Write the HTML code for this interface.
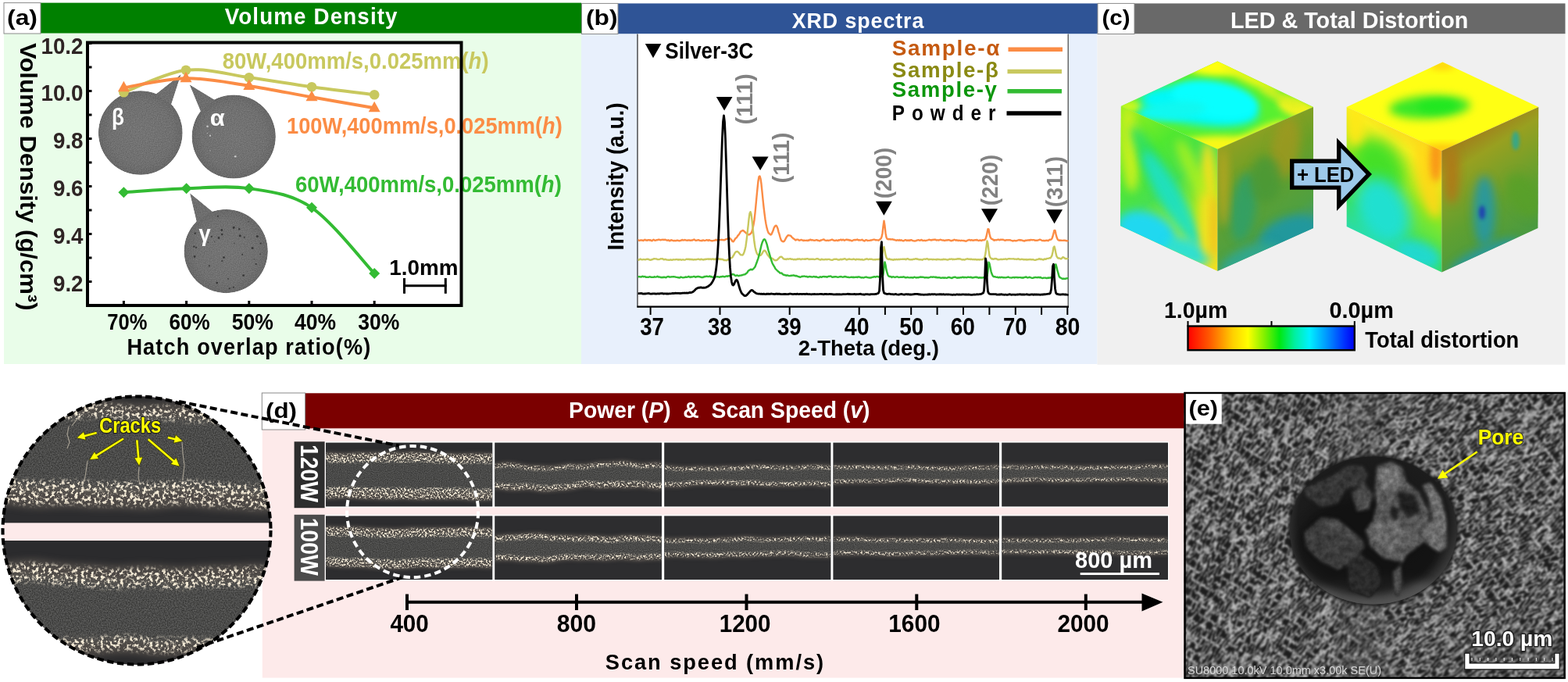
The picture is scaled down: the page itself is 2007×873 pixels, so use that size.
<!DOCTYPE html>
<html lang="en"><head><meta charset="utf-8"><title>Figure</title>
<style>
html,body{margin:0;padding:0;background:#fff;}
body{width:2007px;height:873px;overflow:hidden;}
svg{display:block;font-family:"Liberation Sans",sans-serif;}
</style></head><body>
<svg width="2007" height="873" viewBox="0 0 2007 873">
<defs>
<clipPath id="clipB"><rect x="816.6" y="44" width="750" height="348"/></clipPath>
<radialGradient id="sampG" cx="0.5" cy="0.5" r="0.5">
<stop offset="0" stop-color="#747474"/><stop offset="0.75" stop-color="#707070"/><stop offset="1" stop-color="#686868"/></radialGradient>
<filter id="grain" x="0" y="0" width="100%" height="100%" color-interpolation-filters="sRGB">
<feTurbulence type="fractalNoise" baseFrequency="0.8" numOctaves="1" seed="2" result="n"/>
<feColorMatrix in="n" type="matrix" values="1 0 0 0 0  1 0 0 0 0  1 0 0 0 0  0 0 0 0 1" result="m"/>
<feComposite in="SourceGraphic" in2="m" operator="arithmetic" k1="0" k2="1" k3="0.2" k4="-0.1" result="c"/>
<feComposite in="c" in2="SourceGraphic" operator="in"/>
</filter>

<linearGradient id="cbar" x1="0" x2="1" y1="0" y2="0">
<stop offset="0" stop-color="#ff0000"/><stop offset="0.13" stop-color="#ff5a00"/><stop offset="0.27" stop-color="#ffd000"/>
<stop offset="0.36" stop-color="#ffff00"/><stop offset="0.46" stop-color="#80f000"/><stop offset="0.55" stop-color="#00e810"/>
<stop offset="0.64" stop-color="#00f0a0"/><stop offset="0.73" stop-color="#00f0ff"/><stop offset="0.84" stop-color="#0090ff"/>
<stop offset="0.94" stop-color="#0030ff"/><stop offset="1" stop-color="#0000f0"/></linearGradient>
<linearGradient id="c1left" gradientUnits="userSpaceOnUse" x1="1434" y1="150" x2="1558" y2="300">
<stop offset="0" stop-color="#90f020"/><stop offset="0.3" stop-color="#50e830"/><stop offset="0.55" stop-color="#48e050"/>
<stop offset="0.8" stop-color="#a8ec20"/><stop offset="1" stop-color="#f0e020"/></linearGradient>
<linearGradient id="c1right" gradientUnits="userSpaceOnUse" x1="1560" y1="180" x2="1660" y2="330">
<stop offset="0" stop-color="#98a020"/><stop offset="0.35" stop-color="#68a028"/><stop offset="0.7" stop-color="#50a040"/>
<stop offset="1" stop-color="#3098a0"/></linearGradient>
<linearGradient id="c2left" gradientUnits="userSpaceOnUse" x1="1840" y1="160" x2="1730" y2="320">
<stop offset="0" stop-color="#ffb818"/><stop offset="0.25" stop-color="#f8f020"/><stop offset="0.5" stop-color="#90e820"/>
<stop offset="0.75" stop-color="#38e060"/><stop offset="1" stop-color="#20d8e0"/></linearGradient>
<linearGradient id="c2right" gradientUnits="userSpaceOnUse" x1="1850" y1="170" x2="1950" y2="330">
<stop offset="0" stop-color="#a86818"/><stop offset="0.25" stop-color="#98a020"/><stop offset="0.6" stop-color="#60a030"/>
<stop offset="1" stop-color="#409848"/></linearGradient>
<filter color-interpolation-filters="sRGB" id="bl2" x="-50%" y="-50%" width="200%" height="200%"><feGaussianBlur stdDeviation="2"/></filter>
<filter color-interpolation-filters="sRGB" id="bl4" x="-50%" y="-50%" width="200%" height="200%"><feGaussianBlur stdDeviation="4"/></filter>
<filter color-interpolation-filters="sRGB" id="bl6" x="-50%" y="-50%" width="200%" height="200%"><feGaussianBlur stdDeviation="6"/></filter>
<filter color-interpolation-filters="sRGB" id="bl8" x="-50%" y="-50%" width="200%" height="200%"><feGaussianBlur stdDeviation="9"/></filter>

<filter id="speck" x="-2%" y="-10%" width="104%" height="120%" color-interpolation-filters="sRGB">
<feTurbulence type="fractalNoise" baseFrequency="0.45 0.45" numOctaves="2" seed="7" result="n"/>
<feColorMatrix in="n" type="matrix" values="0 0 0 0 0.96  0 0 0 0 0.92  0 0 0 0 0.84  6 0 0 0 -2.85" result="m"/>
<feGaussianBlur in="SourceGraphic" stdDeviation="0.8" result="s"/>
<feComposite in="m" in2="s" operator="in"/>
</filter>
<filter id="speckZ" x="-2%" y="-10%" width="104%" height="120%" color-interpolation-filters="sRGB">
<feTurbulence type="fractalNoise" baseFrequency="0.24 0.24" numOctaves="3" seed="17" result="n"/>
<feColorMatrix in="n" type="matrix" values="0 0 0 0 0.96  0 0 0 0 0.92  0 0 0 0 0.84  6 0 0 0 -2.95" result="m"/>
<feGaussianBlur in="SourceGraphic" stdDeviation="2.5" result="s"/>
<feComposite in="m" in2="s" operator="in"/>
</filter>
<filter id="grainD" x="0" y="0" width="100%" height="100%" color-interpolation-filters="sRGB">
<feTurbulence type="fractalNoise" baseFrequency="0.9" numOctaves="1" seed="11" result="n"/>
<feColorMatrix in="n" type="matrix" values="0.3 0 0 0 0.14  0.3 0 0 0 0.14  0.3 0 0 0 0.135  0 0 0 0 1" result="m"/>
<feGaussianBlur in="SourceGraphic" stdDeviation="1.2" result="s"/>
<feComposite in="m" in2="s" operator="in"/>
</filter>
<filter id="grainZ" x="0" y="0" width="100%" height="100%" color-interpolation-filters="sRGB">
<feTurbulence type="fractalNoise" baseFrequency="0.7" numOctaves="1" seed="12" result="n"/>
<feColorMatrix in="n" type="matrix" values="0.36 0 0 0 0.115  0.36 0 0 0 0.115  0.36 0 0 0 0.11  0 0 0 0 1" result="m"/>
<feGaussianBlur in="SourceGraphic" stdDeviation="2.5" result="s"/>
<feComposite in="m" in2="s" operator="in"/>
</filter>

<filter id="sem" x="0" y="0" width="100%" height="100%" color-interpolation-filters="sRGB">
<feTurbulence type="turbulence" baseFrequency="0.09 0.25" numOctaves="2" seed="3"/>
<feColorMatrix type="matrix" values="-4 0 0 0 1.25  -4 0 0 0 1.25  -4 0 0 0 1.25  0 0 0 0 1"/>
<feGaussianBlur stdDeviation="0.8"/>
<feColorMatrix type="matrix" values="0.66 0 0 0 0.115  0 0.66 0 0 0.115  0 0 0.66 0 0.115  0 0 0 0 1"/>
</filter>
<filter id="sem2" x="0" y="0" width="100%" height="100%" color-interpolation-filters="sRGB">
<feTurbulence type="turbulence" baseFrequency="0.085 0.25" numOctaves="2" seed="8"/>
<feColorMatrix type="matrix" values="-4 0 0 0 1.25  -4 0 0 0 1.25  -4 0 0 0 1.25  0 0 0 0 1"/>
<feGaussianBlur stdDeviation="0.8"/>
<feColorMatrix type="matrix" values="0.66 0 0 0 0.115  0 0.66 0 0 0.115  0 0 0.66 0 0.115  0 0 0 0 1"/>
</filter>
<filter id="semP" x="-5%" y="-5%" width="110%" height="110%" color-interpolation-filters="sRGB">
<feTurbulence type="fractalNoise" baseFrequency="0.13" numOctaves="3" seed="9" result="n"/>
<feColorMatrix in="n" type="matrix" values="1 0 0 0 0  1 0 0 0 0  1 0 0 0 0  0 0 0 0 1" result="m"/>
<feGaussianBlur in="SourceGraphic" stdDeviation="2" result="s"/>
<feComposite in="s" in2="m" operator="arithmetic" k1="0.7" k2="0.65" k3="0" k4="0" result="c"/>
<feComposite in="c" in2="s" operator="in"/>
</filter>
<radialGradient id="poreG" cx="0.5" cy="0.42" r="0.62">
<stop offset="0" stop-color="#141414"/><stop offset="0.72" stop-color="#1c1c1c"/><stop offset="0.88" stop-color="#3c3c3c"/><stop offset="1" stop-color="#5a5a5a"/></radialGradient>
</defs>
<rect x="5.0" y="42.0" width="739.0" height="424.0" fill="#e9fde9"/>
<rect x="52.0" y="3.6" width="692.0" height="38.9" fill="#008000"/>
<rect x="5.0" y="3.6" width="47.0" height="39.4" fill="#fff" stroke="#8a8a8a" stroke-width="1"/>
<text x="9.0" y="32.0" font-size="28.34" font-weight="bold" fill="#000" textLength="39.0" lengthAdjust="spacingAndGlyphs">(a)</text>
<text x="287.7" y="31.0" font-size="29.07" font-weight="bold" fill="#fff" textLength="222.0" lengthAdjust="spacingAndGlyphs" letter-spacing="1.2">Volume Density</text>
<rect x="112.0" y="54.5" width="478.5" height="336.5" fill="#fff"/>
<line x1="112.0" y1="55.5" x2="117.5" y2="55.5" stroke="#000" stroke-width="3"/>
<line x1="112.0" y1="86.0" x2="117.5" y2="86.0" stroke="#000" stroke-width="3"/>
<line x1="112.0" y1="116.5" x2="117.5" y2="116.5" stroke="#000" stroke-width="3"/>
<line x1="112.0" y1="147.0" x2="117.5" y2="147.0" stroke="#000" stroke-width="3"/>
<line x1="112.0" y1="177.5" x2="117.5" y2="177.5" stroke="#000" stroke-width="3"/>
<line x1="112.0" y1="208.0" x2="117.5" y2="208.0" stroke="#000" stroke-width="3"/>
<line x1="112.0" y1="238.5" x2="117.5" y2="238.5" stroke="#000" stroke-width="3"/>
<line x1="112.0" y1="269.0" x2="117.5" y2="269.0" stroke="#000" stroke-width="3"/>
<line x1="112.0" y1="299.5" x2="117.5" y2="299.5" stroke="#000" stroke-width="3"/>
<line x1="112.0" y1="330.0" x2="117.5" y2="330.0" stroke="#000" stroke-width="3"/>
<line x1="112.0" y1="360.5" x2="117.5" y2="360.5" stroke="#000" stroke-width="3"/>
<text x="52.5" y="68.8" font-size="28.78" font-weight="bold" fill="#2e2424" textLength="54.0" lengthAdjust="spacingAndGlyphs">10.2</text>
<text x="52.5" y="129.1" font-size="28.78" font-weight="bold" fill="#2e2424" textLength="54.0" lengthAdjust="spacingAndGlyphs">10.0</text>
<text x="68.0" y="189.8" font-size="28.78" font-weight="bold" fill="#2e2424" textLength="38.5" lengthAdjust="spacingAndGlyphs">9.8</text>
<text x="68.0" y="250.8" font-size="28.78" font-weight="bold" fill="#2e2424" textLength="38.5" lengthAdjust="spacingAndGlyphs">9.6</text>
<text x="68.0" y="311.8" font-size="28.78" font-weight="bold" fill="#2e2424" textLength="38.5" lengthAdjust="spacingAndGlyphs">9.4</text>
<text x="68.0" y="372.8" font-size="28.78" font-weight="bold" fill="#2e2424" textLength="38.5" lengthAdjust="spacingAndGlyphs">9.2</text>
<line x1="158.4" y1="385.0" x2="158.4" y2="391.0" stroke="#000" stroke-width="3"/>
<line x1="238.6" y1="385.0" x2="238.6" y2="391.0" stroke="#000" stroke-width="3"/>
<line x1="318.8" y1="385.0" x2="318.8" y2="391.0" stroke="#000" stroke-width="3"/>
<line x1="399.0" y1="385.0" x2="399.0" y2="391.0" stroke="#000" stroke-width="3"/>
<line x1="479.2" y1="385.0" x2="479.2" y2="391.0" stroke="#000" stroke-width="3"/>
<text x="137.3" y="421.6" font-size="29.94" font-weight="bold" fill="#000" textLength="51.2" lengthAdjust="spacingAndGlyphs">70%</text>
<text x="216.5" y="421.6" font-size="29.94" font-weight="bold" fill="#000" textLength="52.2" lengthAdjust="spacingAndGlyphs">60%</text>
<text x="296.7" y="421.6" font-size="29.94" font-weight="bold" fill="#000" textLength="53.2" lengthAdjust="spacingAndGlyphs">50%</text>
<text x="377.0" y="421.6" font-size="29.94" font-weight="bold" fill="#000" textLength="53.0" lengthAdjust="spacingAndGlyphs">40%</text>
<text x="458.2" y="421.6" font-size="29.94" font-weight="bold" fill="#000" textLength="53.1" lengthAdjust="spacingAndGlyphs">30%</text>
<text x="162.4" y="454.4" font-size="28.63" font-weight="bold" fill="#000" textLength="313.0" lengthAdjust="spacingAndGlyphs" letter-spacing="1.2">Hatch overlap ratio(%)</text>
<text x="0" y="0" font-size="29.51" font-weight="bold" fill="#000" textLength="342.5" lengthAdjust="spacingAndGlyphs" transform="translate(26.0 55.0) rotate(90)">Volume Density  (g/cm³)</text>
<g filter="url(#grain)"><circle cx="179.8" cy="170" r="53.8" fill="url(#sampG)"/><polygon points="231.6,95.2 199.0,121.0 219.0,134.0" fill="#6e6e6e"/>
<circle cx="299.2" cy="175" r="53.6" fill="url(#sampG)"/><polygon points="242.6,108.3 257.0,143.0 275.0,128.0" fill="#6e6e6e"/>
<circle cx="289.2" cy="321.6" r="53.6" fill="url(#sampG)"/><polygon points="243.0,247.2 252.0,285.0 272.0,271.0" fill="#6e6e6e"/>
</g>
<circle cx="291.9" cy="356.9" r="0.9" fill="#2a2a2a" opacity="0.8"/><circle cx="259.0" cy="298.5" r="0.7" fill="#2a2a2a" opacity="0.8"/><circle cx="333.0" cy="325.2" r="0.8" fill="#2a2a2a" opacity="0.8"/><circle cx="293.9" cy="369.3" r="1.0" fill="#2a2a2a" opacity="0.8"/><circle cx="306.3" cy="293.2" r="1.2" fill="#2a2a2a" opacity="0.8"/><circle cx="311.6" cy="352.6" r="1.4" fill="#2a2a2a" opacity="0.8"/><circle cx="248.3" cy="315.6" r="1.2" fill="#2a2a2a" opacity="0.8"/><circle cx="327.7" cy="338.0" r="1.1" fill="#2a2a2a" opacity="0.8"/><circle cx="286.5" cy="329.6" r="1.4" fill="#2a2a2a" opacity="0.8"/><circle cx="249.1" cy="328.5" r="1.4" fill="#2a2a2a" opacity="0.8"/><circle cx="278.9" cy="276.7" r="1.0" fill="#2a2a2a" opacity="0.8"/><circle cx="299.3" cy="291.2" r="1.4" fill="#2a2a2a" opacity="0.8"/><circle cx="300.0" cy="311.3" r="0.7" fill="#2a2a2a" opacity="0.8"/><circle cx="298.9" cy="367.8" r="1.0" fill="#2a2a2a" opacity="0.8"/><circle cx="270.8" cy="302.8" r="1.1" fill="#2a2a2a" opacity="0.8"/><circle cx="267.8" cy="340.3" r="1.1" fill="#2a2a2a" opacity="0.8"/><circle cx="249.8" cy="298.6" r="1.2" fill="#2a2a2a" opacity="0.8"/><circle cx="329.3" cy="302.4" r="1.5" fill="#2a2a2a" opacity="0.8"/><circle cx="280.0" cy="304.5" r="1.4" fill="#2a2a2a" opacity="0.8"/><circle cx="333.7" cy="311.5" r="1.1" fill="#2a2a2a" opacity="0.8"/><circle cx="284.2" cy="300.1" r="1.3" fill="#2a2a2a" opacity="0.8"/><circle cx="266.3" cy="310.2" r="0.7" fill="#2a2a2a" opacity="0.8"/><circle cx="318.2" cy="283.7" r="0.7" fill="#2a2a2a" opacity="0.8"/><circle cx="298.8" cy="292.4" r="0.7" fill="#2a2a2a" opacity="0.8"/><circle cx="277.7" cy="362.1" r="1.4" fill="#2a2a2a" opacity="0.8"/><circle cx="325.4" cy="331.9" r="0.6" fill="#2a2a2a" opacity="0.8"/><circle cx="283.8" cy="294.5" r="1.4" fill="#2a2a2a" opacity="0.8"/><circle cx="323.1" cy="317.5" r="1.5" fill="#2a2a2a" opacity="0.8"/><circle cx="284.3" cy="334.0" r="1.1" fill="#2a2a2a" opacity="0.8"/><circle cx="310.1" cy="325.8" r="1.0" fill="#2a2a2a" opacity="0.8"/><circle cx="274.6" cy="309.5" r="0.6" fill="#2a2a2a" opacity="0.8"/><circle cx="307.3" cy="301.7" r="1.5" fill="#2a2a2a" opacity="0.8"/><circle cx="312.7" cy="303.8" r="1.0" fill="#2a2a2a" opacity="0.8"/><circle cx="251.0" cy="316.8" r="1.1" fill="#2a2a2a" opacity="0.8"/><circle cx="265.5" cy="161.8" r="1.3" fill="#ddd" opacity="0.8"/><circle cx="269.0" cy="173.7" r="1.1" fill="#ddd" opacity="0.8"/><circle cx="301.2" cy="200.2" r="1.3" fill="#ddd" opacity="0.8"/><circle cx="265.4" cy="170.5" r="0.6" fill="#ddd" opacity="0.8"/><circle cx="269.0" cy="192.8" r="0.6" fill="#ddd" opacity="0.8"/><circle cx="271.9" cy="150.7" r="0.6" fill="#ddd" opacity="0.8"/><circle cx="277.3" cy="152.5" r="1.1" fill="#ddd" opacity="0.8"/>
<text x="143.0" y="160.0" font-size="29.07" font-weight="bold" fill="#fff" textLength="16.0" lengthAdjust="spacingAndGlyphs">β</text>
<text x="268.7" y="161.4" font-size="29.07" font-weight="bold" fill="#fff" textLength="19.0" lengthAdjust="spacingAndGlyphs">α</text>
<text x="254.6" y="309.2" font-size="29.94" font-weight="bold" fill="#fff" textLength="15.1" lengthAdjust="spacingAndGlyphs">γ</text>
<path d="M158.4 118.3 C171.7 113.5 211.3 93.0 238.0 89.8 C264.7 86.6 292.0 95.6 318.8 99.2 C345.6 102.8 372.3 107.6 399.0 111.3 C425.7 115.0 465.8 119.6 479.2 121.3" fill="none" stroke="#c8c85e" stroke-width="4" stroke-linecap="round"/>
<circle cx="158.4" cy="118.3" r="6.3" fill="#c8c85e"/><circle cx="238" cy="89.8" r="6.3" fill="#c8c85e"/><circle cx="318.8" cy="99.2" r="6.3" fill="#c8c85e"/><circle cx="399" cy="111.3" r="6.3" fill="#c8c85e"/><circle cx="479.2" cy="121.3" r="6.3" fill="#c8c85e"/><path d="M158.4 112.3 C171.7 110.3 211.3 100.6 238.0 100.2 C264.7 99.8 292.0 105.9 318.8 109.9 C345.6 113.9 372.3 119.6 399.0 124.3 C425.7 129.0 465.8 136.0 479.2 138.3" fill="none" stroke="#fb8c45" stroke-width="4" stroke-linecap="round"/>
<polygon points="158.4,103.8 150.9,117.3 165.9,117.3" fill="#fb8c45"/>
<polygon points="238.0,91.7 230.5,105.2 245.5,105.2" fill="#fb8c45"/>
<polygon points="318.8,101.4 311.3,114.9 326.3,114.9" fill="#fb8c45"/>
<polygon points="399.0,115.8 391.5,129.3 406.5,129.3" fill="#fb8c45"/>
<polygon points="479.2,129.8 471.7,143.3 486.7,143.3" fill="#fb8c45"/>
<path d="M158.4 246.2 C171.8 245.4 211.9 242.0 238.6 241.2 C265.3 240.4 292.1 237.1 318.8 241.2 C345.5 245.3 372.3 247.7 399.0 265.8 C425.7 284.0 465.8 336.1 479.2 350.1" fill="none" stroke="#33bb33" stroke-width="4" stroke-linecap="round"/>
<polygon points="158.4,239.2 151.4,246.2 158.4,253.2 165.4,246.2" fill="#33bb33"/>
<polygon points="238.6,234.2 231.6,241.2 238.6,248.2 245.6,241.2" fill="#33bb33"/>
<polygon points="318.8,234.2 311.8,241.2 318.8,248.2 325.8,241.2" fill="#33bb33"/>
<polygon points="399.0,258.8 392.0,265.8 399.0,272.8 406.0,265.8" fill="#33bb33"/>
<polygon points="479.2,343.1 472.2,350.1 479.2,357.1 486.2,350.1" fill="#33bb33"/>

<text x="284.7" y="88.4" font-size="30.23" font-weight="bold" fill="#c8c85e" textLength="340.9" lengthAdjust="spacingAndGlyphs">80W,400mm/s,0.025mm(<tspan font-style="italic">h</tspan>)</text>
<text x="367.0" y="170.5" font-size="30.23" font-weight="bold" fill="#fb8c45" textLength="352.8" lengthAdjust="spacingAndGlyphs">100W,400mm/s,0.025mm(<tspan font-style="italic">h</tspan>)</text>
<text x="378.0" y="246.0" font-size="30.23" font-weight="bold" fill="#33bb33" textLength="340.8" lengthAdjust="spacingAndGlyphs">60W,400mm/s,0.025mm(<tspan font-style="italic">h</tspan>)</text>
<rect x="112.0" y="54.5" width="478.5" height="336.5" fill="none" stroke="#000" stroke-width="4"/>
<text x="498.3" y="351.7" font-size="27.18" font-weight="bold" fill="#000" textLength="88.2" lengthAdjust="spacingAndGlyphs">1.0mm</text>
<line x1="516.3" y1="365.8" x2="571.5" y2="365.8" stroke="#000" stroke-width="3"/>
<line x1="517.5" y1="356.0" x2="517.5" y2="375.8" stroke="#000" stroke-width="3"/>
<line x1="570.3" y1="356.0" x2="570.3" y2="375.8" stroke="#000" stroke-width="3"/>
<rect x="744.0" y="42.0" width="660.5" height="424.0" fill="#e8f0fc"/>
<rect x="791.0" y="4.4" width="614.0" height="38.8" fill="#2f5496"/>
<rect x="744.5" y="4.4" width="46.5" height="39.1" fill="#fff" stroke="#8a8a8a" stroke-width="1"/>
<text x="750.0" y="32.2" font-size="28.34" font-weight="bold" fill="#000" textLength="40.5" lengthAdjust="spacingAndGlyphs">(b)</text>
<text x="1013.7" y="36.3" font-size="28.49" font-weight="bold" fill="#fff" textLength="169.6" lengthAdjust="spacingAndGlyphs" letter-spacing="1">XRD spectra</text>
<rect x="816.0" y="43.5" width="551.5" height="349.0" fill="#fff"/>
<line x1="816.0" y1="43.5" x2="816.0" y2="393.5" stroke="#222" stroke-width="1.2"/>
<line x1="1367.2" y1="43.5" x2="1367.2" y2="393.5" stroke="#444" stroke-width="1.2"/>
<line x1="815.5" y1="392.7" x2="1368.0" y2="392.7" stroke="#000" stroke-width="2.2"/>
<line x1="832.6" y1="392.0" x2="832.6" y2="403.0" stroke="#000" stroke-width="2"/>
<line x1="921.5" y1="392.0" x2="921.5" y2="403.0" stroke="#000" stroke-width="2"/>
<line x1="1010.7" y1="392.0" x2="1010.7" y2="403.0" stroke="#000" stroke-width="2"/>
<line x1="1099.7" y1="392.0" x2="1099.7" y2="403.0" stroke="#000" stroke-width="2"/>
<line x1="1132.9" y1="392.0" x2="1132.9" y2="403.0" stroke="#000" stroke-width="2"/>
<line x1="1166.2" y1="392.0" x2="1166.2" y2="403.0" stroke="#000" stroke-width="2"/>
<line x1="1199.6" y1="392.0" x2="1199.6" y2="403.0" stroke="#000" stroke-width="2"/>
<line x1="1233.0" y1="392.0" x2="1233.0" y2="403.0" stroke="#000" stroke-width="2"/>
<line x1="1266.4" y1="392.0" x2="1266.4" y2="403.0" stroke="#000" stroke-width="2"/>
<line x1="1299.8" y1="392.0" x2="1299.8" y2="403.0" stroke="#000" stroke-width="2"/>
<line x1="1333.1" y1="392.0" x2="1333.1" y2="403.0" stroke="#000" stroke-width="2"/>
<line x1="1366.3" y1="392.0" x2="1366.3" y2="403.0" stroke="#000" stroke-width="2"/>
<g clip-path="url(#clipB)">
<path d="M816.5 307.1 L817.5 307.7 L818.5 308.0 L819.5 307.5 L820.5 307.5 L821.5 307.5 L822.5 307.7 L823.5 308.0 L824.5 307.3 L825.5 306.8 L826.5 307.5 L827.5 307.5 L828.5 307.8 L829.5 307.1 L830.5 307.2 L831.5 307.6 L832.5 307.2 L833.5 307.9 L834.5 308.3 L835.5 307.4 L836.5 306.8 L837.5 307.2 L838.5 307.9 L839.5 307.6 L840.5 307.2 L841.5 307.2 L842.5 306.8 L843.5 306.7 L844.5 307.0 L845.5 307.2 L846.5 307.0 L847.5 306.9 L848.5 306.8 L849.5 307.0 L850.5 307.0 L851.5 306.6 L852.5 307.4 L853.5 307.5 L854.5 307.7 L855.5 307.2 L856.5 308.0 L857.5 308.3 L858.5 307.5 L859.5 307.3 L860.5 307.7 L861.5 307.9 L862.5 308.3 L863.5 307.9 L864.5 308.2 L865.5 308.1 L866.5 307.6 L867.5 307.7 L868.5 308.1 L869.5 308.3 L870.5 308.0 L871.5 307.9 L872.5 307.2 L873.5 307.0 L874.5 307.6 L875.5 307.4 L876.5 307.0 L877.5 307.3 L878.5 307.6 L879.5 307.8 L880.5 307.5 L881.5 307.4 L882.5 307.5 L883.5 307.8 L884.5 307.7 L885.5 307.5 L886.5 307.5 L887.5 306.9 L888.5 306.5 L889.5 307.2 L890.5 307.9 L891.5 307.8 L892.5 307.5 L893.5 307.1 L894.5 307.2 L895.5 307.9 L896.5 308.1 L897.5 307.9 L898.5 308.2 L899.5 307.5 L900.5 307.5 L901.5 308.0 L902.5 307.9 L903.5 307.6 L904.5 307.2 L905.5 307.4 L906.5 308.0 L907.5 307.1 L908.5 307.6 L909.5 307.9 L910.5 308.2 L911.5 308.1 L912.5 308.2 L913.5 307.9 L914.5 307.7 L915.5 307.5 L916.5 306.8 L917.5 307.5 L918.5 307.5 L919.5 307.0 L920.5 307.1 L921.5 307.1 L922.5 307.0 L923.5 306.9 L924.5 307.0 L925.5 307.2 L926.5 307.3 L927.5 307.2 L928.5 306.5 L929.5 306.3 L930.5 305.8 L931.5 305.5 L932.5 305.2 L933.5 304.7 L934.5 305.1 L935.5 306.4 L936.5 307.4 L937.5 309.0 L938.5 309.4 L939.5 308.2 L940.5 306.6 L941.5 305.0 L942.5 304.5 L943.5 303.1 L944.5 301.5 L945.5 300.6 L946.5 299.1 L947.5 297.3 L948.5 296.0 L949.5 295.6 L950.5 295.0 L951.5 295.1 L952.5 296.1 L953.5 297.0 L954.5 297.8 L955.5 298.9 L956.5 299.3 L957.5 300.1 L958.5 300.5 L959.5 300.1 L960.5 299.1 L961.5 298.5 L962.5 296.2 L963.5 292.3 L964.5 287.6 L965.5 281.5 L966.5 272.6 L967.5 262.4 L968.5 251.5 L969.5 241.4 L970.5 231.7 L971.5 226.2 L972.5 225.4 L973.5 228.8 L974.5 235.5 L975.5 245.3 L976.5 255.4 L977.5 264.9 L978.5 273.1 L979.5 280.9 L980.5 286.8 L981.5 291.7 L982.5 295.1 L983.5 297.9 L984.5 299.0 L985.5 299.7 L986.5 300.5 L987.5 299.9 L988.5 297.5 L989.5 295.3 L990.5 292.0 L991.5 290.2 L992.5 288.9 L993.5 288.8 L994.5 290.1 L995.5 292.5 L996.5 296.8 L997.5 299.7 L998.5 303.5 L999.5 306.7 L1000.5 308.4 L1001.5 308.8 L1002.5 309.4 L1003.5 309.0 L1004.5 307.6 L1005.5 305.7 L1006.5 303.9 L1007.5 302.4 L1008.5 301.2 L1009.5 301.3 L1010.5 301.4 L1011.5 301.6 L1012.5 302.1 L1013.5 303.6 L1014.5 304.4 L1015.5 305.4 L1016.5 305.8 L1017.5 306.8 L1018.5 307.5 L1019.5 306.8 L1020.5 306.6 L1021.5 306.6 L1022.5 307.5 L1023.5 307.7 L1024.5 307.3 L1025.5 306.9 L1026.5 307.3 L1027.5 307.7 L1028.5 308.1 L1029.5 307.6 L1030.5 307.9 L1031.5 307.9 L1032.5 307.7 L1033.5 308.1 L1034.5 307.5 L1035.5 307.7 L1036.5 307.0 L1037.5 306.7 L1038.5 307.5 L1039.5 307.1 L1040.5 307.5 L1041.5 307.6 L1042.5 307.9 L1043.5 307.6 L1044.5 307.3 L1045.5 307.1 L1046.5 307.7 L1047.5 307.7 L1048.5 308.2 L1049.5 308.4 L1050.5 307.5 L1051.5 307.5 L1052.5 307.0 L1053.5 306.6 L1054.5 306.4 L1055.5 307.3 L1056.5 307.7 L1057.5 308.0 L1058.5 307.6 L1059.5 307.7 L1060.5 308.0 L1061.5 307.6 L1062.5 307.6 L1063.5 307.2 L1064.5 306.8 L1065.5 306.8 L1066.5 307.5 L1067.5 307.6 L1068.5 308.1 L1069.5 307.8 L1070.5 307.4 L1071.5 307.8 L1072.5 308.1 L1073.5 307.2 L1074.5 307.5 L1075.5 307.0 L1076.5 306.7 L1077.5 307.5 L1078.5 306.9 L1079.5 306.8 L1080.5 307.7 L1081.5 307.5 L1082.5 307.0 L1083.5 306.8 L1084.5 306.7 L1085.5 307.4 L1086.5 306.9 L1087.5 307.7 L1088.5 307.4 L1089.5 308.1 L1090.5 308.4 L1091.5 307.8 L1092.5 307.3 L1093.5 307.4 L1094.5 306.9 L1095.5 307.3 L1096.5 306.8 L1097.5 306.5 L1098.5 307.5 L1099.5 307.2 L1100.5 307.5 L1101.5 307.4 L1102.5 307.2 L1103.5 306.8 L1104.5 307.6 L1105.5 308.1 L1106.5 308.5 L1107.5 307.6 L1108.5 307.2 L1109.5 307.4 L1110.5 308.1 L1111.5 307.9 L1112.5 307.9 L1113.5 307.9 L1114.5 307.4 L1115.5 307.5 L1116.5 307.2 L1117.5 306.9 L1118.5 306.6 L1119.5 306.6 L1120.5 307.4 L1121.5 307.3 L1122.5 307.4 L1123.5 307.4 L1124.5 307.7 L1125.5 307.0 L1126.5 306.3 L1127.5 305.4 L1128.5 303.3 L1129.5 298.7 L1130.5 289.7 L1131.5 282.7 L1132.5 288.9 L1133.5 298.4 L1134.5 303.8 L1135.5 305.8 L1136.5 306.2 L1137.5 306.0 L1138.5 306.2 L1139.5 306.1 L1140.5 306.6 L1141.5 306.4 L1142.5 306.2 L1143.5 306.9 L1144.5 306.8 L1145.5 307.4 L1146.5 307.4 L1147.5 307.9 L1148.5 307.3 L1149.5 307.4 L1150.5 307.8 L1151.5 307.1 L1152.5 307.9 L1153.5 307.3 L1154.5 307.7 L1155.5 308.3 L1156.5 308.4 L1157.5 307.8 L1158.5 307.2 L1159.5 307.3 L1160.5 308.0 L1161.5 307.5 L1162.5 308.0 L1163.5 307.4 L1164.5 308.0 L1165.5 307.2 L1166.5 307.1 L1167.5 307.8 L1168.5 308.1 L1169.5 308.4 L1170.5 308.5 L1171.5 308.4 L1172.5 308.3 L1173.5 307.6 L1174.5 307.5 L1175.5 307.1 L1176.5 307.5 L1177.5 307.8 L1178.5 307.4 L1179.5 306.9 L1180.5 307.7 L1181.5 308.1 L1182.5 307.9 L1183.5 307.8 L1184.5 308.2 L1185.5 307.9 L1186.5 307.6 L1187.5 307.4 L1188.5 307.1 L1189.5 306.7 L1190.5 307.2 L1191.5 307.3 L1192.5 307.5 L1193.5 306.9 L1194.5 307.0 L1195.5 306.8 L1196.5 306.6 L1197.5 306.7 L1198.5 307.5 L1199.5 307.4 L1200.5 307.3 L1201.5 307.6 L1202.5 307.2 L1203.5 306.7 L1204.5 307.1 L1205.5 307.3 L1206.5 307.6 L1207.5 307.5 L1208.5 307.8 L1209.5 308.0 L1210.5 307.5 L1211.5 307.5 L1212.5 307.5 L1213.5 307.2 L1214.5 307.2 L1215.5 307.4 L1216.5 308.0 L1217.5 308.4 L1218.5 307.8 L1219.5 307.9 L1220.5 307.2 L1221.5 306.8 L1222.5 307.1 L1223.5 307.8 L1224.5 307.3 L1225.5 307.7 L1226.5 308.1 L1227.5 307.7 L1228.5 307.9 L1229.5 308.2 L1230.5 307.8 L1231.5 307.9 L1232.5 308.1 L1233.5 308.0 L1234.5 308.3 L1235.5 308.5 L1236.5 308.7 L1237.5 308.3 L1238.5 307.6 L1239.5 307.3 L1240.5 307.0 L1241.5 307.3 L1242.5 307.7 L1243.5 307.1 L1244.5 307.5 L1245.5 307.8 L1246.5 307.5 L1247.5 307.5 L1248.5 307.1 L1249.5 307.5 L1250.5 306.9 L1251.5 307.7 L1252.5 308.0 L1253.5 307.9 L1254.5 307.4 L1255.5 307.8 L1256.5 308.1 L1257.5 307.2 L1258.5 307.4 L1259.5 307.4 L1260.5 306.9 L1261.5 305.8 L1262.5 302.7 L1263.5 298.1 L1264.5 293.3 L1265.5 293.4 L1266.5 299.2 L1267.5 303.4 L1268.5 305.2 L1269.5 306.1 L1270.5 306.1 L1271.5 307.1 L1272.5 307.8 L1273.5 307.1 L1274.5 307.4 L1275.5 307.3 L1276.5 306.9 L1277.5 306.8 L1278.5 306.8 L1279.5 307.4 L1280.5 306.8 L1281.5 306.7 L1282.5 306.9 L1283.5 306.6 L1284.5 307.1 L1285.5 307.4 L1286.5 307.9 L1287.5 307.4 L1288.5 307.2 L1289.5 307.4 L1290.5 307.2 L1291.5 307.4 L1292.5 307.2 L1293.5 307.5 L1294.5 307.9 L1295.5 308.2 L1296.5 308.5 L1297.5 308.2 L1298.5 307.9 L1299.5 308.2 L1300.5 308.3 L1301.5 308.1 L1302.5 307.7 L1303.5 307.4 L1304.5 307.0 L1305.5 307.6 L1306.5 307.1 L1307.5 307.6 L1308.5 307.6 L1309.5 308.2 L1310.5 308.3 L1311.5 308.6 L1312.5 307.7 L1313.5 307.7 L1314.5 307.7 L1315.5 307.4 L1316.5 307.5 L1317.5 307.3 L1318.5 307.5 L1319.5 306.9 L1320.5 307.1 L1321.5 307.2 L1322.5 307.1 L1323.5 307.1 L1324.5 307.7 L1325.5 307.8 L1326.5 307.7 L1327.5 307.8 L1328.5 307.6 L1329.5 307.2 L1330.5 306.7 L1331.5 306.7 L1332.5 307.2 L1333.5 307.8 L1334.5 308.1 L1335.5 307.8 L1336.5 308.3 L1337.5 307.9 L1338.5 308.1 L1339.5 307.7 L1340.5 307.8 L1341.5 308.2 L1342.5 307.5 L1343.5 306.8 L1344.5 306.9 L1345.5 306.5 L1346.5 305.3 L1347.5 302.5 L1348.5 298.8 L1349.5 294.9 L1350.5 294.9 L1351.5 299.6 L1352.5 303.5 L1353.5 305.9 L1354.5 307.2 L1355.5 307.7 L1356.5 307.5 L1357.5 307.8 L1358.5 307.8 L1359.5 307.9 L1360.5 307.9 L1361.5 307.6 L1362.5 307.7 L1363.5 307.8 L1364.5 308.2 L1365.5 308.3 L1366.5 308.4" fill="none" stroke="#fb8c45" stroke-width="2.4" stroke-linejoin="round" stroke-linecap="round"/>
<path d="M816.5 332.5 L817.5 332.8 L818.5 332.0 L819.5 331.5 L820.5 332.1 L821.5 332.3 L822.5 332.4 L823.5 332.0 L824.5 332.1 L825.5 332.2 L826.5 332.2 L827.5 331.7 L828.5 331.7 L829.5 331.7 L830.5 332.1 L831.5 332.6 L832.5 332.8 L833.5 332.5 L834.5 332.3 L835.5 331.9 L836.5 331.4 L837.5 331.1 L838.5 331.4 L839.5 331.4 L840.5 331.5 L841.5 332.1 L842.5 332.1 L843.5 332.1 L844.5 331.8 L845.5 331.3 L846.5 331.4 L847.5 331.2 L848.5 331.5 L849.5 332.3 L850.5 332.3 L851.5 331.8 L852.5 332.3 L853.5 332.5 L854.5 332.6 L855.5 332.8 L856.5 332.7 L857.5 332.8 L858.5 332.3 L859.5 332.7 L860.5 332.9 L861.5 332.1 L862.5 332.4 L863.5 332.4 L864.5 332.2 L865.5 332.1 L866.5 332.0 L867.5 332.5 L868.5 332.3 L869.5 332.5 L870.5 332.1 L871.5 332.5 L872.5 332.7 L873.5 332.4 L874.5 332.3 L875.5 332.6 L876.5 332.6 L877.5 332.3 L878.5 331.8 L879.5 331.7 L880.5 332.0 L881.5 331.6 L882.5 332.2 L883.5 331.8 L884.5 332.3 L885.5 331.9 L886.5 332.4 L887.5 332.5 L888.5 332.2 L889.5 332.1 L890.5 332.2 L891.5 332.2 L892.5 331.9 L893.5 331.6 L894.5 331.7 L895.5 332.3 L896.5 332.3 L897.5 331.6 L898.5 332.1 L899.5 332.3 L900.5 332.6 L901.5 331.9 L902.5 332.2 L903.5 331.6 L904.5 331.8 L905.5 331.6 L906.5 331.4 L907.5 332.0 L908.5 331.5 L909.5 331.6 L910.5 332.1 L911.5 331.7 L912.5 331.4 L913.5 332.0 L914.5 331.8 L915.5 332.0 L916.5 331.4 L917.5 331.4 L918.5 331.2 L919.5 331.6 L920.5 331.2 L921.5 332.0 L922.5 331.5 L923.5 332.1 L924.5 331.8 L925.5 332.1 L926.5 333.0 L927.5 333.0 L928.5 333.0 L929.5 333.4 L930.5 333.1 L931.5 332.2 L932.5 332.6 L933.5 331.6 L934.5 330.7 L935.5 330.3 L936.5 329.9 L937.5 329.3 L938.5 327.6 L939.5 326.0 L940.5 324.0 L941.5 322.7 L942.5 322.1 L943.5 321.9 L944.5 322.4 L945.5 323.2 L946.5 324.5 L947.5 325.7 L948.5 326.4 L949.5 326.4 L950.5 326.5 L951.5 325.3 L952.5 322.9 L953.5 319.7 L954.5 315.2 L955.5 307.9 L956.5 299.6 L957.5 290.0 L958.5 280.7 L959.5 273.3 L960.5 271.2 L961.5 273.9 L962.5 281.7 L963.5 291.5 L964.5 300.9 L965.5 309.8 L966.5 316.2 L967.5 320.7 L968.5 323.6 L969.5 325.5 L970.5 326.4 L971.5 327.2 L972.5 327.0 L973.5 326.8 L974.5 325.8 L975.5 324.6 L976.5 322.5 L977.5 321.3 L978.5 320.6 L979.5 321.3 L980.5 322.6 L981.5 324.5 L982.5 326.3 L983.5 327.5 L984.5 328.9 L985.5 330.0 L986.5 330.1 L987.5 330.4 L988.5 331.0 L989.5 331.4 L990.5 332.5 L991.5 333.0 L992.5 333.2 L993.5 333.2 L994.5 332.8 L995.5 331.9 L996.5 331.0 L997.5 329.9 L998.5 328.9 L999.5 328.8 L1000.5 328.7 L1001.5 329.8 L1002.5 331.0 L1003.5 331.6 L1004.5 331.7 L1005.5 331.8 L1006.5 332.0 L1007.5 331.4 L1008.5 331.5 L1009.5 331.7 L1010.5 331.4 L1011.5 331.1 L1012.5 331.8 L1013.5 331.7 L1014.5 331.8 L1015.5 332.3 L1016.5 332.2 L1017.5 331.9 L1018.5 332.4 L1019.5 332.1 L1020.5 331.5 L1021.5 331.8 L1022.5 331.4 L1023.5 331.4 L1024.5 332.0 L1025.5 332.1 L1026.5 331.5 L1027.5 331.6 L1028.5 331.6 L1029.5 331.7 L1030.5 331.5 L1031.5 331.8 L1032.5 331.3 L1033.5 331.3 L1034.5 331.4 L1035.5 332.1 L1036.5 331.6 L1037.5 332.0 L1038.5 331.6 L1039.5 331.8 L1040.5 331.8 L1041.5 331.8 L1042.5 332.1 L1043.5 331.9 L1044.5 331.5 L1045.5 331.3 L1046.5 331.1 L1047.5 331.8 L1048.5 332.0 L1049.5 332.5 L1050.5 332.5 L1051.5 331.7 L1052.5 332.0 L1053.5 332.3 L1054.5 332.4 L1055.5 332.2 L1056.5 332.0 L1057.5 331.9 L1058.5 332.3 L1059.5 331.9 L1060.5 331.9 L1061.5 331.9 L1062.5 332.4 L1063.5 332.6 L1064.5 332.8 L1065.5 332.9 L1066.5 332.3 L1067.5 331.8 L1068.5 331.9 L1069.5 331.6 L1070.5 331.7 L1071.5 332.0 L1072.5 332.5 L1073.5 332.4 L1074.5 332.6 L1075.5 331.9 L1076.5 331.7 L1077.5 332.4 L1078.5 331.8 L1079.5 331.8 L1080.5 331.4 L1081.5 331.1 L1082.5 331.9 L1083.5 332.5 L1084.5 332.4 L1085.5 331.8 L1086.5 331.7 L1087.5 331.5 L1088.5 331.9 L1089.5 332.1 L1090.5 332.0 L1091.5 332.0 L1092.5 331.5 L1093.5 331.8 L1094.5 332.3 L1095.5 332.5 L1096.5 331.8 L1097.5 331.9 L1098.5 332.2 L1099.5 331.8 L1100.5 332.3 L1101.5 332.1 L1102.5 332.3 L1103.5 332.0 L1104.5 332.6 L1105.5 332.6 L1106.5 332.4 L1107.5 331.8 L1108.5 331.8 L1109.5 331.3 L1110.5 331.7 L1111.5 332.2 L1112.5 331.7 L1113.5 331.8 L1114.5 331.8 L1115.5 331.7 L1116.5 332.0 L1117.5 332.4 L1118.5 332.4 L1119.5 332.1 L1120.5 332.5 L1121.5 332.0 L1122.5 332.1 L1123.5 332.0 L1124.5 332.0 L1125.5 332.0 L1126.5 331.1 L1127.5 330.4 L1128.5 328.1 L1129.5 323.7 L1130.5 317.8 L1131.5 316.0 L1132.5 320.7 L1133.5 326.4 L1134.5 329.7 L1135.5 331.2 L1136.5 331.7 L1137.5 332.0 L1138.5 331.4 L1139.5 332.0 L1140.5 332.2 L1141.5 332.2 L1142.5 332.5 L1143.5 332.7 L1144.5 331.9 L1145.5 332.3 L1146.5 332.4 L1147.5 331.9 L1148.5 332.2 L1149.5 332.2 L1150.5 331.7 L1151.5 332.2 L1152.5 331.7 L1153.5 331.9 L1154.5 331.8 L1155.5 331.6 L1156.5 331.8 L1157.5 331.8 L1158.5 331.6 L1159.5 332.2 L1160.5 331.6 L1161.5 331.2 L1162.5 331.5 L1163.5 332.1 L1164.5 332.2 L1165.5 332.4 L1166.5 332.2 L1167.5 332.3 L1168.5 332.0 L1169.5 331.7 L1170.5 331.8 L1171.5 331.4 L1172.5 331.1 L1173.5 331.8 L1174.5 331.5 L1175.5 332.0 L1176.5 332.3 L1177.5 332.1 L1178.5 332.2 L1179.5 332.4 L1180.5 332.7 L1181.5 332.0 L1182.5 331.6 L1183.5 331.6 L1184.5 331.7 L1185.5 331.6 L1186.5 331.2 L1187.5 331.6 L1188.5 332.3 L1189.5 332.0 L1190.5 332.0 L1191.5 331.9 L1192.5 331.9 L1193.5 332.3 L1194.5 332.0 L1195.5 332.1 L1196.5 332.1 L1197.5 332.1 L1198.5 332.5 L1199.5 331.8 L1200.5 332.2 L1201.5 331.9 L1202.5 332.1 L1203.5 332.4 L1204.5 332.4 L1205.5 332.1 L1206.5 332.4 L1207.5 331.8 L1208.5 332.0 L1209.5 331.9 L1210.5 332.0 L1211.5 332.4 L1212.5 332.5 L1213.5 332.5 L1214.5 332.0 L1215.5 331.7 L1216.5 331.8 L1217.5 331.6 L1218.5 331.5 L1219.5 332.2 L1220.5 331.7 L1221.5 332.1 L1222.5 331.9 L1223.5 331.8 L1224.5 331.7 L1225.5 331.3 L1226.5 331.5 L1227.5 331.3 L1228.5 331.5 L1229.5 331.5 L1230.5 332.1 L1231.5 332.5 L1232.5 332.2 L1233.5 332.3 L1234.5 332.6 L1235.5 332.2 L1236.5 331.6 L1237.5 331.5 L1238.5 331.3 L1239.5 331.7 L1240.5 331.7 L1241.5 331.6 L1242.5 332.1 L1243.5 331.7 L1244.5 332.1 L1245.5 332.2 L1246.5 331.9 L1247.5 332.3 L1248.5 331.9 L1249.5 332.3 L1250.5 332.5 L1251.5 332.2 L1252.5 332.2 L1253.5 332.5 L1254.5 332.3 L1255.5 332.2 L1256.5 332.2 L1257.5 332.1 L1258.5 331.7 L1259.5 331.2 L1260.5 328.7 L1261.5 324.1 L1262.5 315.9 L1263.5 308.4 L1264.5 311.8 L1265.5 320.4 L1266.5 327.2 L1267.5 329.6 L1268.5 330.6 L1269.5 331.5 L1270.5 331.2 L1271.5 331.9 L1272.5 331.4 L1273.5 331.0 L1274.5 331.2 L1275.5 331.3 L1276.5 332.0 L1277.5 332.3 L1278.5 332.4 L1279.5 332.1 L1280.5 332.1 L1281.5 331.7 L1282.5 332.2 L1283.5 331.9 L1284.5 331.7 L1285.5 331.9 L1286.5 331.5 L1287.5 331.5 L1288.5 332.1 L1289.5 331.6 L1290.5 331.3 L1291.5 331.3 L1292.5 331.3 L1293.5 331.4 L1294.5 331.4 L1295.5 331.4 L1296.5 331.4 L1297.5 331.3 L1298.5 331.7 L1299.5 331.6 L1300.5 331.6 L1301.5 332.0 L1302.5 331.5 L1303.5 331.3 L1304.5 332.0 L1305.5 331.9 L1306.5 332.2 L1307.5 331.7 L1308.5 331.8 L1309.5 332.3 L1310.5 332.0 L1311.5 332.3 L1312.5 332.3 L1313.5 332.0 L1314.5 332.6 L1315.5 332.2 L1316.5 332.1 L1317.5 332.2 L1318.5 331.9 L1319.5 332.3 L1320.5 332.3 L1321.5 332.2 L1322.5 332.2 L1323.5 332.6 L1324.5 332.9 L1325.5 332.9 L1326.5 332.4 L1327.5 332.1 L1328.5 332.1 L1329.5 331.5 L1330.5 331.2 L1331.5 332.0 L1332.5 331.5 L1333.5 332.1 L1334.5 332.2 L1335.5 332.5 L1336.5 331.7 L1337.5 331.5 L1338.5 331.9 L1339.5 331.2 L1340.5 330.9 L1341.5 330.9 L1342.5 330.6 L1343.5 330.2 L1344.5 330.3 L1345.5 328.8 L1346.5 327.1 L1347.5 322.7 L1348.5 316.7 L1349.5 315.4 L1350.5 319.0 L1351.5 324.4 L1352.5 328.2 L1353.5 329.6 L1354.5 330.6 L1355.5 330.5 L1356.5 330.6 L1357.5 331.4 L1358.5 331.2 L1359.5 330.1 L1360.5 329.2 L1361.5 329.6 L1362.5 330.0 L1363.5 331.1 L1364.5 331.2 L1365.5 331.1 L1366.5 331.0" fill="none" stroke="#c8c85e" stroke-width="2.4" stroke-linejoin="round" stroke-linecap="round"/>
<path d="M816.5 354.1 L817.5 354.3 L818.5 354.2 L819.5 354.4 L820.5 354.6 L821.5 354.0 L822.5 353.6 L823.5 354.3 L824.5 354.1 L825.5 353.9 L826.5 354.7 L827.5 354.6 L828.5 354.9 L829.5 354.7 L830.5 354.7 L831.5 354.2 L832.5 354.5 L833.5 354.9 L834.5 354.7 L835.5 354.9 L836.5 354.9 L837.5 354.2 L838.5 354.6 L839.5 354.6 L840.5 354.3 L841.5 353.8 L842.5 354.5 L843.5 354.4 L844.5 354.7 L845.5 355.0 L846.5 355.0 L847.5 355.3 L848.5 354.8 L849.5 355.0 L850.5 354.7 L851.5 355.1 L852.5 355.3 L853.5 354.5 L854.5 354.1 L855.5 353.9 L856.5 354.6 L857.5 354.5 L858.5 354.6 L859.5 354.3 L860.5 354.4 L861.5 354.3 L862.5 354.2 L863.5 354.4 L864.5 354.5 L865.5 354.9 L866.5 354.9 L867.5 355.2 L868.5 355.3 L869.5 355.5 L870.5 355.3 L871.5 354.5 L872.5 354.9 L873.5 355.2 L874.5 355.4 L875.5 355.1 L876.5 355.0 L877.5 354.5 L878.5 354.8 L879.5 354.7 L880.5 354.4 L881.5 353.9 L882.5 354.5 L883.5 355.0 L884.5 354.3 L885.5 354.7 L886.5 354.4 L887.5 354.0 L888.5 353.9 L889.5 354.4 L890.5 354.8 L891.5 354.1 L892.5 354.3 L893.5 353.8 L894.5 354.3 L895.5 354.1 L896.5 354.6 L897.5 355.0 L898.5 354.8 L899.5 355.1 L900.5 354.6 L901.5 354.0 L902.5 354.2 L903.5 353.7 L904.5 353.6 L905.5 353.8 L906.5 354.1 L907.5 353.8 L908.5 353.4 L909.5 354.2 L910.5 354.0 L911.5 354.6 L912.5 354.9 L913.5 354.5 L914.5 354.3 L915.5 354.3 L916.5 354.4 L917.5 354.4 L918.5 354.3 L919.5 354.4 L920.5 354.7 L921.5 354.5 L922.5 354.2 L923.5 354.4 L924.5 353.9 L925.5 353.7 L926.5 354.3 L927.5 354.2 L928.5 354.1 L929.5 353.4 L930.5 353.5 L931.5 353.7 L932.5 353.1 L933.5 353.3 L934.5 353.1 L935.5 352.0 L936.5 351.5 L937.5 351.0 L938.5 351.2 L939.5 351.4 L940.5 352.4 L941.5 353.1 L942.5 352.7 L943.5 352.4 L944.5 352.8 L945.5 353.3 L946.5 352.7 L947.5 352.6 L948.5 352.6 L949.5 352.2 L950.5 352.0 L951.5 351.7 L952.5 351.4 L953.5 351.3 L954.5 350.5 L955.5 349.7 L956.5 348.9 L957.5 347.0 L958.5 346.1 L959.5 345.6 L960.5 345.0 L961.5 344.8 L962.5 345.4 L963.5 344.8 L964.5 343.9 L965.5 342.8 L966.5 341.5 L967.5 338.9 L968.5 336.3 L969.5 333.4 L970.5 330.6 L971.5 326.8 L972.5 323.2 L973.5 318.5 L974.5 314.2 L975.5 310.8 L976.5 308.5 L977.5 306.7 L978.5 306.3 L979.5 307.1 L980.5 309.6 L981.5 312.4 L982.5 316.4 L983.5 320.5 L984.5 323.7 L985.5 327.0 L986.5 330.7 L987.5 333.8 L988.5 336.7 L989.5 338.7 L990.5 340.3 L991.5 341.9 L992.5 344.0 L993.5 345.0 L994.5 346.0 L995.5 347.0 L996.5 347.8 L997.5 348.5 L998.5 349.6 L999.5 349.6 L1000.5 349.5 L1001.5 350.7 L1002.5 351.4 L1003.5 352.0 L1004.5 351.9 L1005.5 352.4 L1006.5 352.8 L1007.5 352.3 L1008.5 352.6 L1009.5 353.0 L1010.5 353.1 L1011.5 353.0 L1012.5 352.8 L1013.5 352.7 L1014.5 352.6 L1015.5 352.3 L1016.5 352.8 L1017.5 352.8 L1018.5 353.4 L1019.5 352.9 L1020.5 353.6 L1021.5 353.9 L1022.5 354.3 L1023.5 354.5 L1024.5 354.7 L1025.5 354.4 L1026.5 353.6 L1027.5 354.0 L1028.5 353.6 L1029.5 353.5 L1030.5 353.9 L1031.5 354.0 L1032.5 353.9 L1033.5 354.5 L1034.5 354.5 L1035.5 354.2 L1036.5 353.9 L1037.5 354.4 L1038.5 354.3 L1039.5 354.6 L1040.5 354.3 L1041.5 354.0 L1042.5 354.1 L1043.5 354.6 L1044.5 354.1 L1045.5 354.6 L1046.5 355.0 L1047.5 355.1 L1048.5 355.2 L1049.5 354.3 L1050.5 354.5 L1051.5 354.9 L1052.5 354.2 L1053.5 354.1 L1054.5 354.0 L1055.5 354.2 L1056.5 354.3 L1057.5 354.3 L1058.5 354.7 L1059.5 354.1 L1060.5 353.8 L1061.5 353.7 L1062.5 353.6 L1063.5 353.5 L1064.5 354.5 L1065.5 354.9 L1066.5 354.4 L1067.5 354.5 L1068.5 354.3 L1069.5 354.3 L1070.5 354.3 L1071.5 354.6 L1072.5 354.7 L1073.5 354.6 L1074.5 354.3 L1075.5 354.2 L1076.5 354.0 L1077.5 354.4 L1078.5 354.7 L1079.5 354.6 L1080.5 354.2 L1081.5 354.0 L1082.5 354.2 L1083.5 354.5 L1084.5 354.9 L1085.5 354.7 L1086.5 355.1 L1087.5 355.1 L1088.5 354.9 L1089.5 354.7 L1090.5 354.7 L1091.5 355.0 L1092.5 354.8 L1093.5 355.0 L1094.5 354.9 L1095.5 354.6 L1096.5 354.7 L1097.5 355.0 L1098.5 354.4 L1099.5 354.5 L1100.5 354.6 L1101.5 355.1 L1102.5 355.5 L1103.5 355.1 L1104.5 355.4 L1105.5 355.5 L1106.5 355.0 L1107.5 354.9 L1108.5 354.5 L1109.5 355.0 L1110.5 355.1 L1111.5 355.4 L1112.5 355.5 L1113.5 355.5 L1114.5 355.5 L1115.5 355.3 L1116.5 354.7 L1117.5 354.9 L1118.5 354.3 L1119.5 354.1 L1120.5 354.7 L1121.5 354.2 L1122.5 354.0 L1123.5 353.9 L1124.5 354.6 L1125.5 354.3 L1126.5 353.9 L1127.5 354.4 L1128.5 353.8 L1129.5 353.8 L1130.5 351.7 L1131.5 342.7 L1132.5 335.4 L1133.5 339.3 L1134.5 345.4 L1135.5 349.2 L1136.5 352.2 L1137.5 353.4 L1138.5 354.1 L1139.5 353.9 L1140.5 354.4 L1141.5 355.0 L1142.5 354.4 L1143.5 354.3 L1144.5 354.6 L1145.5 355.0 L1146.5 354.7 L1147.5 354.4 L1148.5 354.3 L1149.5 354.7 L1150.5 355.0 L1151.5 354.9 L1152.5 354.7 L1153.5 354.7 L1154.5 354.6 L1155.5 354.7 L1156.5 354.3 L1157.5 354.6 L1158.5 355.3 L1159.5 355.1 L1160.5 355.3 L1161.5 354.8 L1162.5 355.1 L1163.5 355.4 L1164.5 355.4 L1165.5 355.3 L1166.5 355.2 L1167.5 355.3 L1168.5 355.6 L1169.5 355.0 L1170.5 354.6 L1171.5 355.0 L1172.5 355.5 L1173.5 355.3 L1174.5 355.2 L1175.5 355.4 L1176.5 354.9 L1177.5 354.7 L1178.5 354.5 L1179.5 354.8 L1180.5 354.7 L1181.5 354.6 L1182.5 355.0 L1183.5 355.5 L1184.5 355.1 L1185.5 355.3 L1186.5 355.1 L1187.5 355.5 L1188.5 355.5 L1189.5 355.1 L1190.5 354.8 L1191.5 354.4 L1192.5 354.6 L1193.5 354.7 L1194.5 354.5 L1195.5 354.6 L1196.5 354.6 L1197.5 355.1 L1198.5 354.7 L1199.5 355.4 L1200.5 355.3 L1201.5 355.3 L1202.5 355.2 L1203.5 355.6 L1204.5 355.8 L1205.5 355.6 L1206.5 355.4 L1207.5 355.5 L1208.5 355.8 L1209.5 355.4 L1210.5 355.6 L1211.5 355.9 L1212.5 355.6 L1213.5 355.1 L1214.5 354.8 L1215.5 355.2 L1216.5 355.4 L1217.5 355.8 L1218.5 356.0 L1219.5 355.4 L1220.5 354.9 L1221.5 354.8 L1222.5 354.6 L1223.5 355.1 L1224.5 355.5 L1225.5 355.8 L1226.5 355.3 L1227.5 355.7 L1228.5 355.3 L1229.5 355.2 L1230.5 355.4 L1231.5 354.9 L1232.5 354.6 L1233.5 355.2 L1234.5 355.0 L1235.5 354.9 L1236.5 355.1 L1237.5 355.3 L1238.5 354.7 L1239.5 354.7 L1240.5 354.9 L1241.5 355.0 L1242.5 354.8 L1243.5 355.0 L1244.5 355.6 L1245.5 355.3 L1246.5 355.3 L1247.5 354.9 L1248.5 354.7 L1249.5 355.1 L1250.5 354.7 L1251.5 355.3 L1252.5 355.7 L1253.5 355.1 L1254.5 355.6 L1255.5 355.3 L1256.5 355.5 L1257.5 355.6 L1258.5 355.1 L1259.5 355.2 L1260.5 355.2 L1261.5 355.2 L1262.5 354.4 L1263.5 353.2 L1264.5 346.9 L1265.5 335.6 L1266.5 337.4 L1267.5 342.2 L1268.5 347.3 L1269.5 350.6 L1270.5 352.8 L1271.5 353.9 L1272.5 354.4 L1273.5 354.2 L1274.5 354.6 L1275.5 354.9 L1276.5 354.6 L1277.5 355.2 L1278.5 355.3 L1279.5 354.8 L1280.5 355.4 L1281.5 354.9 L1282.5 354.8 L1283.5 355.2 L1284.5 355.3 L1285.5 355.3 L1286.5 355.4 L1287.5 355.3 L1288.5 355.1 L1289.5 354.8 L1290.5 354.5 L1291.5 355.0 L1292.5 355.4 L1293.5 355.4 L1294.5 355.6 L1295.5 355.3 L1296.5 355.1 L1297.5 355.0 L1298.5 355.5 L1299.5 354.9 L1300.5 355.1 L1301.5 354.9 L1302.5 355.4 L1303.5 355.2 L1304.5 355.1 L1305.5 355.1 L1306.5 355.2 L1307.5 355.6 L1308.5 355.3 L1309.5 355.7 L1310.5 355.1 L1311.5 355.0 L1312.5 354.7 L1313.5 354.5 L1314.5 355.2 L1315.5 355.5 L1316.5 355.1 L1317.5 354.8 L1318.5 355.0 L1319.5 355.4 L1320.5 355.7 L1321.5 355.9 L1322.5 355.8 L1323.5 355.2 L1324.5 355.2 L1325.5 354.9 L1326.5 355.1 L1327.5 355.3 L1328.5 355.0 L1329.5 354.9 L1330.5 355.4 L1331.5 354.9 L1332.5 355.4 L1333.5 355.8 L1334.5 356.1 L1335.5 355.7 L1336.5 355.6 L1337.5 355.6 L1338.5 355.7 L1339.5 356.1 L1340.5 356.0 L1341.5 355.5 L1342.5 355.8 L1343.5 355.5 L1344.5 355.5 L1345.5 355.5 L1346.5 354.7 L1347.5 354.8 L1348.5 354.0 L1349.5 349.4 L1350.5 338.8 L1351.5 338.5 L1352.5 342.1 L1353.5 346.7 L1354.5 349.6 L1355.5 353.5 L1356.5 355.0 L1357.5 355.6 L1358.5 356.0 L1359.5 356.7 L1360.5 357.1 L1361.5 356.5 L1362.5 356.9 L1363.5 357.0 L1364.5 356.4 L1365.5 356.4 L1366.5 356.2" fill="none" stroke="#33bb33" stroke-width="2.4" stroke-linejoin="round" stroke-linecap="round"/>
<path d="M816.5 375.8 L817.5 375.7 L818.5 375.7 L819.5 375.6 L820.5 375.5 L821.5 375.6 L822.5 376.0 L823.5 376.1 L824.5 376.2 L825.5 375.9 L826.5 376.0 L827.5 375.8 L828.5 375.7 L829.5 375.6 L830.5 375.5 L831.5 375.9 L832.5 376.1 L833.5 376.2 L834.5 376.2 L835.5 375.9 L836.5 375.8 L837.5 375.9 L838.5 376.0 L839.5 376.1 L840.5 376.2 L841.5 375.9 L842.5 375.9 L843.5 376.0 L844.5 375.9 L845.5 375.7 L846.5 375.7 L847.5 375.5 L848.5 375.9 L849.5 376.0 L850.5 375.9 L851.5 375.8 L852.5 376.0 L853.5 375.9 L854.5 376.0 L855.5 376.1 L856.5 375.9 L857.5 375.8 L858.5 375.8 L859.5 375.7 L860.5 375.5 L861.5 375.4 L862.5 375.6 L863.5 375.3 L864.5 375.2 L865.5 375.4 L866.5 375.3 L867.5 375.4 L868.5 375.4 L869.5 375.3 L870.5 375.6 L871.5 375.3 L872.5 375.3 L873.5 375.1 L874.5 375.2 L875.5 375.1 L876.5 375.0 L877.5 375.2 L878.5 375.0 L879.5 375.0 L880.5 375.2 L881.5 374.8 L882.5 374.5 L883.5 374.4 L884.5 374.5 L885.5 374.3 L886.5 373.8 L887.5 373.2 L888.5 372.3 L889.5 371.4 L890.5 370.2 L891.5 369.5 L892.5 368.9 L893.5 368.5 L894.5 368.2 L895.5 368.3 L896.5 367.9 L897.5 367.9 L898.5 368.3 L899.5 368.4 L900.5 368.2 L901.5 368.3 L902.5 368.1 L903.5 368.1 L904.5 367.6 L905.5 367.1 L906.5 366.6 L907.5 365.7 L908.5 364.9 L909.5 364.2 L910.5 362.9 L911.5 361.4 L912.5 359.7 L913.5 357.7 L914.5 355.2 L915.5 351.1 L916.5 345.1 L917.5 336.3 L918.5 324.6 L919.5 308.3 L920.5 287.3 L921.5 261.9 L922.5 233.2 L923.5 203.3 L924.5 175.9 L925.5 155.6 L926.5 148.0 L927.5 156.1 L928.5 177.8 L929.5 208.7 L930.5 242.3 L931.5 275.0 L932.5 303.5 L933.5 326.0 L934.5 342.9 L935.5 354.0 L936.5 360.8 L937.5 364.4 L938.5 365.1 L939.5 364.0 L940.5 361.6 L941.5 359.5 L942.5 358.3 L943.5 358.8 L944.5 361.1 L945.5 364.7 L946.5 368.3 L947.5 371.3 L948.5 373.6 L949.5 375.5 L950.5 376.5 L951.5 377.3 L952.5 378.3 L953.5 378.6 L954.5 378.7 L955.5 377.9 L956.5 377.1 L957.5 375.9 L958.5 374.8 L959.5 373.6 L960.5 372.5 L961.5 371.6 L962.5 371.4 L963.5 372.0 L964.5 373.0 L965.5 373.9 L966.5 374.5 L967.5 375.2 L968.5 375.7 L969.5 376.0 L970.5 376.2 L971.5 376.2 L972.5 376.2 L973.5 376.3 L974.5 376.1 L975.5 376.3 L976.5 376.5 L977.5 376.1 L978.5 376.4 L979.5 376.6 L980.5 376.5 L981.5 376.1 L982.5 376.4 L983.5 376.1 L984.5 376.4 L985.5 376.4 L986.5 376.1 L987.5 376.0 L988.5 376.2 L989.5 376.3 L990.5 376.4 L991.5 376.6 L992.5 376.3 L993.5 376.0 L994.5 376.4 L995.5 376.1 L996.5 376.4 L997.5 376.2 L998.5 376.4 L999.5 376.6 L1000.5 376.7 L1001.5 376.6 L1002.5 376.7 L1003.5 376.4 L1004.5 376.5 L1005.5 376.4 L1006.5 376.6 L1007.5 376.7 L1008.5 376.6 L1009.5 376.5 L1010.5 376.2 L1011.5 376.0 L1012.5 376.2 L1013.5 376.3 L1014.5 376.6 L1015.5 376.6 L1016.5 376.3 L1017.5 376.3 L1018.5 376.5 L1019.5 376.5 L1020.5 376.2 L1021.5 376.5 L1022.5 376.7 L1023.5 376.4 L1024.5 376.4 L1025.5 376.4 L1026.5 376.6 L1027.5 376.4 L1028.5 376.3 L1029.5 376.4 L1030.5 376.7 L1031.5 376.4 L1032.5 376.2 L1033.5 376.4 L1034.5 376.7 L1035.5 376.6 L1036.5 376.5 L1037.5 376.7 L1038.5 376.8 L1039.5 376.5 L1040.5 376.7 L1041.5 376.5 L1042.5 376.4 L1043.5 376.6 L1044.5 376.6 L1045.5 376.7 L1046.5 376.5 L1047.5 376.7 L1048.5 376.5 L1049.5 376.3 L1050.5 376.4 L1051.5 376.4 L1052.5 376.5 L1053.5 376.7 L1054.5 376.8 L1055.5 376.4 L1056.5 376.4 L1057.5 376.5 L1058.5 376.5 L1059.5 376.7 L1060.5 376.6 L1061.5 376.4 L1062.5 376.3 L1063.5 376.6 L1064.5 376.5 L1065.5 376.7 L1066.5 376.9 L1067.5 376.9 L1068.5 376.9 L1069.5 376.8 L1070.5 376.6 L1071.5 376.9 L1072.5 376.7 L1073.5 376.9 L1074.5 376.7 L1075.5 376.9 L1076.5 376.9 L1077.5 376.9 L1078.5 376.7 L1079.5 376.5 L1080.5 376.7 L1081.5 376.6 L1082.5 376.7 L1083.5 376.5 L1084.5 376.3 L1085.5 376.2 L1086.5 376.6 L1087.5 376.4 L1088.5 376.7 L1089.5 376.6 L1090.5 376.7 L1091.5 376.6 L1092.5 376.7 L1093.5 376.4 L1094.5 376.5 L1095.5 376.8 L1096.5 376.5 L1097.5 376.7 L1098.5 376.6 L1099.5 376.5 L1100.5 376.3 L1101.5 376.2 L1102.5 376.6 L1103.5 376.8 L1104.5 376.9 L1105.5 377.0 L1106.5 377.1 L1107.5 376.7 L1108.5 376.7 L1109.5 376.7 L1110.5 376.7 L1111.5 376.9 L1112.5 376.9 L1113.5 377.0 L1114.5 376.6 L1115.5 376.7 L1116.5 376.7 L1117.5 376.7 L1118.5 376.6 L1119.5 376.7 L1120.5 376.3 L1121.5 376.4 L1122.5 376.0 L1123.5 375.7 L1124.5 375.1 L1125.5 372.6 L1126.5 357.7 L1127.5 317.4 L1128.5 309.7 L1129.5 351.4 L1130.5 371.2 L1131.5 375.0 L1132.5 375.6 L1133.5 375.9 L1134.5 376.3 L1135.5 376.3 L1136.5 376.3 L1137.5 376.2 L1138.5 376.2 L1139.5 376.4 L1140.5 376.6 L1141.5 376.7 L1142.5 376.6 L1143.5 376.9 L1144.5 376.9 L1145.5 376.6 L1146.5 376.4 L1147.5 376.8 L1148.5 377.0 L1149.5 377.2 L1150.5 377.1 L1151.5 376.8 L1152.5 376.6 L1153.5 376.5 L1154.5 376.5 L1155.5 376.8 L1156.5 377.0 L1157.5 377.1 L1158.5 376.8 L1159.5 376.6 L1160.5 376.6 L1161.5 376.9 L1162.5 376.7 L1163.5 376.9 L1164.5 377.0 L1165.5 376.9 L1166.5 377.1 L1167.5 376.9 L1168.5 376.9 L1169.5 376.6 L1170.5 376.5 L1171.5 376.4 L1172.5 376.4 L1173.5 376.4 L1174.5 376.3 L1175.5 376.8 L1176.5 376.7 L1177.5 377.0 L1178.5 377.0 L1179.5 377.1 L1180.5 377.1 L1181.5 377.2 L1182.5 377.3 L1183.5 377.2 L1184.5 377.1 L1185.5 377.1 L1186.5 377.1 L1187.5 377.0 L1188.5 377.0 L1189.5 376.7 L1190.5 377.0 L1191.5 376.9 L1192.5 376.7 L1193.5 376.6 L1194.5 376.9 L1195.5 376.7 L1196.5 376.7 L1197.5 376.9 L1198.5 377.1 L1199.5 376.9 L1200.5 376.8 L1201.5 376.8 L1202.5 376.6 L1203.5 376.9 L1204.5 376.6 L1205.5 377.0 L1206.5 376.8 L1207.5 376.6 L1208.5 376.9 L1209.5 377.1 L1210.5 376.9 L1211.5 376.9 L1212.5 376.9 L1213.5 377.0 L1214.5 376.8 L1215.5 377.0 L1216.5 377.2 L1217.5 377.2 L1218.5 377.3 L1219.5 377.4 L1220.5 377.1 L1221.5 377.2 L1222.5 377.3 L1223.5 377.2 L1224.5 376.9 L1225.5 376.9 L1226.5 377.2 L1227.5 377.0 L1228.5 377.0 L1229.5 377.2 L1230.5 377.1 L1231.5 376.8 L1232.5 376.9 L1233.5 376.8 L1234.5 377.0 L1235.5 377.1 L1236.5 376.9 L1237.5 377.1 L1238.5 377.1 L1239.5 376.9 L1240.5 377.1 L1241.5 377.2 L1242.5 377.3 L1243.5 377.4 L1244.5 377.3 L1245.5 377.2 L1246.5 377.1 L1247.5 377.0 L1248.5 377.2 L1249.5 377.0 L1250.5 376.7 L1251.5 376.8 L1252.5 376.8 L1253.5 376.7 L1254.5 376.7 L1255.5 376.4 L1256.5 376.1 L1257.5 375.6 L1258.5 375.1 L1259.5 372.0 L1260.5 357.2 L1261.5 331.0 L1262.5 335.8 L1263.5 361.7 L1264.5 373.2 L1265.5 375.3 L1266.5 376.1 L1267.5 376.5 L1268.5 376.7 L1269.5 376.5 L1270.5 376.7 L1271.5 376.5 L1272.5 376.7 L1273.5 376.6 L1274.5 376.6 L1275.5 377.0 L1276.5 377.1 L1277.5 377.2 L1278.5 377.0 L1279.5 376.9 L1280.5 377.0 L1281.5 376.7 L1282.5 376.8 L1283.5 377.1 L1284.5 377.2 L1285.5 377.3 L1286.5 377.1 L1287.5 377.2 L1288.5 377.3 L1289.5 377.3 L1290.5 377.1 L1291.5 376.9 L1292.5 376.7 L1293.5 377.0 L1294.5 377.3 L1295.5 377.1 L1296.5 377.2 L1297.5 377.1 L1298.5 377.1 L1299.5 377.3 L1300.5 377.1 L1301.5 377.1 L1302.5 377.0 L1303.5 377.0 L1304.5 376.8 L1305.5 376.7 L1306.5 376.8 L1307.5 377.1 L1308.5 376.9 L1309.5 377.1 L1310.5 376.9 L1311.5 377.2 L1312.5 377.0 L1313.5 376.8 L1314.5 376.7 L1315.5 377.1 L1316.5 377.2 L1317.5 377.4 L1318.5 377.2 L1319.5 377.0 L1320.5 376.9 L1321.5 376.9 L1322.5 377.3 L1323.5 377.0 L1324.5 376.9 L1325.5 377.1 L1326.5 376.9 L1327.5 377.2 L1328.5 377.0 L1329.5 377.1 L1330.5 377.1 L1331.5 377.3 L1332.5 377.0 L1333.5 377.2 L1334.5 376.9 L1335.5 377.0 L1336.5 376.7 L1337.5 376.9 L1338.5 376.7 L1339.5 376.5 L1340.5 376.3 L1341.5 376.2 L1342.5 376.0 L1343.5 376.0 L1344.5 374.9 L1345.5 370.5 L1346.5 358.6 L1347.5 340.8 L1348.5 338.2 L1349.5 355.0 L1350.5 369.2 L1351.5 374.7 L1352.5 376.3 L1353.5 376.3 L1354.5 376.8 L1355.5 376.9 L1356.5 377.0 L1357.5 377.2 L1358.5 376.9 L1359.5 376.8 L1360.5 376.7 L1361.5 376.8 L1362.5 377.0 L1363.5 377.0 L1364.5 377.0 L1365.5 377.2 L1366.5 377.3" fill="none" stroke="#000" stroke-width="2.8" stroke-linejoin="round" stroke-linecap="round"/>
</g>
<polygon points="825.8,56.0 846.3,56.0 836.0,74.2" fill="#000"/>
<text x="851.3" y="75.2" font-size="28.78" font-weight="bold" fill="#000" textLength="112.9" lengthAdjust="spacingAndGlyphs">Silver-3C</text>
<polygon points="916.8,124.0 937.5,124.0 927.1,141.4" fill="#000"/>
<polygon points="962.6,200.5 983.6,200.5 973.1,218.0" fill="#000"/>
<polygon points="1121.0,257.8 1141.8,257.8 1131.4,275.7" fill="#000"/>
<polygon points="1256.0,267.2 1277.0,267.2 1266.5,285.3" fill="#000"/>
<polygon points="1339.2,268.2 1360.0,268.2 1349.6,286.3" fill="#000"/>
<text x="0" y="0" font-size="29.07" font-weight="bold" fill="#828282" textLength="65.2" lengthAdjust="spacingAndGlyphs" transform="translate(963.0 159.4) rotate(-90)">(111)</text>
<text x="0" y="0" font-size="29.07" font-weight="bold" fill="#828282" textLength="64.8" lengthAdjust="spacingAndGlyphs" transform="translate(1009.7 234.4) rotate(-90)">(111)</text>
<text x="0" y="0" font-size="29.07" font-weight="bold" fill="#828282" textLength="65.2" lengthAdjust="spacingAndGlyphs" transform="translate(1140.7 254.2) rotate(-90)">(200)</text>
<text x="0" y="0" font-size="29.07" font-weight="bold" fill="#828282" textLength="65.2" lengthAdjust="spacingAndGlyphs" transform="translate(1277.0 263.2) rotate(-90)">(220)</text>
<text x="0" y="0" font-size="29.07" font-weight="bold" fill="#828282" textLength="65.2" lengthAdjust="spacingAndGlyphs" transform="translate(1359.7 265.2) rotate(-90)">(311)</text>
<text x="0" y="0" font-size="29.07" font-weight="bold" fill="#000" textLength="189.0" lengthAdjust="spacingAndGlyphs" transform="translate(797.8 320.5) rotate(-90)">Intensity (a.u.)</text>
<text x="1141.8" y="70.6" font-size="27.03" font-weight="bold" fill="#c55a11" textLength="139.2" lengthAdjust="spacingAndGlyphs" letter-spacing="1.6">Sample-α</text>
<text x="1141.8" y="98.6" font-size="27.03" font-weight="bold" fill="#8a8a14" textLength="137.7" lengthAdjust="spacingAndGlyphs" letter-spacing="1.6">Sample-β</text>
<text x="1141.8" y="123.7" font-size="27.03" font-weight="bold" fill="#0c960c" textLength="135.7" lengthAdjust="spacingAndGlyphs" letter-spacing="1.6">Sample-γ</text>
<text x="1141.8" y="154.4" font-size="27.03" font-weight="bold" fill="#000" textLength="141.7" lengthAdjust="spacingAndGlyphs" letter-spacing="10">Powder</text>
<line x1="1290.5" y1="63.2" x2="1360.0" y2="63.2" stroke="#fb8c45" stroke-width="5.5"/>
<line x1="1289.5" y1="91.6" x2="1359.0" y2="91.6" stroke="#c8c85e" stroke-width="5.5"/>
<line x1="1289.5" y1="116.7" x2="1359.0" y2="116.7" stroke="#33bb33" stroke-width="5.5"/>
<line x1="1288.5" y1="145.0" x2="1358.5" y2="145.0" stroke="#000" stroke-width="5.5"/>
<text x="819.2" y="429.0" font-size="30.81" font-weight="bold" fill="#000" textLength="30.7" lengthAdjust="spacingAndGlyphs">37</text>
<text x="906.0" y="429.0" font-size="30.81" font-weight="bold" fill="#000" textLength="30.5" lengthAdjust="spacingAndGlyphs">38</text>
<text x="995.0" y="429.0" font-size="30.81" font-weight="bold" fill="#000" textLength="30.7" lengthAdjust="spacingAndGlyphs">39</text>
<text x="1080.8" y="429.0" font-size="30.81" font-weight="bold" fill="#000" textLength="31.7" lengthAdjust="spacingAndGlyphs">40</text>
<text x="1151.2" y="429.0" font-size="30.81" font-weight="bold" fill="#000" textLength="31.1" lengthAdjust="spacingAndGlyphs">50</text>
<text x="1216.7" y="429.0" font-size="30.81" font-weight="bold" fill="#000" textLength="31.3" lengthAdjust="spacingAndGlyphs">60</text>
<text x="1284.1" y="429.0" font-size="30.81" font-weight="bold" fill="#000" textLength="30.5" lengthAdjust="spacingAndGlyphs">70</text>
<text x="1350.7" y="429.0" font-size="30.81" font-weight="bold" fill="#000" textLength="31.7" lengthAdjust="spacingAndGlyphs">80</text>
<text x="1021.7" y="455.4" font-size="28.34" font-weight="bold" fill="#000" textLength="180.2" lengthAdjust="spacingAndGlyphs">2-Theta (deg.)</text>
<rect x="1404.5" y="42.0" width="599.0" height="424.8" fill="#f0f0f0"/>
<rect x="1452.0" y="4.4" width="551.5" height="38.8" fill="#696969"/>
<rect x="1405.0" y="4.4" width="47.0" height="39.1" fill="#fff" stroke="#8a8a8a" stroke-width="1"/>
<text x="1410.5" y="32.2" font-size="28.34" font-weight="bold" fill="#000" textLength="36.0" lengthAdjust="spacingAndGlyphs">(c)</text>
<text x="1575.0" y="36.0" font-size="29.80" font-weight="bold" fill="#fff" textLength="304.3" lengthAdjust="spacingAndGlyphs">LED &amp; Total Distortion</text>
<defs><clipPath id="c1t"><polygon points="1558.4,78.5 1681.0,137.0 1558.4,191.0 1434.8,136.0"/></clipPath>
<clipPath id="c1l"><polygon points="1434.8,136.0 1558.4,191.0 1558.4,347.0 1434.0,289.0"/></clipPath>
<clipPath id="c1r"><polygon points="1558.4,191.0 1681.0,137.0 1681.0,292.0 1558.4,347.0"/></clipPath>
</defs>
<g clip-path="url(#c1t)"><rect x="1430.0" y="70.0" width="260.0" height="130.0" fill="#58f030"/>
<ellipse cx="1558" cy="84" rx="40" ry="13" fill="#ffff10" opacity="1" filter="url(#bl4)"/>
<ellipse cx="1600" cy="100" rx="40" ry="7" fill="#e8f818" opacity="1" filter="url(#bl4)" transform="rotate(25 1600 100)"/>
<ellipse cx="1562" cy="186" rx="56" ry="12" fill="#f8f818" opacity="1" filter="url(#bl4)"/>
<ellipse cx="1610" cy="172" rx="40" ry="7" fill="#f0f820" opacity="1" filter="url(#bl4)" transform="rotate(-25 1610 172)"/>
<ellipse cx="1664" cy="140" rx="30" ry="12" fill="#f4f420" opacity="1" filter="url(#bl4)" transform="rotate(20 1664 140)"/>
<ellipse cx="1640" cy="125" rx="30" ry="6" fill="#d8f020" opacity="0.9" filter="url(#bl4)" transform="rotate(25 1640 125)"/>
<ellipse cx="1446" cy="136" rx="16" ry="8" fill="#d0f820" opacity="0.95" filter="url(#bl4)"/>
<ellipse cx="1535" cy="136" rx="76" ry="24" fill="#00f8f8" opacity="1" filter="url(#bl6)" transform="rotate(8 1535 136)"/>
<ellipse cx="1555" cy="128" rx="56" ry="24" fill="#08ffff" opacity="1" filter="url(#bl4)" transform="rotate(10 1555 128)"/>
<ellipse cx="1500" cy="142" rx="44" ry="12" fill="#10f8f0" opacity="1" filter="url(#bl4)" transform="rotate(-5 1500 142)"/>
</g>
<g clip-path="url(#c1l)"><rect x="1430.0" y="130.0" width="130.0" height="220.0" fill="url(#c1left)"/>
<ellipse cx="1446" cy="190" rx="12" ry="56" fill="#c8f020" opacity="0.95" filter="url(#bl6)" transform="rotate(-3 1446 190)"/>
<ellipse cx="1478" cy="215" rx="12" ry="60" fill="#30e060" opacity="0.95" filter="url(#bl6)" transform="rotate(-28 1478 215)"/>
<ellipse cx="1500" cy="255" rx="14" ry="70" fill="#20e0c0" opacity="0.95" filter="url(#bl6)" transform="rotate(-30 1500 255)"/>
<ellipse cx="1468" cy="298" rx="40" ry="26" fill="#20d8f0" opacity="1" filter="url(#bl6)" transform="rotate(22 1468 298)"/>
<ellipse cx="1520" cy="322" rx="30" ry="16" fill="#28e0d8" opacity="0.95" filter="url(#bl6)" transform="rotate(22 1520 322)"/>
<ellipse cx="1546" cy="255" rx="11" ry="75" fill="#f0e020" opacity="1" filter="url(#bl6)"/>
<ellipse cx="1554" cy="290" rx="5" ry="40" fill="#f0c020" opacity="0.9" filter="url(#bl4)"/>
<ellipse cx="1525" cy="215" rx="10" ry="40" fill="#a8f020" opacity="0.85" filter="url(#bl6)" transform="rotate(-25 1525 215)"/>
</g>
<g clip-path="url(#c1r)"><rect x="1556.0" y="130.0" width="134.0" height="220.0" fill="url(#c1right)"/>
<ellipse cx="1592" cy="265" rx="16" ry="45" fill="#30a068" opacity="0.9" filter="url(#bl6)" transform="rotate(8 1592 265)"/>
<ellipse cx="1650" cy="300" rx="40" ry="22" fill="#2098a0" opacity="0.95" filter="url(#bl6)" transform="rotate(-20 1650 300)"/>
<ellipse cx="1600" cy="332" rx="40" ry="16" fill="#30a890" opacity="0.9" filter="url(#bl6)" transform="rotate(-22 1600 332)"/>
<ellipse cx="1645" cy="190" rx="18" ry="40" fill="#a09820" opacity="0.8" filter="url(#bl6)" transform="rotate(10 1645 190)"/>
<ellipse cx="1566" cy="240" rx="7" ry="50" fill="#c0a820" opacity="0.8" filter="url(#bl6)"/>
<ellipse cx="1620" cy="230" rx="20" ry="30" fill="#489838" opacity="0.8" filter="url(#bl6)"/>
</g>
<defs><clipPath id="c2t"><polygon points="1846.5,79.6 1969.3,137.0 1845.4,193.0 1723.7,137.0"/></clipPath>
<clipPath id="c2l"><polygon points="1723.7,137.0 1845.4,193.0 1845.4,348.6 1723.7,290.0"/></clipPath>
<clipPath id="c2r"><polygon points="1845.4,193.0 1969.3,137.0 1968.5,292.0 1845.4,348.6"/></clipPath>
</defs>
<g clip-path="url(#c2t)"><rect x="1720.0" y="70.0" width="255.0" height="130.0" fill="#ffff14"/>
<ellipse cx="1830" cy="137" rx="52" ry="15" fill="#38e828" opacity="1" filter="url(#bl6)" transform="rotate(-3 1830 137)"/>
<ellipse cx="1840" cy="136" rx="26" ry="8" fill="#20e820" opacity="1" filter="url(#bl4)" transform="rotate(-3 1840 136)"/>
<ellipse cx="1846" cy="84" rx="16" ry="6" fill="#ffd010" opacity="0.9" filter="url(#bl4)"/>
<ellipse cx="1846" cy="190" rx="30" ry="6" fill="#ffc010" opacity="0.9" filter="url(#bl4)"/>
</g>
<g clip-path="url(#c2l)"><rect x="1720.0" y="130.0" width="130.0" height="222.0" fill="url(#c2left)"/>
<ellipse cx="1765" cy="215" rx="30" ry="40" fill="#40e028" opacity="0.95" filter="url(#bl8)" transform="rotate(-30 1765 215)"/>
<ellipse cx="1770" cy="270" rx="32" ry="45" fill="#20e0d0" opacity="1" filter="url(#bl8)" transform="rotate(-25 1770 270)"/>
<ellipse cx="1815" cy="325" rx="30" ry="16" fill="#20d8d8" opacity="0.9" filter="url(#bl6)" transform="rotate(20 1815 325)"/>
<ellipse cx="1735" cy="160" rx="12" ry="26" fill="#ffe818" opacity="0.9" filter="url(#bl6)"/>
<ellipse cx="1828" cy="230" rx="14" ry="50" fill="#ffd818" opacity="0.9" filter="url(#bl6)" transform="rotate(-12 1828 230)"/>
<ellipse cx="1838" cy="205" rx="8" ry="28" fill="#f89018" opacity="0.9" filter="url(#bl4)"/>
</g>
<g clip-path="url(#c2r)"><rect x="1843.0" y="130.0" width="132.0" height="222.0" fill="url(#c2right)"/>
<ellipse cx="1900" cy="270" rx="14" ry="45" fill="#2898a0" opacity="0.95" filter="url(#bl6)"/>
<ellipse cx="1897" cy="272" rx="4" ry="9" fill="#2040b0" opacity="0.95" filter="url(#bl2)"/>
<ellipse cx="1940" cy="180" rx="5" ry="12" fill="#30a890" opacity="0.9" filter="url(#bl2)"/>
<ellipse cx="1950" cy="250" rx="18" ry="30" fill="#58a028" opacity="0.8" filter="url(#bl6)" transform="rotate(-30 1950 250)"/>
<ellipse cx="1900" cy="330" rx="50" ry="14" fill="#2898a0" opacity="0.9" filter="url(#bl6)" transform="rotate(-25 1900 330)"/>
<ellipse cx="1858" cy="225" rx="10" ry="36" fill="#b07818" opacity="0.9" filter="url(#bl6)"/>
</g>
<polygon points="1651.0,203.6 1711.0,203.6 1711.0,176.6 1756.0,223.0 1711.0,270.0 1711.0,242.8 1651.0,242.8" fill="#000"/>
<polygon points="1656.4,208.9 1716.4,208.9 1716.4,189.6 1748.6,223.0 1716.4,256.6 1716.4,237.6 1656.4,237.6" fill="#9dc9ea"/>
<text x="1659.9" y="232.8" font-size="27.33" font-weight="bold" fill="#000" textLength="73.5" lengthAdjust="spacingAndGlyphs">+ LED</text>
<rect x="1520.5" y="417.5" width="213.3" height="30.7" fill="url(#cbar)" stroke="#000" stroke-width="2.4"/>
<line x1="1520.5" y1="411.0" x2="1520.5" y2="418.0" stroke="#000" stroke-width="2"/>
<line x1="1627.5" y1="411.0" x2="1627.5" y2="418.0" stroke="#000" stroke-width="2"/>
<line x1="1733.8" y1="411.0" x2="1733.8" y2="418.0" stroke="#000" stroke-width="2"/>
<text x="1490.0" y="407.0" font-size="29.07" font-weight="bold" fill="#000" textLength="81.4" lengthAdjust="spacingAndGlyphs">1.0µm</text>
<text x="1701.4" y="407.0" font-size="29.07" font-weight="bold" fill="#000" textLength="82.6" lengthAdjust="spacingAndGlyphs">0.0µm</text>
<text x="1747.3" y="444.5" font-size="29.36" font-weight="bold" fill="#000" textLength="197.0" lengthAdjust="spacingAndGlyphs">Total distortion</text>
<rect x="335.8" y="548.0" width="1180.7" height="319.6" fill="#fdeaea"/>
<rect x="390.5" y="503.3" width="1126.0" height="45.0" fill="#7b0000"/>
<circle cx="175" cy="679" r="172" fill="#fdeaea"/>
<rect x="415.8" y="565.3" width="1080.5" height="84.4" fill="#fff"/>
<rect x="415.8" y="659.1" width="1080.5" height="84.2" fill="#fff"/>
<rect x="376.6" y="565.3" width="39.0" height="84.9" fill="#2d2d2d"/>
<rect x="376.6" y="658.8" width="39.0" height="84.8" fill="#4b4b4b"/>
<defs><clipPath id="clipMic"><rect x="417" y="566.6" width="213.3" height="81.8"/><rect x="633.2" y="566.6" width="213.8" height="81.8"/><rect x="850.2" y="566.6" width="213.2" height="81.8"/><rect x="1066.4" y="566.6" width="212.6" height="81.8"/><rect x="1282.2" y="566.6" width="212.8" height="81.8"/><rect x="417" y="660.4" width="213.3" height="81.6"/><rect x="633.2" y="660.4" width="213.8" height="81.6"/><rect x="850.2" y="660.4" width="213.2" height="81.6"/><rect x="1066.4" y="660.4" width="212.6" height="81.6"/><rect x="1282.2" y="660.4" width="212.8" height="81.6"/></clipPath><clipPath id="clipBig"><circle cx="175" cy="679" r="172"/></clipPath><clipPath id="clipZ"><rect x="0" y="500" width="350" height="169.3"/><rect x="0" y="692" width="350" height="170"/></clipPath></defs>
<rect x="417.0" y="566.6" width="213.3" height="81.8" fill="#2d2d2f"/>
<rect x="633.2" y="566.6" width="213.8" height="81.8" fill="#2d2d2f"/>
<rect x="850.2" y="566.6" width="213.2" height="81.8" fill="#2d2d2f"/>
<rect x="1066.4" y="566.6" width="212.6" height="81.8" fill="#2d2d2f"/>
<rect x="1282.2" y="566.6" width="212.8" height="81.8" fill="#2d2d2f"/>
<rect x="417.0" y="660.4" width="213.3" height="81.6" fill="#2d2d2f"/>
<rect x="633.2" y="660.4" width="213.8" height="81.6" fill="#2d2d2f"/>
<rect x="850.2" y="660.4" width="213.2" height="81.6" fill="#2d2d2f"/>
<rect x="1066.4" y="660.4" width="212.6" height="81.6" fill="#2d2d2f"/>
<rect x="1282.2" y="660.4" width="212.8" height="81.6" fill="#2d2d2f"/>
<g clip-path="url(#clipMic)"><g filter="url(#grainD)"><path d="M417.0 586.2 L423.0 586.3 L429.0 586.5 L435.0 586.9 L441.0 587.1 L447.0 587.0 L453.0 586.6 L459.0 586.1 L465.0 585.9 L471.0 585.9 L477.0 586.0 L483.0 586.0 L489.0 585.9 L495.0 585.7 L501.0 585.7 L507.0 585.8 L513.0 585.9 L519.0 585.9 L525.0 585.6 L531.0 585.3 L537.0 585.3 L543.0 585.7 L549.0 586.2 L555.0 586.7 L561.0 587.0 L567.0 587.2 L573.0 587.3 L579.0 587.6 L585.0 587.8 L591.0 587.8 L597.0 587.6 L603.0 587.2 L609.0 587.0 L615.0 587.1 L621.0 587.3 L627.0 587.5 L630.3 586.6 L630.3 631.3 L627.0 632.3 L621.0 632.5 L615.0 632.7 L609.0 632.7 L603.0 632.4 L597.0 631.9 L591.0 631.4 L585.0 631.2 L579.0 631.2 L573.0 631.4 L567.0 631.4 L561.0 631.4 L555.0 631.3 L549.0 631.5 L543.0 631.7 L537.0 631.8 L531.0 631.7 L525.0 631.4 L519.0 631.1 L513.0 631.0 L507.0 631.2 L501.0 631.5 L495.0 631.6 L489.0 631.5 L483.0 631.2 L477.0 631.0 L471.0 630.9 L465.0 630.7 L459.0 630.5 L453.0 630.1 L447.0 629.7 L441.0 629.5 L435.0 629.7 L429.0 630.2 L423.0 630.6 L417.0 630.8 Z" fill="#424242"/><path d="M633.2 597.0 L639.2 596.5 L645.2 595.7 L651.2 595.4 L657.2 595.8 L663.2 596.9 L669.2 598.2 L675.2 599.0 L681.2 599.3 L687.2 599.4 L693.2 599.6 L699.2 600.0 L705.2 600.0 L711.2 599.5 L717.2 598.5 L723.2 597.6 L729.2 597.2 L735.2 597.5 L741.2 597.9 L747.2 597.8 L753.2 597.1 L759.2 596.1 L765.2 595.2 L771.2 594.8 L777.2 594.6 L783.2 594.3 L789.2 593.8 L795.2 593.4 L801.2 593.6 L807.2 594.6 L813.2 595.8 L819.2 596.7 L825.2 596.7 L831.2 596.2 L837.2 595.6 L843.2 595.4 L847.0 596.5 L847.0 621.2 L843.2 621.8 L837.2 621.5 L831.2 620.7 L825.2 619.8 L819.2 619.4 L813.2 619.6 L807.2 620.0 L801.2 620.1 L795.2 619.8 L789.2 619.6 L783.2 619.7 L777.2 620.2 L771.2 620.5 L765.2 620.3 L759.2 619.6 L753.2 619.0 L747.2 619.1 L741.2 620.0 L735.2 621.4 L729.2 622.5 L723.2 623.2 L717.2 623.5 L711.2 623.9 L705.2 624.5 L699.2 624.9 L693.2 624.8 L687.2 624.0 L681.2 623.1 L675.2 622.5 L669.2 622.6 L663.2 623.1 L657.2 623.4 L651.2 623.1 L645.2 622.3 L639.2 621.5 L633.2 621.1 Z" fill="#424242"/><path d="M850.2 598.6 L856.2 599.0 L862.2 599.7 L868.2 600.3 L874.2 600.7 L880.2 600.6 L886.2 600.3 L892.2 600.0 L898.2 599.9 L904.2 600.1 L910.2 600.3 L916.2 600.2 L922.2 599.9 L928.2 599.7 L934.2 599.6 L940.2 599.7 L946.2 599.5 L952.2 599.0 L958.2 598.3 L964.2 597.7 L970.2 597.6 L976.2 597.8 L982.2 598.3 L988.2 598.5 L994.2 598.6 L1000.2 598.6 L1006.2 598.7 L1012.2 598.9 L1018.2 599.0 L1024.2 598.8 L1030.2 598.3 L1036.2 597.9 L1042.2 597.7 L1048.2 597.9 L1054.2 598.2 L1060.2 598.4 L1063.4 598.8 L1063.4 619.0 L1060.2 619.8 L1054.2 619.5 L1048.2 619.0 L1042.2 618.5 L1036.2 618.2 L1030.2 618.4 L1024.2 618.9 L1018.2 619.3 L1012.2 619.5 L1006.2 619.5 L1000.2 619.4 L994.2 619.5 L988.2 619.5 L982.2 619.4 L976.2 618.9 L970.2 618.3 L964.2 617.8 L958.2 617.8 L952.2 618.0 L946.2 618.3 L940.2 618.2 L934.2 617.9 L928.2 617.6 L922.2 617.4 L916.2 617.4 L910.2 617.6 L904.2 617.5 L898.2 617.5 L892.2 617.5 L886.2 618.0 L880.2 618.7 L874.2 619.6 L868.2 620.1 L862.2 620.1 L856.2 619.9 L850.2 619.8 Z" fill="#424242"/><path d="M1066.4 598.3 L1072.4 598.6 L1078.4 598.7 L1084.4 598.5 L1090.4 598.1 L1096.4 598.0 L1102.4 598.1 L1108.4 598.3 L1114.4 598.4 L1120.4 598.4 L1126.4 598.3 L1132.4 598.3 L1138.4 598.5 L1144.4 598.7 L1150.4 598.6 L1156.4 598.4 L1162.4 598.1 L1168.4 598.0 L1174.4 598.3 L1180.4 598.7 L1186.4 599.2 L1192.4 599.4 L1198.4 599.5 L1204.4 599.6 L1210.4 599.8 L1216.4 599.9 L1222.4 599.8 L1228.4 599.5 L1234.4 599.1 L1240.4 598.7 L1246.4 598.6 L1252.4 598.8 L1258.4 598.9 L1264.4 598.8 L1270.4 598.4 L1276.4 598.1 L1279.0 598.4 L1279.0 616.0 L1276.4 616.3 L1270.4 616.3 L1264.4 616.4 L1258.4 616.6 L1252.4 616.8 L1246.4 616.7 L1240.4 616.4 L1234.4 616.1 L1228.4 616.0 L1222.4 616.2 L1216.4 616.4 L1210.4 616.6 L1204.4 616.5 L1198.4 616.1 L1192.4 615.8 L1186.4 615.6 L1180.4 615.5 L1174.4 615.2 L1168.4 614.8 L1162.4 614.4 L1156.4 614.2 L1150.4 614.4 L1144.4 614.8 L1138.4 615.2 L1132.4 615.4 L1126.4 615.4 L1120.4 615.4 L1114.4 615.5 L1108.4 615.7 L1102.4 615.9 L1096.4 615.9 L1090.4 615.9 L1084.4 615.9 L1078.4 616.2 L1072.4 616.6 L1066.4 616.9 Z" fill="#424242"/><path d="M1282.2 597.6 L1288.2 597.6 L1294.2 597.9 L1300.2 598.2 L1306.2 598.3 L1312.2 598.2 L1318.2 598.0 L1324.2 597.8 L1330.2 597.8 L1336.2 597.9 L1342.2 597.9 L1348.2 597.9 L1354.2 597.9 L1360.2 598.0 L1366.2 598.4 L1372.2 598.9 L1378.2 599.2 L1384.2 599.3 L1390.2 599.1 L1396.2 598.9 L1402.2 598.8 L1408.2 598.8 L1414.2 598.8 L1420.2 598.7 L1426.2 598.4 L1432.2 598.3 L1438.2 598.3 L1444.2 598.3 L1450.2 598.3 L1456.2 598.1 L1462.2 597.7 L1468.2 597.2 L1474.2 597.0 L1480.2 597.1 L1486.2 597.2 L1492.2 597.3 L1495.0 598.0 L1495.0 614.5 L1492.2 615.5 L1486.2 615.1 L1480.2 614.6 L1474.2 614.3 L1468.2 614.2 L1462.2 614.0 L1456.2 613.8 L1450.2 613.6 L1444.2 613.5 L1438.2 613.7 L1432.2 613.9 L1426.2 614.2 L1420.2 614.2 L1414.2 614.0 L1408.2 613.8 L1402.2 613.7 L1396.2 613.9 L1390.2 614.1 L1384.2 614.3 L1378.2 614.3 L1372.2 614.3 L1366.2 614.4 L1360.2 614.6 L1354.2 614.7 L1348.2 614.6 L1342.2 614.3 L1336.2 613.9 L1330.2 613.7 L1324.2 613.7 L1318.2 614.0 L1312.2 614.2 L1306.2 614.4 L1300.2 614.4 L1294.2 614.6 L1288.2 614.8 L1282.2 615.1 Z" fill="#424242"/><path d="M417.0 680.0 L423.0 680.3 L429.0 680.7 L435.0 680.9 L441.0 680.8 L447.0 680.5 L453.0 680.4 L459.0 680.7 L465.0 681.3 L471.0 681.9 L477.0 682.3 L483.0 682.5 L489.0 682.6 L495.0 682.8 L501.0 683.1 L507.0 683.1 L513.0 682.8 L519.0 682.2 L525.0 681.7 L531.0 681.5 L537.0 681.7 L543.0 682.0 L549.0 682.1 L555.0 682.0 L561.0 681.8 L567.0 681.7 L573.0 681.7 L579.0 681.8 L585.0 681.7 L591.0 681.4 L597.0 681.2 L603.0 681.3 L609.0 681.6 L615.0 682.2 L621.0 682.4 L627.0 682.3 L630.3 681.4 L630.3 720.0 L627.0 720.7 L621.0 720.4 L615.0 720.0 L609.0 719.6 L603.0 719.6 L597.0 719.9 L591.0 720.2 L585.0 720.3 L579.0 720.2 L573.0 720.1 L567.0 720.1 L561.0 720.3 L555.0 720.4 L549.0 720.3 L543.0 720.1 L537.0 720.0 L531.0 720.2 L525.0 720.8 L519.0 721.4 L513.0 721.8 L507.0 721.9 L501.0 721.7 L495.0 721.5 L489.0 721.4 L483.0 721.2 L477.0 720.9 L471.0 720.4 L465.0 719.9 L459.0 719.6 L453.0 719.7 L447.0 719.9 L441.0 719.9 L435.0 719.7 L429.0 719.2 L423.0 718.7 L417.0 718.6 Z" fill="#424242"/><path d="M633.2 689.9 L639.2 689.6 L645.2 689.0 L651.2 688.4 L657.2 688.1 L663.2 687.8 L669.2 687.5 L675.2 686.9 L681.2 686.4 L687.2 686.3 L693.2 686.8 L699.2 687.8 L705.2 688.7 L711.2 689.1 L717.2 689.1 L723.2 689.1 L729.2 689.3 L735.2 689.6 L741.2 689.9 L747.2 689.9 L753.2 689.7 L759.2 689.7 L765.2 690.1 L771.2 690.7 L777.2 691.2 L783.2 691.1 L789.2 690.6 L795.2 689.8 L801.2 689.4 L807.2 689.4 L813.2 689.6 L819.2 689.7 L825.2 689.7 L831.2 689.8 L837.2 690.2 L843.2 691.0 L847.0 689.5 L847.0 713.0 L843.2 712.1 L837.2 712.2 L831.2 712.5 L825.2 712.9 L819.2 713.3 L813.2 713.3 L807.2 712.8 L801.2 712.2 L795.2 711.9 L789.2 712.2 L783.2 712.7 L777.2 713.2 L771.2 713.3 L765.2 713.0 L759.2 712.7 L753.2 712.7 L747.2 712.9 L741.2 713.0 L735.2 712.9 L729.2 712.6 L723.2 712.7 L717.2 713.4 L711.2 714.4 L705.2 715.4 L699.2 715.8 L693.2 715.7 L687.2 715.4 L681.2 715.1 L675.2 715.1 L669.2 715.0 L663.2 714.6 L657.2 713.9 L651.2 713.4 L645.2 713.2 L639.2 713.4 L633.2 713.7 Z" fill="#424242"/><path d="M850.2 691.7 L856.2 692.2 L862.2 692.4 L868.2 692.3 L874.2 692.0 L880.2 691.7 L886.2 691.7 L892.2 692.0 L898.2 692.3 L904.2 692.4 L910.2 692.1 L916.2 691.7 L922.2 691.4 L928.2 691.2 L934.2 691.0 L940.2 690.7 L946.2 690.3 L952.2 689.9 L958.2 689.9 L964.2 690.3 L970.2 690.8 L976.2 691.2 L982.2 691.2 L988.2 691.0 L994.2 690.8 L1000.2 690.7 L1006.2 690.7 L1012.2 690.6 L1018.2 690.4 L1024.2 690.0 L1030.2 689.9 L1036.2 690.0 L1042.2 690.3 L1048.2 690.4 L1054.2 690.2 L1060.2 689.7 L1063.4 690.8 L1063.4 709.8 L1060.2 710.4 L1054.2 710.2 L1048.2 710.0 L1042.2 709.8 L1036.2 709.9 L1030.2 709.8 L1024.2 709.4 L1018.2 708.7 L1012.2 708.0 L1006.2 707.7 L1000.2 707.8 L994.2 708.1 L988.2 708.4 L982.2 708.6 L976.2 708.7 L970.2 708.9 L964.2 709.2 L958.2 709.6 L952.2 709.7 L946.2 709.6 L940.2 709.4 L934.2 709.4 L928.2 709.7 L922.2 710.2 L916.2 710.6 L910.2 710.7 L904.2 710.5 L898.2 710.3 L892.2 710.2 L886.2 710.1 L880.2 710.1 L874.2 709.8 L868.2 709.5 L862.2 709.3 L856.2 709.6 L850.2 710.2 Z" fill="#424242"/><path d="M1066.4 690.4 L1072.4 690.3 L1078.4 690.3 L1084.4 690.3 L1090.4 690.2 L1096.4 690.2 L1102.4 690.4 L1108.4 690.9 L1114.4 691.5 L1120.4 691.8 L1126.4 691.9 L1132.4 691.7 L1138.4 691.5 L1144.4 691.5 L1150.4 691.7 L1156.4 691.8 L1162.4 691.8 L1168.4 691.7 L1174.4 691.6 L1180.4 691.8 L1186.4 692.1 L1192.4 692.2 L1198.4 692.0 L1204.4 691.7 L1210.4 691.3 L1216.4 691.3 L1222.4 691.6 L1228.4 691.9 L1234.4 692.2 L1240.4 692.3 L1246.4 692.4 L1252.4 692.7 L1258.4 693.0 L1264.4 693.1 L1270.4 693.0 L1276.4 692.6 L1279.0 691.6 L1279.0 707.6 L1276.4 707.7 L1270.4 707.8 L1264.4 707.6 L1258.4 707.1 L1252.4 706.6 L1246.4 706.4 L1240.4 706.5 L1234.4 706.7 L1228.4 706.8 L1222.4 706.8 L1216.4 706.9 L1210.4 707.1 L1204.4 707.5 L1198.4 707.8 L1192.4 707.9 L1186.4 707.8 L1180.4 707.7 L1174.4 707.8 L1168.4 708.1 L1162.4 708.6 L1156.4 708.9 L1150.4 709.0 L1144.4 708.9 L1138.4 708.9 L1132.4 708.9 L1126.4 708.8 L1120.4 708.6 L1114.4 708.1 L1108.4 707.6 L1102.4 707.3 L1096.4 707.4 L1090.4 707.6 L1084.4 707.8 L1078.4 707.8 L1072.4 707.7 L1066.4 707.5 Z" fill="#424242"/><path d="M1282.2 691.5 L1288.2 691.6 L1294.2 691.8 L1300.2 691.9 L1306.2 691.8 L1312.2 691.8 L1318.2 691.9 L1324.2 692.0 L1330.2 692.1 L1336.2 692.0 L1342.2 691.8 L1348.2 691.6 L1354.2 691.5 L1360.2 691.7 L1366.2 692.0 L1372.2 692.1 L1378.2 692.0 L1384.2 691.7 L1390.2 691.5 L1396.2 691.3 L1402.2 691.2 L1408.2 691.0 L1414.2 690.6 L1420.2 690.3 L1426.2 690.2 L1432.2 690.3 L1438.2 690.7 L1444.2 691.0 L1450.2 691.1 L1456.2 691.0 L1462.2 691.0 L1468.2 691.1 L1474.2 691.3 L1480.2 691.5 L1486.2 691.5 L1492.2 691.5 L1495.0 691.6 L1495.0 706.6 L1492.2 706.8 L1486.2 706.9 L1480.2 707.1 L1474.2 707.4 L1468.2 707.6 L1462.2 707.7 L1456.2 707.6 L1450.2 707.6 L1444.2 707.7 L1438.2 707.7 L1432.2 707.4 L1426.2 707.0 L1420.2 706.6 L1414.2 706.3 L1408.2 706.3 L1402.2 706.5 L1396.2 706.6 L1390.2 706.6 L1384.2 706.5 L1378.2 706.5 L1372.2 706.6 L1366.2 706.7 L1360.2 706.7 L1354.2 706.5 L1348.2 706.3 L1342.2 706.2 L1336.2 706.3 L1330.2 706.6 L1324.2 706.8 L1318.2 706.7 L1312.2 706.5 L1306.2 706.2 L1300.2 706.0 L1294.2 705.9 L1288.2 705.8 L1282.2 705.6 Z" fill="#424242"/></g>
<g filter="url(#bl2)" opacity="0.6"><path d="M417.0 578.2 L423.0 578.3 L429.0 578.5 L435.0 578.9 L441.0 579.1 L447.0 579.0 L453.0 578.6 L459.0 578.1 L465.0 577.9 L471.0 577.9 L477.0 578.0 L483.0 578.0 L489.0 577.9 L495.0 577.7 L501.0 577.7 L507.0 577.8 L513.0 577.9 L519.0 577.9 L525.0 577.6 L531.0 577.3 L537.0 577.3 L543.0 577.7 L549.0 578.2 L555.0 578.7 L561.0 579.0 L567.0 579.2 L573.0 579.3 L579.0 579.6 L585.0 579.8 L591.0 579.8 L597.0 579.6 L603.0 579.2 L609.0 579.0 L615.0 579.1 L621.0 579.3 L627.0 579.5 L630.3 578.6 L630.3 589.6 L627.0 590.5 L621.0 590.3 L615.0 590.1 L609.0 590.0 L603.0 590.2 L597.0 590.6 L591.0 590.8 L585.0 590.8 L579.0 590.6 L573.0 590.3 L567.0 590.2 L561.0 590.0 L555.0 589.7 L549.0 589.2 L543.0 588.7 L537.0 588.3 L531.0 588.3 L525.0 588.6 L519.0 588.9 L513.0 588.9 L507.0 588.8 L501.0 588.7 L495.0 588.7 L489.0 588.9 L483.0 589.0 L477.0 589.0 L471.0 588.9 L465.0 588.9 L459.0 589.1 L453.0 589.6 L447.0 590.0 L441.0 590.1 L435.0 589.9 L429.0 589.5 L423.0 589.3 L417.0 589.2 Z" fill="#6a625a"/><path d="M417.0 627.3 L423.0 627.1 L429.0 626.7 L435.0 626.2 L441.0 626.0 L447.0 626.2 L453.0 626.6 L459.0 627.0 L465.0 627.2 L471.0 627.4 L477.0 627.5 L483.0 627.7 L489.0 628.0 L495.0 628.1 L501.0 628.0 L507.0 627.7 L513.0 627.5 L519.0 627.6 L525.0 627.9 L531.0 628.2 L537.0 628.3 L543.0 628.2 L549.0 628.0 L555.0 627.8 L561.0 627.9 L567.0 627.9 L573.0 627.9 L579.0 627.7 L585.0 627.7 L591.0 627.9 L597.0 628.4 L603.0 628.9 L609.0 629.2 L615.0 629.2 L621.0 629.0 L627.0 628.8 L630.3 627.8 L630.3 640.3 L627.0 641.3 L621.0 641.5 L615.0 641.7 L609.0 641.7 L603.0 641.4 L597.0 640.9 L591.0 640.4 L585.0 640.2 L579.0 640.2 L573.0 640.4 L567.0 640.4 L561.0 640.4 L555.0 640.3 L549.0 640.5 L543.0 640.7 L537.0 640.8 L531.0 640.7 L525.0 640.4 L519.0 640.1 L513.0 640.0 L507.0 640.2 L501.0 640.5 L495.0 640.6 L489.0 640.5 L483.0 640.2 L477.0 640.0 L471.0 639.9 L465.0 639.7 L459.0 639.5 L453.0 639.1 L447.0 638.7 L441.0 638.5 L435.0 638.7 L429.0 639.2 L423.0 639.6 L417.0 639.8 Z" fill="#6a625a"/><path d="M633.2 592.4 L639.2 591.9 L645.2 591.1 L651.2 590.8 L657.2 591.2 L663.2 592.3 L669.2 593.6 L675.2 594.4 L681.2 594.7 L687.2 594.8 L693.2 595.0 L699.2 595.4 L705.2 595.4 L711.2 594.9 L717.2 593.9 L723.2 593.0 L729.2 592.6 L735.2 592.9 L741.2 593.3 L747.2 593.2 L753.2 592.5 L759.2 591.5 L765.2 590.6 L771.2 590.2 L777.2 590.0 L783.2 589.7 L789.2 589.2 L795.2 588.8 L801.2 589.0 L807.2 590.0 L813.2 591.2 L819.2 592.1 L825.2 592.1 L831.2 591.6 L837.2 591.0 L843.2 590.8 L847.0 591.9 L847.0 597.8 L843.2 596.7 L837.2 596.9 L831.2 597.5 L825.2 598.0 L819.2 598.0 L813.2 597.1 L807.2 595.9 L801.2 594.9 L795.2 594.7 L789.2 595.1 L783.2 595.6 L777.2 595.9 L771.2 596.1 L765.2 596.5 L759.2 597.4 L753.2 598.4 L747.2 599.1 L741.2 599.2 L735.2 598.8 L729.2 598.5 L723.2 598.9 L717.2 599.8 L711.2 600.8 L705.2 601.3 L699.2 601.3 L693.2 600.9 L687.2 600.7 L681.2 600.6 L675.2 600.3 L669.2 599.5 L663.2 598.2 L657.2 597.1 L651.2 596.7 L645.2 597.0 L639.2 597.8 L633.2 598.3 Z" fill="#6a625a"/><path d="M633.2 619.3 L639.2 619.7 L645.2 620.5 L651.2 621.3 L657.2 621.6 L663.2 621.3 L669.2 620.8 L675.2 620.7 L681.2 621.3 L687.2 622.2 L693.2 623.0 L699.2 623.1 L705.2 622.7 L711.2 622.1 L717.2 621.7 L723.2 621.4 L729.2 620.7 L735.2 619.6 L741.2 618.2 L747.2 617.3 L753.2 617.2 L759.2 617.8 L765.2 618.5 L771.2 618.7 L777.2 618.4 L783.2 617.9 L789.2 617.8 L795.2 618.0 L801.2 618.3 L807.2 618.2 L813.2 617.8 L819.2 617.6 L825.2 618.0 L831.2 618.9 L837.2 619.7 L843.2 620.0 L847.0 619.4 L847.0 626.8 L843.2 627.4 L837.2 627.1 L831.2 626.3 L825.2 625.4 L819.2 625.0 L813.2 625.2 L807.2 625.6 L801.2 625.7 L795.2 625.4 L789.2 625.2 L783.2 625.3 L777.2 625.8 L771.2 626.1 L765.2 625.9 L759.2 625.2 L753.2 624.6 L747.2 624.7 L741.2 625.6 L735.2 627.0 L729.2 628.1 L723.2 628.8 L717.2 629.1 L711.2 629.5 L705.2 630.1 L699.2 630.5 L693.2 630.4 L687.2 629.6 L681.2 628.7 L675.2 628.1 L669.2 628.2 L663.2 628.7 L657.2 629.0 L651.2 628.7 L645.2 627.9 L639.2 627.1 L633.2 626.7 Z" fill="#6a625a"/><path d="M850.2 594.4 L856.2 594.8 L862.2 595.5 L868.2 596.1 L874.2 596.5 L880.2 596.4 L886.2 596.1 L892.2 595.8 L898.2 595.7 L904.2 595.9 L910.2 596.1 L916.2 596.0 L922.2 595.7 L928.2 595.5 L934.2 595.4 L940.2 595.5 L946.2 595.3 L952.2 594.8 L958.2 594.1 L964.2 593.5 L970.2 593.4 L976.2 593.6 L982.2 594.1 L988.2 594.3 L994.2 594.4 L1000.2 594.4 L1006.2 594.5 L1012.2 594.7 L1018.2 594.8 L1024.2 594.6 L1030.2 594.1 L1036.2 593.7 L1042.2 593.5 L1048.2 593.7 L1054.2 594.0 L1060.2 594.2 L1063.4 594.6 L1063.4 599.9 L1060.2 599.5 L1054.2 599.3 L1048.2 599.0 L1042.2 598.8 L1036.2 599.0 L1030.2 599.4 L1024.2 599.9 L1018.2 600.1 L1012.2 600.0 L1006.2 599.8 L1000.2 599.7 L994.2 599.7 L988.2 599.6 L982.2 599.4 L976.2 598.9 L970.2 598.7 L964.2 598.8 L958.2 599.4 L952.2 600.1 L946.2 600.6 L940.2 600.8 L934.2 600.7 L928.2 600.8 L922.2 601.0 L916.2 601.3 L910.2 601.4 L904.2 601.2 L898.2 601.0 L892.2 601.1 L886.2 601.4 L880.2 601.7 L874.2 601.8 L868.2 601.4 L862.2 600.8 L856.2 600.1 L850.2 599.7 Z" fill="#6a625a"/><path d="M850.2 618.5 L856.2 618.6 L862.2 618.8 L868.2 618.8 L874.2 618.3 L880.2 617.4 L886.2 616.7 L892.2 616.2 L898.2 616.2 L904.2 616.2 L910.2 616.3 L916.2 616.1 L922.2 616.1 L928.2 616.3 L934.2 616.6 L940.2 616.9 L946.2 617.0 L952.2 616.7 L958.2 616.5 L964.2 616.5 L970.2 617.0 L976.2 617.6 L982.2 618.1 L988.2 618.2 L994.2 618.2 L1000.2 618.1 L1006.2 618.2 L1012.2 618.2 L1018.2 618.0 L1024.2 617.6 L1030.2 617.1 L1036.2 616.9 L1042.2 617.2 L1048.2 617.7 L1054.2 618.2 L1060.2 618.5 L1063.4 617.7 L1063.4 623.6 L1060.2 624.4 L1054.2 624.1 L1048.2 623.6 L1042.2 623.1 L1036.2 622.8 L1030.2 623.0 L1024.2 623.5 L1018.2 623.9 L1012.2 624.1 L1006.2 624.1 L1000.2 624.0 L994.2 624.1 L988.2 624.1 L982.2 624.0 L976.2 623.5 L970.2 622.9 L964.2 622.4 L958.2 622.4 L952.2 622.6 L946.2 622.9 L940.2 622.8 L934.2 622.5 L928.2 622.2 L922.2 622.0 L916.2 622.0 L910.2 622.2 L904.2 622.1 L898.2 622.1 L892.2 622.1 L886.2 622.6 L880.2 623.3 L874.2 624.2 L868.2 624.7 L862.2 624.7 L856.2 624.5 L850.2 624.4 Z" fill="#6a625a"/><path d="M1066.4 594.3 L1072.4 594.6 L1078.4 594.7 L1084.4 594.5 L1090.4 594.1 L1096.4 594.0 L1102.4 594.1 L1108.4 594.3 L1114.4 594.4 L1120.4 594.4 L1126.4 594.3 L1132.4 594.3 L1138.4 594.5 L1144.4 594.7 L1150.4 594.6 L1156.4 594.4 L1162.4 594.1 L1168.4 594.0 L1174.4 594.3 L1180.4 594.7 L1186.4 595.2 L1192.4 595.4 L1198.4 595.5 L1204.4 595.6 L1210.4 595.8 L1216.4 595.9 L1222.4 595.8 L1228.4 595.5 L1234.4 595.1 L1240.4 594.7 L1246.4 594.6 L1252.4 594.8 L1258.4 594.9 L1264.4 594.8 L1270.4 594.4 L1276.4 594.1 L1279.0 594.4 L1279.0 599.4 L1276.4 599.1 L1270.4 599.4 L1264.4 599.8 L1258.4 599.9 L1252.4 599.8 L1246.4 599.6 L1240.4 599.7 L1234.4 600.1 L1228.4 600.5 L1222.4 600.8 L1216.4 600.9 L1210.4 600.8 L1204.4 600.6 L1198.4 600.5 L1192.4 600.4 L1186.4 600.2 L1180.4 599.7 L1174.4 599.3 L1168.4 599.0 L1162.4 599.1 L1156.4 599.4 L1150.4 599.6 L1144.4 599.7 L1138.4 599.5 L1132.4 599.3 L1126.4 599.3 L1120.4 599.4 L1114.4 599.4 L1108.4 599.3 L1102.4 599.1 L1096.4 599.0 L1090.4 599.1 L1084.4 599.5 L1078.4 599.7 L1072.4 599.6 L1066.4 599.3 Z" fill="#6a625a"/><path d="M1066.4 615.9 L1072.4 615.6 L1078.4 615.2 L1084.4 614.9 L1090.4 614.9 L1096.4 614.9 L1102.4 614.9 L1108.4 614.7 L1114.4 614.5 L1120.4 614.4 L1126.4 614.4 L1132.4 614.4 L1138.4 614.2 L1144.4 613.8 L1150.4 613.4 L1156.4 613.2 L1162.4 613.4 L1168.4 613.8 L1174.4 614.2 L1180.4 614.5 L1186.4 614.6 L1192.4 614.8 L1198.4 615.1 L1204.4 615.5 L1210.4 615.6 L1216.4 615.4 L1222.4 615.2 L1228.4 615.0 L1234.4 615.1 L1240.4 615.4 L1246.4 615.7 L1252.4 615.8 L1258.4 615.6 L1264.4 615.4 L1270.4 615.3 L1276.4 615.3 L1279.0 615.0 L1279.0 620.0 L1276.4 620.3 L1270.4 620.3 L1264.4 620.4 L1258.4 620.6 L1252.4 620.8 L1246.4 620.7 L1240.4 620.4 L1234.4 620.1 L1228.4 620.0 L1222.4 620.2 L1216.4 620.4 L1210.4 620.6 L1204.4 620.5 L1198.4 620.1 L1192.4 619.8 L1186.4 619.6 L1180.4 619.5 L1174.4 619.2 L1168.4 618.8 L1162.4 618.4 L1156.4 618.2 L1150.4 618.4 L1144.4 618.8 L1138.4 619.2 L1132.4 619.4 L1126.4 619.4 L1120.4 619.4 L1114.4 619.5 L1108.4 619.7 L1102.4 619.9 L1096.4 619.9 L1090.4 619.9 L1084.4 619.9 L1078.4 620.2 L1072.4 620.6 L1066.4 620.9 Z" fill="#6a625a"/><path d="M1282.2 593.7 L1288.2 593.7 L1294.2 594.0 L1300.2 594.3 L1306.2 594.4 L1312.2 594.3 L1318.2 594.1 L1324.2 593.9 L1330.2 593.9 L1336.2 594.0 L1342.2 594.0 L1348.2 594.0 L1354.2 594.0 L1360.2 594.1 L1366.2 594.5 L1372.2 595.0 L1378.2 595.3 L1384.2 595.4 L1390.2 595.2 L1396.2 595.0 L1402.2 594.9 L1408.2 594.9 L1414.2 594.9 L1420.2 594.8 L1426.2 594.5 L1432.2 594.4 L1438.2 594.4 L1444.2 594.4 L1450.2 594.4 L1456.2 594.2 L1462.2 593.8 L1468.2 593.3 L1474.2 593.1 L1480.2 593.2 L1486.2 593.3 L1492.2 593.4 L1495.0 594.1 L1495.0 599.0 L1492.2 598.3 L1486.2 598.2 L1480.2 598.0 L1474.2 598.0 L1468.2 598.2 L1462.2 598.6 L1456.2 599.1 L1450.2 599.3 L1444.2 599.3 L1438.2 599.2 L1432.2 599.2 L1426.2 599.4 L1420.2 599.6 L1414.2 599.8 L1408.2 599.8 L1402.2 599.8 L1396.2 599.8 L1390.2 600.0 L1384.2 600.2 L1378.2 600.2 L1372.2 599.8 L1366.2 599.3 L1360.2 599.0 L1354.2 598.8 L1348.2 598.8 L1342.2 598.9 L1336.2 598.8 L1330.2 598.8 L1324.2 598.8 L1318.2 598.9 L1312.2 599.2 L1306.2 599.3 L1300.2 599.1 L1294.2 598.8 L1288.2 598.6 L1282.2 598.6 Z" fill="#6a625a"/><path d="M1282.2 614.2 L1288.2 613.9 L1294.2 613.6 L1300.2 613.5 L1306.2 613.4 L1312.2 613.3 L1318.2 613.0 L1324.2 612.8 L1330.2 612.7 L1336.2 612.9 L1342.2 613.3 L1348.2 613.6 L1354.2 613.7 L1360.2 613.6 L1366.2 613.4 L1372.2 613.3 L1378.2 613.3 L1384.2 613.3 L1390.2 613.2 L1396.2 612.9 L1402.2 612.8 L1408.2 612.8 L1414.2 613.0 L1420.2 613.2 L1426.2 613.2 L1432.2 613.0 L1438.2 612.7 L1444.2 612.6 L1450.2 612.7 L1456.2 612.9 L1462.2 613.1 L1468.2 613.2 L1474.2 613.4 L1480.2 613.7 L1486.2 614.1 L1492.2 614.5 L1495.0 613.5 L1495.0 618.4 L1492.2 619.4 L1486.2 619.0 L1480.2 618.5 L1474.2 618.2 L1468.2 618.1 L1462.2 617.9 L1456.2 617.7 L1450.2 617.5 L1444.2 617.4 L1438.2 617.6 L1432.2 617.8 L1426.2 618.1 L1420.2 618.1 L1414.2 617.9 L1408.2 617.7 L1402.2 617.6 L1396.2 617.8 L1390.2 618.0 L1384.2 618.2 L1378.2 618.2 L1372.2 618.2 L1366.2 618.3 L1360.2 618.5 L1354.2 618.6 L1348.2 618.5 L1342.2 618.2 L1336.2 617.8 L1330.2 617.6 L1324.2 617.6 L1318.2 617.9 L1312.2 618.1 L1306.2 618.3 L1300.2 618.3 L1294.2 618.5 L1288.2 618.7 L1282.2 619.0 Z" fill="#6a625a"/><path d="M417.0 672.5 L423.0 672.8 L429.0 673.2 L435.0 673.4 L441.0 673.3 L447.0 673.0 L453.0 672.9 L459.0 673.2 L465.0 673.8 L471.0 674.4 L477.0 674.8 L483.0 675.0 L489.0 675.1 L495.0 675.3 L501.0 675.6 L507.0 675.6 L513.0 675.3 L519.0 674.7 L525.0 674.2 L531.0 674.0 L537.0 674.2 L543.0 674.5 L549.0 674.6 L555.0 674.5 L561.0 674.3 L567.0 674.2 L573.0 674.2 L579.0 674.3 L585.0 674.2 L591.0 673.9 L597.0 673.7 L603.0 673.8 L609.0 674.1 L615.0 674.7 L621.0 674.9 L627.0 674.8 L630.3 673.9 L630.3 684.1 L627.0 685.1 L621.0 685.2 L615.0 684.9 L609.0 684.4 L603.0 684.0 L597.0 683.9 L591.0 684.2 L585.0 684.5 L579.0 684.6 L573.0 684.5 L567.0 684.4 L561.0 684.5 L555.0 684.7 L549.0 684.9 L543.0 684.8 L537.0 684.5 L531.0 684.3 L525.0 684.5 L519.0 685.0 L513.0 685.5 L507.0 685.9 L501.0 685.8 L495.0 685.6 L489.0 685.4 L483.0 685.2 L477.0 685.1 L471.0 684.6 L465.0 684.0 L459.0 683.4 L453.0 683.2 L447.0 683.3 L441.0 683.5 L435.0 683.6 L429.0 683.4 L423.0 683.0 L417.0 682.7 Z" fill="#6a625a"/><path d="M417.0 715.8 L423.0 716.0 L429.0 716.4 L435.0 716.9 L441.0 717.2 L447.0 717.1 L453.0 716.9 L459.0 716.8 L465.0 717.1 L471.0 717.7 L477.0 718.2 L483.0 718.5 L489.0 718.6 L495.0 718.7 L501.0 718.9 L507.0 719.1 L513.0 719.1 L519.0 718.7 L525.0 718.0 L531.0 717.4 L537.0 717.2 L543.0 717.4 L549.0 717.6 L555.0 717.7 L561.0 717.6 L567.0 717.4 L573.0 717.4 L579.0 717.5 L585.0 717.6 L591.0 717.4 L597.0 717.1 L603.0 716.8 L609.0 716.9 L615.0 717.2 L621.0 717.7 L627.0 717.9 L630.3 717.2 L630.3 727.5 L627.0 728.2 L621.0 727.9 L615.0 727.5 L609.0 727.1 L603.0 727.1 L597.0 727.4 L591.0 727.7 L585.0 727.8 L579.0 727.7 L573.0 727.6 L567.0 727.6 L561.0 727.8 L555.0 727.9 L549.0 727.8 L543.0 727.6 L537.0 727.5 L531.0 727.7 L525.0 728.3 L519.0 728.9 L513.0 729.3 L507.0 729.4 L501.0 729.2 L495.0 729.0 L489.0 728.9 L483.0 728.7 L477.0 728.4 L471.0 727.9 L465.0 727.4 L459.0 727.1 L453.0 727.2 L447.0 727.4 L441.0 727.4 L435.0 727.2 L429.0 726.7 L423.0 726.2 L417.0 726.1 Z" fill="#6a625a"/><path d="M633.2 684.5 L639.2 684.2 L645.2 683.6 L651.2 683.0 L657.2 682.7 L663.2 682.4 L669.2 682.1 L675.2 681.5 L681.2 681.0 L687.2 680.9 L693.2 681.4 L699.2 682.4 L705.2 683.3 L711.2 683.7 L717.2 683.7 L723.2 683.7 L729.2 683.9 L735.2 684.2 L741.2 684.5 L747.2 684.5 L753.2 684.3 L759.2 684.3 L765.2 684.7 L771.2 685.3 L777.2 685.8 L783.2 685.7 L789.2 685.2 L795.2 684.4 L801.2 684.0 L807.2 684.0 L813.2 684.2 L819.2 684.3 L825.2 684.3 L831.2 684.4 L837.2 684.8 L843.2 685.6 L847.0 684.1 L847.0 691.2 L843.2 692.7 L837.2 691.9 L831.2 691.5 L825.2 691.4 L819.2 691.4 L813.2 691.3 L807.2 691.1 L801.2 691.1 L795.2 691.5 L789.2 692.3 L783.2 692.8 L777.2 692.9 L771.2 692.4 L765.2 691.8 L759.2 691.4 L753.2 691.4 L747.2 691.6 L741.2 691.6 L735.2 691.3 L729.2 691.0 L723.2 690.8 L717.2 690.8 L711.2 690.8 L705.2 690.4 L699.2 689.5 L693.2 688.5 L687.2 688.0 L681.2 688.1 L675.2 688.6 L669.2 689.2 L663.2 689.5 L657.2 689.8 L651.2 690.1 L645.2 690.7 L639.2 691.3 L633.2 691.6 Z" fill="#6a625a"/><path d="M633.2 712.1 L639.2 711.8 L645.2 711.6 L651.2 711.8 L657.2 712.3 L663.2 713.0 L669.2 713.4 L675.2 713.5 L681.2 713.5 L687.2 713.8 L693.2 714.1 L699.2 714.2 L705.2 713.8 L711.2 712.8 L717.2 711.8 L723.2 711.1 L729.2 711.0 L735.2 711.3 L741.2 711.4 L747.2 711.3 L753.2 711.1 L759.2 711.1 L765.2 711.4 L771.2 711.7 L777.2 711.6 L783.2 711.1 L789.2 710.6 L795.2 710.3 L801.2 710.6 L807.2 711.2 L813.2 711.7 L819.2 711.7 L825.2 711.3 L831.2 710.9 L837.2 710.6 L843.2 710.5 L847.0 711.4 L847.0 718.2 L843.2 717.3 L837.2 717.4 L831.2 717.7 L825.2 718.1 L819.2 718.5 L813.2 718.5 L807.2 718.0 L801.2 717.4 L795.2 717.1 L789.2 717.4 L783.2 717.9 L777.2 718.4 L771.2 718.5 L765.2 718.2 L759.2 717.9 L753.2 717.9 L747.2 718.1 L741.2 718.2 L735.2 718.1 L729.2 717.8 L723.2 717.9 L717.2 718.6 L711.2 719.6 L705.2 720.6 L699.2 721.0 L693.2 720.9 L687.2 720.6 L681.2 720.3 L675.2 720.3 L669.2 720.2 L663.2 719.8 L657.2 719.1 L651.2 718.6 L645.2 718.4 L639.2 718.6 L633.2 718.9 Z" fill="#6a625a"/><path d="M850.2 687.4 L856.2 687.9 L862.2 688.1 L868.2 688.0 L874.2 687.7 L880.2 687.4 L886.2 687.4 L892.2 687.7 L898.2 688.0 L904.2 688.1 L910.2 687.8 L916.2 687.4 L922.2 687.1 L928.2 686.9 L934.2 686.7 L940.2 686.4 L946.2 686.0 L952.2 685.6 L958.2 685.6 L964.2 686.0 L970.2 686.5 L976.2 686.9 L982.2 686.9 L988.2 686.7 L994.2 686.5 L1000.2 686.4 L1006.2 686.4 L1012.2 686.3 L1018.2 686.1 L1024.2 685.7 L1030.2 685.6 L1036.2 685.7 L1042.2 686.0 L1048.2 686.1 L1054.2 685.9 L1060.2 685.4 L1063.4 686.5 L1063.4 691.9 L1060.2 690.9 L1054.2 691.4 L1048.2 691.6 L1042.2 691.4 L1036.2 691.2 L1030.2 691.0 L1024.2 691.2 L1018.2 691.5 L1012.2 691.8 L1006.2 691.9 L1000.2 691.8 L994.2 691.9 L988.2 692.1 L982.2 692.4 L976.2 692.4 L970.2 692.0 L964.2 691.4 L958.2 691.1 L952.2 691.1 L946.2 691.4 L940.2 691.9 L934.2 692.2 L928.2 692.3 L922.2 692.5 L916.2 692.8 L910.2 693.3 L904.2 693.5 L898.2 693.4 L892.2 693.1 L886.2 692.8 L880.2 692.8 L874.2 693.2 L868.2 693.5 L862.2 693.6 L856.2 693.3 L850.2 692.9 Z" fill="#6a625a"/><path d="M850.2 708.9 L856.2 708.3 L862.2 708.0 L868.2 708.2 L874.2 708.5 L880.2 708.8 L886.2 708.8 L892.2 708.9 L898.2 709.0 L904.2 709.2 L910.2 709.4 L916.2 709.3 L922.2 708.9 L928.2 708.4 L934.2 708.1 L940.2 708.1 L946.2 708.3 L952.2 708.4 L958.2 708.3 L964.2 707.9 L970.2 707.6 L976.2 707.4 L982.2 707.3 L988.2 707.1 L994.2 706.8 L1000.2 706.5 L1006.2 706.4 L1012.2 706.7 L1018.2 707.4 L1024.2 708.1 L1030.2 708.5 L1036.2 708.6 L1042.2 708.5 L1048.2 708.7 L1054.2 708.9 L1060.2 709.1 L1063.4 708.5 L1063.4 714.4 L1060.2 715.0 L1054.2 714.8 L1048.2 714.6 L1042.2 714.4 L1036.2 714.5 L1030.2 714.4 L1024.2 714.0 L1018.2 713.3 L1012.2 712.6 L1006.2 712.3 L1000.2 712.4 L994.2 712.7 L988.2 713.0 L982.2 713.2 L976.2 713.3 L970.2 713.5 L964.2 713.8 L958.2 714.2 L952.2 714.3 L946.2 714.2 L940.2 714.0 L934.2 714.0 L928.2 714.3 L922.2 714.8 L916.2 715.2 L910.2 715.3 L904.2 715.1 L898.2 714.9 L892.2 714.8 L886.2 714.7 L880.2 714.7 L874.2 714.4 L868.2 714.1 L862.2 713.9 L856.2 714.2 L850.2 714.8 Z" fill="#6a625a"/><path d="M1066.4 686.4 L1072.4 686.3 L1078.4 686.3 L1084.4 686.3 L1090.4 686.2 L1096.4 686.2 L1102.4 686.4 L1108.4 686.9 L1114.4 687.5 L1120.4 687.8 L1126.4 687.9 L1132.4 687.7 L1138.4 687.5 L1144.4 687.5 L1150.4 687.7 L1156.4 687.8 L1162.4 687.8 L1168.4 687.7 L1174.4 687.6 L1180.4 687.8 L1186.4 688.1 L1192.4 688.2 L1198.4 688.0 L1204.4 687.7 L1210.4 687.3 L1216.4 687.3 L1222.4 687.6 L1228.4 687.9 L1234.4 688.2 L1240.4 688.3 L1246.4 688.4 L1252.4 688.7 L1258.4 689.0 L1264.4 689.1 L1270.4 689.0 L1276.4 688.6 L1279.0 687.6 L1279.0 692.6 L1276.4 693.6 L1270.4 694.0 L1264.4 694.1 L1258.4 694.0 L1252.4 693.7 L1246.4 693.4 L1240.4 693.3 L1234.4 693.2 L1228.4 692.9 L1222.4 692.6 L1216.4 692.3 L1210.4 692.3 L1204.4 692.7 L1198.4 693.0 L1192.4 693.2 L1186.4 693.1 L1180.4 692.8 L1174.4 692.6 L1168.4 692.7 L1162.4 692.8 L1156.4 692.8 L1150.4 692.7 L1144.4 692.5 L1138.4 692.5 L1132.4 692.7 L1126.4 692.9 L1120.4 692.8 L1114.4 692.5 L1108.4 691.9 L1102.4 691.4 L1096.4 691.2 L1090.4 691.2 L1084.4 691.3 L1078.4 691.3 L1072.4 691.3 L1066.4 691.4 Z" fill="#6a625a"/><path d="M1066.4 706.5 L1072.4 706.7 L1078.4 706.8 L1084.4 706.8 L1090.4 706.6 L1096.4 706.4 L1102.4 706.3 L1108.4 706.6 L1114.4 707.1 L1120.4 707.6 L1126.4 707.8 L1132.4 707.9 L1138.4 707.9 L1144.4 707.9 L1150.4 708.0 L1156.4 707.9 L1162.4 707.6 L1168.4 707.1 L1174.4 706.8 L1180.4 706.7 L1186.4 706.8 L1192.4 706.9 L1198.4 706.8 L1204.4 706.5 L1210.4 706.1 L1216.4 705.9 L1222.4 705.8 L1228.4 705.8 L1234.4 705.7 L1240.4 705.5 L1246.4 705.4 L1252.4 705.6 L1258.4 706.1 L1264.4 706.6 L1270.4 706.8 L1276.4 706.7 L1279.0 706.6 L1279.0 711.6 L1276.4 711.7 L1270.4 711.8 L1264.4 711.6 L1258.4 711.1 L1252.4 710.6 L1246.4 710.4 L1240.4 710.5 L1234.4 710.7 L1228.4 710.8 L1222.4 710.8 L1216.4 710.9 L1210.4 711.1 L1204.4 711.5 L1198.4 711.8 L1192.4 711.9 L1186.4 711.8 L1180.4 711.7 L1174.4 711.8 L1168.4 712.1 L1162.4 712.6 L1156.4 712.9 L1150.4 713.0 L1144.4 712.9 L1138.4 712.9 L1132.4 712.9 L1126.4 712.8 L1120.4 712.6 L1114.4 712.1 L1108.4 711.6 L1102.4 711.3 L1096.4 711.4 L1090.4 711.6 L1084.4 711.8 L1078.4 711.8 L1072.4 711.7 L1066.4 711.5 Z" fill="#6a625a"/><path d="M1282.2 687.6 L1288.2 687.7 L1294.2 687.9 L1300.2 688.0 L1306.2 687.9 L1312.2 687.9 L1318.2 688.0 L1324.2 688.1 L1330.2 688.2 L1336.2 688.1 L1342.2 687.9 L1348.2 687.7 L1354.2 687.6 L1360.2 687.8 L1366.2 688.1 L1372.2 688.2 L1378.2 688.1 L1384.2 687.8 L1390.2 687.6 L1396.2 687.4 L1402.2 687.3 L1408.2 687.1 L1414.2 686.7 L1420.2 686.4 L1426.2 686.3 L1432.2 686.4 L1438.2 686.8 L1444.2 687.1 L1450.2 687.2 L1456.2 687.1 L1462.2 687.1 L1468.2 687.2 L1474.2 687.4 L1480.2 687.6 L1486.2 687.6 L1492.2 687.6 L1495.0 687.7 L1495.0 692.6 L1492.2 692.5 L1486.2 692.5 L1480.2 692.4 L1474.2 692.2 L1468.2 692.0 L1462.2 691.9 L1456.2 692.0 L1450.2 692.0 L1444.2 691.9 L1438.2 691.6 L1432.2 691.3 L1426.2 691.1 L1420.2 691.2 L1414.2 691.6 L1408.2 691.9 L1402.2 692.2 L1396.2 692.3 L1390.2 692.5 L1384.2 692.7 L1378.2 692.9 L1372.2 693.0 L1366.2 692.9 L1360.2 692.7 L1354.2 692.5 L1348.2 692.5 L1342.2 692.7 L1336.2 693.0 L1330.2 693.1 L1324.2 693.0 L1318.2 692.8 L1312.2 692.7 L1306.2 692.8 L1300.2 692.8 L1294.2 692.7 L1288.2 692.6 L1282.2 692.5 Z" fill="#6a625a"/><path d="M1282.2 704.6 L1288.2 704.9 L1294.2 705.0 L1300.2 705.1 L1306.2 705.3 L1312.2 705.5 L1318.2 705.8 L1324.2 705.8 L1330.2 705.6 L1336.2 705.4 L1342.2 705.2 L1348.2 705.3 L1354.2 705.6 L1360.2 705.7 L1366.2 705.8 L1372.2 705.7 L1378.2 705.6 L1384.2 705.6 L1390.2 705.7 L1396.2 705.7 L1402.2 705.6 L1408.2 705.4 L1414.2 705.4 L1420.2 705.6 L1426.2 706.1 L1432.2 706.5 L1438.2 706.7 L1444.2 706.8 L1450.2 706.7 L1456.2 706.7 L1462.2 706.7 L1468.2 706.7 L1474.2 706.5 L1480.2 706.2 L1486.2 705.9 L1492.2 705.9 L1495.0 705.6 L1495.0 710.5 L1492.2 710.7 L1486.2 710.8 L1480.2 711.0 L1474.2 711.3 L1468.2 711.5 L1462.2 711.6 L1456.2 711.5 L1450.2 711.5 L1444.2 711.6 L1438.2 711.6 L1432.2 711.3 L1426.2 710.9 L1420.2 710.5 L1414.2 710.2 L1408.2 710.2 L1402.2 710.4 L1396.2 710.5 L1390.2 710.5 L1384.2 710.4 L1378.2 710.4 L1372.2 710.5 L1366.2 710.6 L1360.2 710.6 L1354.2 710.4 L1348.2 710.2 L1342.2 710.1 L1336.2 710.2 L1330.2 710.5 L1324.2 710.7 L1318.2 710.6 L1312.2 710.4 L1306.2 710.1 L1300.2 709.9 L1294.2 709.8 L1288.2 709.7 L1282.2 709.5 Z" fill="#6a625a"/></g>
<g filter="url(#speck)"><path d="M417.0 580.2 L423.0 580.3 L429.0 580.5 L435.0 580.9 L441.0 581.1 L447.0 581.0 L453.0 580.6 L459.0 580.1 L465.0 579.9 L471.0 579.9 L477.0 580.0 L483.0 580.0 L489.0 579.9 L495.0 579.7 L501.0 579.7 L507.0 579.8 L513.0 579.9 L519.0 579.9 L525.0 579.6 L531.0 579.3 L537.0 579.3 L543.0 579.7 L549.0 580.2 L555.0 580.7 L561.0 581.0 L567.0 581.2 L573.0 581.3 L579.0 581.6 L585.0 581.8 L591.0 581.8 L597.0 581.6 L603.0 581.2 L609.0 581.0 L615.0 581.1 L621.0 581.3 L627.0 581.5 L630.3 580.6 L630.3 592.6 L627.0 593.5 L621.0 593.3 L615.0 593.1 L609.0 593.0 L603.0 593.2 L597.0 593.6 L591.0 593.8 L585.0 593.8 L579.0 593.6 L573.0 593.3 L567.0 593.2 L561.0 593.0 L555.0 592.7 L549.0 592.2 L543.0 591.7 L537.0 591.3 L531.0 591.3 L525.0 591.6 L519.0 591.9 L513.0 591.9 L507.0 591.8 L501.0 591.7 L495.0 591.7 L489.0 591.9 L483.0 592.0 L477.0 592.0 L471.0 591.9 L465.0 591.9 L459.0 592.1 L453.0 592.6 L447.0 593.0 L441.0 593.1 L435.0 592.9 L429.0 592.5 L423.0 592.3 L417.0 592.2 Z" fill="#f4ecdc"/><path d="M417.0 623.8 L423.0 623.6 L429.0 623.2 L435.0 622.7 L441.0 622.5 L447.0 622.7 L453.0 623.1 L459.0 623.5 L465.0 623.7 L471.0 623.9 L477.0 624.0 L483.0 624.2 L489.0 624.5 L495.0 624.6 L501.0 624.5 L507.0 624.2 L513.0 624.0 L519.0 624.1 L525.0 624.4 L531.0 624.7 L537.0 624.8 L543.0 624.7 L549.0 624.5 L555.0 624.3 L561.0 624.4 L567.0 624.4 L573.0 624.4 L579.0 624.2 L585.0 624.2 L591.0 624.4 L597.0 624.9 L603.0 625.4 L609.0 625.7 L615.0 625.7 L621.0 625.5 L627.0 625.3 L630.3 624.3 L630.3 638.3 L627.0 639.3 L621.0 639.5 L615.0 639.7 L609.0 639.7 L603.0 639.4 L597.0 638.9 L591.0 638.4 L585.0 638.2 L579.0 638.2 L573.0 638.4 L567.0 638.4 L561.0 638.4 L555.0 638.3 L549.0 638.5 L543.0 638.7 L537.0 638.8 L531.0 638.7 L525.0 638.4 L519.0 638.1 L513.0 638.0 L507.0 638.2 L501.0 638.5 L495.0 638.6 L489.0 638.5 L483.0 638.2 L477.0 638.0 L471.0 637.9 L465.0 637.7 L459.0 637.5 L453.0 637.1 L447.0 636.7 L441.0 636.5 L435.0 636.7 L429.0 637.2 L423.0 637.6 L417.0 637.8 Z" fill="#f4ecdc"/><path d="M633.2 594.4 L639.2 593.9 L645.2 593.1 L651.2 592.8 L657.2 593.2 L663.2 594.3 L669.2 595.6 L675.2 596.4 L681.2 596.7 L687.2 596.8 L693.2 597.0 L699.2 597.4 L705.2 597.4 L711.2 596.9 L717.2 595.9 L723.2 595.0 L729.2 594.6 L735.2 594.9 L741.2 595.3 L747.2 595.2 L753.2 594.5 L759.2 593.5 L765.2 592.6 L771.2 592.2 L777.2 592.0 L783.2 591.7 L789.2 591.2 L795.2 590.8 L801.2 591.0 L807.2 592.0 L813.2 593.2 L819.2 594.1 L825.2 594.1 L831.2 593.6 L837.2 593.0 L843.2 592.8 L847.0 593.9 L847.0 599.1 L843.2 598.0 L837.2 598.2 L831.2 598.8 L825.2 599.3 L819.2 599.3 L813.2 598.4 L807.2 597.2 L801.2 596.2 L795.2 596.0 L789.2 596.4 L783.2 596.9 L777.2 597.2 L771.2 597.4 L765.2 597.8 L759.2 598.7 L753.2 599.7 L747.2 600.4 L741.2 600.5 L735.2 600.1 L729.2 599.8 L723.2 600.2 L717.2 601.1 L711.2 602.1 L705.2 602.6 L699.2 602.6 L693.2 602.2 L687.2 602.0 L681.2 601.9 L675.2 601.6 L669.2 600.8 L663.2 599.5 L657.2 598.4 L651.2 598.0 L645.2 598.3 L639.2 599.1 L633.2 599.6 Z" fill="#f4ecdc"/><path d="M633.2 617.5 L639.2 617.9 L645.2 618.7 L651.2 619.5 L657.2 619.8 L663.2 619.5 L669.2 619.0 L675.2 618.9 L681.2 619.5 L687.2 620.4 L693.2 621.2 L699.2 621.3 L705.2 620.9 L711.2 620.3 L717.2 619.9 L723.2 619.6 L729.2 618.9 L735.2 617.8 L741.2 616.4 L747.2 615.5 L753.2 615.4 L759.2 616.0 L765.2 616.7 L771.2 616.9 L777.2 616.6 L783.2 616.1 L789.2 616.0 L795.2 616.2 L801.2 616.5 L807.2 616.4 L813.2 616.0 L819.2 615.8 L825.2 616.2 L831.2 617.1 L837.2 617.9 L843.2 618.2 L847.0 617.6 L847.0 624.8 L843.2 625.4 L837.2 625.1 L831.2 624.3 L825.2 623.4 L819.2 623.0 L813.2 623.2 L807.2 623.6 L801.2 623.7 L795.2 623.4 L789.2 623.2 L783.2 623.3 L777.2 623.8 L771.2 624.1 L765.2 623.9 L759.2 623.2 L753.2 622.6 L747.2 622.7 L741.2 623.6 L735.2 625.0 L729.2 626.1 L723.2 626.8 L717.2 627.1 L711.2 627.5 L705.2 628.1 L699.2 628.5 L693.2 628.4 L687.2 627.6 L681.2 626.7 L675.2 626.1 L669.2 626.2 L663.2 626.7 L657.2 627.0 L651.2 626.7 L645.2 625.9 L639.2 625.1 L633.2 624.7 Z" fill="#f4ecdc"/><path d="M850.2 596.4 L856.2 596.8 L862.2 597.5 L868.2 598.1 L874.2 598.5 L880.2 598.4 L886.2 598.1 L892.2 597.8 L898.2 597.7 L904.2 597.9 L910.2 598.1 L916.2 598.0 L922.2 597.7 L928.2 597.5 L934.2 597.4 L940.2 597.5 L946.2 597.3 L952.2 596.8 L958.2 596.1 L964.2 595.5 L970.2 595.4 L976.2 595.6 L982.2 596.1 L988.2 596.3 L994.2 596.4 L1000.2 596.4 L1006.2 596.5 L1012.2 596.7 L1018.2 596.8 L1024.2 596.6 L1030.2 596.1 L1036.2 595.7 L1042.2 595.5 L1048.2 595.7 L1054.2 596.0 L1060.2 596.2 L1063.4 596.6 L1063.4 601.0 L1060.2 600.6 L1054.2 600.4 L1048.2 600.1 L1042.2 599.9 L1036.2 600.1 L1030.2 600.5 L1024.2 601.0 L1018.2 601.2 L1012.2 601.1 L1006.2 600.9 L1000.2 600.8 L994.2 600.8 L988.2 600.7 L982.2 600.5 L976.2 600.0 L970.2 599.8 L964.2 599.9 L958.2 600.5 L952.2 601.2 L946.2 601.7 L940.2 601.9 L934.2 601.8 L928.2 601.9 L922.2 602.1 L916.2 602.4 L910.2 602.5 L904.2 602.3 L898.2 602.1 L892.2 602.2 L886.2 602.5 L880.2 602.8 L874.2 602.9 L868.2 602.5 L862.2 601.9 L856.2 601.2 L850.2 600.8 Z" fill="#f4ecdc"/><path d="M850.2 617.2 L856.2 617.3 L862.2 617.5 L868.2 617.5 L874.2 617.0 L880.2 616.1 L886.2 615.4 L892.2 614.9 L898.2 614.9 L904.2 614.9 L910.2 615.0 L916.2 614.8 L922.2 614.8 L928.2 615.0 L934.2 615.3 L940.2 615.6 L946.2 615.7 L952.2 615.4 L958.2 615.2 L964.2 615.2 L970.2 615.7 L976.2 616.3 L982.2 616.8 L988.2 616.9 L994.2 616.9 L1000.2 616.8 L1006.2 616.9 L1012.2 616.9 L1018.2 616.7 L1024.2 616.3 L1030.2 615.8 L1036.2 615.6 L1042.2 615.9 L1048.2 616.4 L1054.2 616.9 L1060.2 617.2 L1063.4 616.4 L1063.4 621.6 L1060.2 622.4 L1054.2 622.1 L1048.2 621.6 L1042.2 621.1 L1036.2 620.8 L1030.2 621.0 L1024.2 621.5 L1018.2 621.9 L1012.2 622.1 L1006.2 622.1 L1000.2 622.0 L994.2 622.1 L988.2 622.1 L982.2 622.0 L976.2 621.5 L970.2 620.9 L964.2 620.4 L958.2 620.4 L952.2 620.6 L946.2 620.9 L940.2 620.8 L934.2 620.5 L928.2 620.2 L922.2 620.0 L916.2 620.0 L910.2 620.2 L904.2 620.1 L898.2 620.1 L892.2 620.1 L886.2 620.6 L880.2 621.3 L874.2 622.2 L868.2 622.7 L862.2 622.7 L856.2 622.5 L850.2 622.4 Z" fill="#f4ecdc"/><path d="M1066.4 596.3 L1072.4 596.6 L1078.4 596.7 L1084.4 596.5 L1090.4 596.1 L1096.4 596.0 L1102.4 596.1 L1108.4 596.3 L1114.4 596.4 L1120.4 596.4 L1126.4 596.3 L1132.4 596.3 L1138.4 596.5 L1144.4 596.7 L1150.4 596.6 L1156.4 596.4 L1162.4 596.1 L1168.4 596.0 L1174.4 596.3 L1180.4 596.7 L1186.4 597.2 L1192.4 597.4 L1198.4 597.5 L1204.4 597.6 L1210.4 597.8 L1216.4 597.9 L1222.4 597.8 L1228.4 597.5 L1234.4 597.1 L1240.4 596.7 L1246.4 596.6 L1252.4 596.8 L1258.4 596.9 L1264.4 596.8 L1270.4 596.4 L1276.4 596.1 L1279.0 596.4 L1279.0 600.4 L1276.4 600.1 L1270.4 600.4 L1264.4 600.8 L1258.4 600.9 L1252.4 600.8 L1246.4 600.6 L1240.4 600.7 L1234.4 601.1 L1228.4 601.5 L1222.4 601.8 L1216.4 601.9 L1210.4 601.8 L1204.4 601.6 L1198.4 601.5 L1192.4 601.4 L1186.4 601.2 L1180.4 600.7 L1174.4 600.3 L1168.4 600.0 L1162.4 600.1 L1156.4 600.4 L1150.4 600.6 L1144.4 600.7 L1138.4 600.5 L1132.4 600.3 L1126.4 600.3 L1120.4 600.4 L1114.4 600.4 L1108.4 600.3 L1102.4 600.1 L1096.4 600.0 L1090.4 600.1 L1084.4 600.5 L1078.4 600.7 L1072.4 600.6 L1066.4 600.3 Z" fill="#f4ecdc"/><path d="M1066.4 614.9 L1072.4 614.6 L1078.4 614.2 L1084.4 613.9 L1090.4 613.9 L1096.4 613.9 L1102.4 613.9 L1108.4 613.7 L1114.4 613.5 L1120.4 613.4 L1126.4 613.4 L1132.4 613.4 L1138.4 613.2 L1144.4 612.8 L1150.4 612.4 L1156.4 612.2 L1162.4 612.4 L1168.4 612.8 L1174.4 613.2 L1180.4 613.5 L1186.4 613.6 L1192.4 613.8 L1198.4 614.1 L1204.4 614.5 L1210.4 614.6 L1216.4 614.4 L1222.4 614.2 L1228.4 614.0 L1234.4 614.1 L1240.4 614.4 L1246.4 614.7 L1252.4 614.8 L1258.4 614.6 L1264.4 614.4 L1270.4 614.3 L1276.4 614.3 L1279.0 614.0 L1279.0 618.0 L1276.4 618.3 L1270.4 618.3 L1264.4 618.4 L1258.4 618.6 L1252.4 618.8 L1246.4 618.7 L1240.4 618.4 L1234.4 618.1 L1228.4 618.0 L1222.4 618.2 L1216.4 618.4 L1210.4 618.6 L1204.4 618.5 L1198.4 618.1 L1192.4 617.8 L1186.4 617.6 L1180.4 617.5 L1174.4 617.2 L1168.4 616.8 L1162.4 616.4 L1156.4 616.2 L1150.4 616.4 L1144.4 616.8 L1138.4 617.2 L1132.4 617.4 L1126.4 617.4 L1120.4 617.4 L1114.4 617.5 L1108.4 617.7 L1102.4 617.9 L1096.4 617.9 L1090.4 617.9 L1084.4 617.9 L1078.4 618.2 L1072.4 618.6 L1066.4 618.9 Z" fill="#f4ecdc"/><path d="M1282.2 595.7 L1288.2 595.7 L1294.2 596.0 L1300.2 596.3 L1306.2 596.4 L1312.2 596.3 L1318.2 596.1 L1324.2 595.9 L1330.2 595.9 L1336.2 596.0 L1342.2 596.0 L1348.2 596.0 L1354.2 596.0 L1360.2 596.1 L1366.2 596.5 L1372.2 597.0 L1378.2 597.3 L1384.2 597.4 L1390.2 597.2 L1396.2 597.0 L1402.2 596.9 L1408.2 596.9 L1414.2 596.9 L1420.2 596.8 L1426.2 596.5 L1432.2 596.4 L1438.2 596.4 L1444.2 596.4 L1450.2 596.4 L1456.2 596.2 L1462.2 595.8 L1468.2 595.3 L1474.2 595.1 L1480.2 595.2 L1486.2 595.3 L1492.2 595.4 L1495.0 596.1 L1495.0 599.9 L1492.2 599.2 L1486.2 599.1 L1480.2 599.0 L1474.2 598.9 L1468.2 599.1 L1462.2 599.6 L1456.2 600.0 L1450.2 600.2 L1444.2 600.2 L1438.2 600.2 L1432.2 600.2 L1426.2 600.3 L1420.2 600.6 L1414.2 600.7 L1408.2 600.7 L1402.2 600.7 L1396.2 600.8 L1390.2 601.0 L1384.2 601.2 L1378.2 601.1 L1372.2 600.8 L1366.2 600.3 L1360.2 599.9 L1354.2 599.8 L1348.2 599.8 L1342.2 599.8 L1336.2 599.8 L1330.2 599.7 L1324.2 599.7 L1318.2 599.9 L1312.2 600.1 L1306.2 600.2 L1300.2 600.1 L1294.2 599.8 L1288.2 599.5 L1282.2 599.5 Z" fill="#f4ecdc"/><path d="M1282.2 613.2 L1288.2 612.9 L1294.2 612.7 L1300.2 612.5 L1306.2 612.5 L1312.2 612.3 L1318.2 612.1 L1324.2 611.8 L1330.2 611.8 L1336.2 612.0 L1342.2 612.4 L1348.2 612.7 L1354.2 612.8 L1360.2 612.7 L1366.2 612.5 L1372.2 612.4 L1378.2 612.4 L1384.2 612.4 L1390.2 612.2 L1396.2 612.0 L1402.2 611.8 L1408.2 611.9 L1414.2 612.1 L1420.2 612.3 L1426.2 612.3 L1432.2 612.0 L1438.2 611.8 L1444.2 611.6 L1450.2 611.7 L1456.2 611.9 L1462.2 612.1 L1468.2 612.3 L1474.2 612.4 L1480.2 612.7 L1486.2 613.2 L1492.2 613.6 L1495.0 612.6 L1495.0 616.4 L1492.2 617.4 L1486.2 617.0 L1480.2 616.5 L1474.2 616.2 L1468.2 616.1 L1462.2 615.9 L1456.2 615.7 L1450.2 615.5 L1444.2 615.4 L1438.2 615.6 L1432.2 615.8 L1426.2 616.1 L1420.2 616.1 L1414.2 615.9 L1408.2 615.7 L1402.2 615.6 L1396.2 615.8 L1390.2 616.0 L1384.2 616.2 L1378.2 616.2 L1372.2 616.2 L1366.2 616.3 L1360.2 616.5 L1354.2 616.6 L1348.2 616.5 L1342.2 616.2 L1336.2 615.8 L1330.2 615.6 L1324.2 615.6 L1318.2 615.9 L1312.2 616.1 L1306.2 616.3 L1300.2 616.3 L1294.2 616.5 L1288.2 616.7 L1282.2 617.0 Z" fill="#f4ecdc"/><path d="M417.0 674.5 L423.0 674.8 L429.0 675.2 L435.0 675.4 L441.0 675.3 L447.0 675.0 L453.0 674.9 L459.0 675.2 L465.0 675.8 L471.0 676.4 L477.0 676.8 L483.0 677.0 L489.0 677.1 L495.0 677.3 L501.0 677.6 L507.0 677.6 L513.0 677.3 L519.0 676.7 L525.0 676.2 L531.0 676.0 L537.0 676.2 L543.0 676.5 L549.0 676.6 L555.0 676.5 L561.0 676.3 L567.0 676.2 L573.0 676.2 L579.0 676.3 L585.0 676.2 L591.0 675.9 L597.0 675.7 L603.0 675.8 L609.0 676.1 L615.0 676.7 L621.0 676.9 L627.0 676.8 L630.3 675.9 L630.3 686.9 L627.0 687.8 L621.0 687.9 L615.0 687.7 L609.0 687.1 L603.0 686.8 L597.0 686.7 L591.0 686.9 L585.0 687.2 L579.0 687.3 L573.0 687.2 L567.0 687.2 L561.0 687.3 L555.0 687.5 L549.0 687.6 L543.0 687.5 L537.0 687.2 L531.0 687.0 L525.0 687.2 L519.0 687.7 L513.0 688.3 L507.0 688.6 L501.0 688.6 L495.0 688.3 L489.0 688.1 L483.0 688.0 L477.0 687.8 L471.0 687.4 L465.0 686.8 L459.0 686.2 L453.0 685.9 L447.0 686.0 L441.0 686.3 L435.0 686.4 L429.0 686.2 L423.0 685.8 L417.0 685.5 Z" fill="#f4ecdc"/><path d="M417.0 713.1 L423.0 713.2 L429.0 713.7 L435.0 714.2 L441.0 714.4 L447.0 714.4 L453.0 714.2 L459.0 714.1 L465.0 714.4 L471.0 714.9 L477.0 715.4 L483.0 715.7 L489.0 715.9 L495.0 716.0 L501.0 716.2 L507.0 716.4 L513.0 716.3 L519.0 715.9 L525.0 715.3 L531.0 714.7 L537.0 714.5 L543.0 714.6 L549.0 714.8 L555.0 714.9 L561.0 714.8 L567.0 714.6 L573.0 714.6 L579.0 714.7 L585.0 714.8 L591.0 714.7 L597.0 714.4 L603.0 714.1 L609.0 714.1 L615.0 714.5 L621.0 714.9 L627.0 715.2 L630.3 714.5 L630.3 725.5 L627.0 726.2 L621.0 725.9 L615.0 725.5 L609.0 725.1 L603.0 725.1 L597.0 725.4 L591.0 725.7 L585.0 725.8 L579.0 725.7 L573.0 725.6 L567.0 725.6 L561.0 725.8 L555.0 725.9 L549.0 725.8 L543.0 725.6 L537.0 725.5 L531.0 725.7 L525.0 726.3 L519.0 726.9 L513.0 727.3 L507.0 727.4 L501.0 727.2 L495.0 727.0 L489.0 726.9 L483.0 726.7 L477.0 726.4 L471.0 725.9 L465.0 725.4 L459.0 725.1 L453.0 725.2 L447.0 725.4 L441.0 725.4 L435.0 725.2 L429.0 724.7 L423.0 724.2 L417.0 724.1 Z" fill="#f4ecdc"/><path d="M633.2 686.5 L639.2 686.2 L645.2 685.6 L651.2 685.0 L657.2 684.7 L663.2 684.4 L669.2 684.1 L675.2 683.5 L681.2 683.0 L687.2 682.9 L693.2 683.4 L699.2 684.4 L705.2 685.3 L711.2 685.7 L717.2 685.7 L723.2 685.7 L729.2 685.9 L735.2 686.2 L741.2 686.5 L747.2 686.5 L753.2 686.3 L759.2 686.3 L765.2 686.7 L771.2 687.3 L777.2 687.8 L783.2 687.7 L789.2 687.2 L795.2 686.4 L801.2 686.0 L807.2 686.0 L813.2 686.2 L819.2 686.3 L825.2 686.3 L831.2 686.4 L837.2 686.8 L843.2 687.6 L847.0 686.1 L847.0 692.9 L843.2 694.4 L837.2 693.6 L831.2 693.2 L825.2 693.1 L819.2 693.1 L813.2 693.0 L807.2 692.8 L801.2 692.8 L795.2 693.2 L789.2 694.0 L783.2 694.5 L777.2 694.6 L771.2 694.1 L765.2 693.5 L759.2 693.1 L753.2 693.1 L747.2 693.3 L741.2 693.3 L735.2 693.0 L729.2 692.7 L723.2 692.5 L717.2 692.5 L711.2 692.5 L705.2 692.1 L699.2 691.2 L693.2 690.2 L687.2 689.7 L681.2 689.8 L675.2 690.3 L669.2 690.9 L663.2 691.2 L657.2 691.5 L651.2 691.8 L645.2 692.4 L639.2 693.0 L633.2 693.3 Z" fill="#f4ecdc"/><path d="M633.2 710.5 L639.2 710.2 L645.2 710.0 L651.2 710.2 L657.2 710.7 L663.2 711.4 L669.2 711.8 L675.2 711.9 L681.2 711.9 L687.2 712.2 L693.2 712.5 L699.2 712.6 L705.2 712.2 L711.2 711.2 L717.2 710.2 L723.2 709.5 L729.2 709.4 L735.2 709.7 L741.2 709.8 L747.2 709.7 L753.2 709.5 L759.2 709.5 L765.2 709.8 L771.2 710.1 L777.2 710.0 L783.2 709.5 L789.2 709.0 L795.2 708.7 L801.2 709.0 L807.2 709.6 L813.2 710.1 L819.2 710.1 L825.2 709.7 L831.2 709.3 L837.2 709.0 L843.2 708.9 L847.0 709.8 L847.0 716.2 L843.2 715.3 L837.2 715.4 L831.2 715.7 L825.2 716.1 L819.2 716.5 L813.2 716.5 L807.2 716.0 L801.2 715.4 L795.2 715.1 L789.2 715.4 L783.2 715.9 L777.2 716.4 L771.2 716.5 L765.2 716.2 L759.2 715.9 L753.2 715.9 L747.2 716.1 L741.2 716.2 L735.2 716.1 L729.2 715.8 L723.2 715.9 L717.2 716.6 L711.2 717.6 L705.2 718.6 L699.2 719.0 L693.2 718.9 L687.2 718.6 L681.2 718.3 L675.2 718.3 L669.2 718.2 L663.2 717.8 L657.2 717.1 L651.2 716.6 L645.2 716.4 L639.2 716.6 L633.2 716.9 Z" fill="#f4ecdc"/><path d="M850.2 689.4 L856.2 689.9 L862.2 690.1 L868.2 690.0 L874.2 689.7 L880.2 689.4 L886.2 689.4 L892.2 689.7 L898.2 690.0 L904.2 690.1 L910.2 689.8 L916.2 689.4 L922.2 689.1 L928.2 688.9 L934.2 688.7 L940.2 688.4 L946.2 688.0 L952.2 687.6 L958.2 687.6 L964.2 688.0 L970.2 688.5 L976.2 688.9 L982.2 688.9 L988.2 688.7 L994.2 688.5 L1000.2 688.4 L1006.2 688.4 L1012.2 688.3 L1018.2 688.1 L1024.2 687.7 L1030.2 687.6 L1036.2 687.7 L1042.2 688.0 L1048.2 688.1 L1054.2 687.9 L1060.2 687.4 L1063.4 688.5 L1063.4 693.1 L1060.2 692.0 L1054.2 692.5 L1048.2 692.7 L1042.2 692.6 L1036.2 692.3 L1030.2 692.2 L1024.2 692.3 L1018.2 692.7 L1012.2 692.9 L1006.2 693.0 L1000.2 693.0 L994.2 693.1 L988.2 693.3 L982.2 693.5 L976.2 693.5 L970.2 693.1 L964.2 692.6 L958.2 692.2 L952.2 692.2 L946.2 692.6 L940.2 693.0 L934.2 693.3 L928.2 693.5 L922.2 693.7 L916.2 694.0 L910.2 694.4 L904.2 694.7 L898.2 694.6 L892.2 694.3 L886.2 694.0 L880.2 694.0 L874.2 694.3 L868.2 694.6 L862.2 694.7 L856.2 694.5 L850.2 694.0 Z" fill="#f4ecdc"/><path d="M850.2 707.6 L856.2 707.0 L862.2 706.7 L868.2 706.9 L874.2 707.2 L880.2 707.5 L886.2 707.5 L892.2 707.6 L898.2 707.7 L904.2 707.9 L910.2 708.1 L916.2 708.0 L922.2 707.6 L928.2 707.1 L934.2 706.8 L940.2 706.8 L946.2 707.0 L952.2 707.1 L958.2 707.0 L964.2 706.6 L970.2 706.3 L976.2 706.1 L982.2 706.0 L988.2 705.8 L994.2 705.5 L1000.2 705.2 L1006.2 705.1 L1012.2 705.4 L1018.2 706.1 L1024.2 706.8 L1030.2 707.2 L1036.2 707.3 L1042.2 707.2 L1048.2 707.4 L1054.2 707.6 L1060.2 707.8 L1063.4 707.2 L1063.4 712.4 L1060.2 713.0 L1054.2 712.8 L1048.2 712.6 L1042.2 712.4 L1036.2 712.5 L1030.2 712.4 L1024.2 712.0 L1018.2 711.3 L1012.2 710.6 L1006.2 710.3 L1000.2 710.4 L994.2 710.7 L988.2 711.0 L982.2 711.2 L976.2 711.3 L970.2 711.5 L964.2 711.8 L958.2 712.2 L952.2 712.3 L946.2 712.2 L940.2 712.0 L934.2 712.0 L928.2 712.3 L922.2 712.8 L916.2 713.2 L910.2 713.3 L904.2 713.1 L898.2 712.9 L892.2 712.8 L886.2 712.7 L880.2 712.7 L874.2 712.4 L868.2 712.1 L862.2 711.9 L856.2 712.2 L850.2 712.8 Z" fill="#f4ecdc"/><path d="M1066.4 688.4 L1072.4 688.3 L1078.4 688.3 L1084.4 688.3 L1090.4 688.2 L1096.4 688.2 L1102.4 688.4 L1108.4 688.9 L1114.4 689.5 L1120.4 689.8 L1126.4 689.9 L1132.4 689.7 L1138.4 689.5 L1144.4 689.5 L1150.4 689.7 L1156.4 689.8 L1162.4 689.8 L1168.4 689.7 L1174.4 689.6 L1180.4 689.8 L1186.4 690.1 L1192.4 690.2 L1198.4 690.0 L1204.4 689.7 L1210.4 689.3 L1216.4 689.3 L1222.4 689.6 L1228.4 689.9 L1234.4 690.2 L1240.4 690.3 L1246.4 690.4 L1252.4 690.7 L1258.4 691.0 L1264.4 691.1 L1270.4 691.0 L1276.4 690.6 L1279.0 689.6 L1279.0 693.6 L1276.4 694.6 L1270.4 695.0 L1264.4 695.1 L1258.4 695.0 L1252.4 694.7 L1246.4 694.4 L1240.4 694.3 L1234.4 694.2 L1228.4 693.9 L1222.4 693.6 L1216.4 693.3 L1210.4 693.3 L1204.4 693.7 L1198.4 694.0 L1192.4 694.2 L1186.4 694.1 L1180.4 693.8 L1174.4 693.6 L1168.4 693.7 L1162.4 693.8 L1156.4 693.8 L1150.4 693.7 L1144.4 693.5 L1138.4 693.5 L1132.4 693.7 L1126.4 693.9 L1120.4 693.8 L1114.4 693.5 L1108.4 692.9 L1102.4 692.4 L1096.4 692.2 L1090.4 692.2 L1084.4 692.3 L1078.4 692.3 L1072.4 692.3 L1066.4 692.4 Z" fill="#f4ecdc"/><path d="M1066.4 705.5 L1072.4 705.7 L1078.4 705.8 L1084.4 705.8 L1090.4 705.6 L1096.4 705.4 L1102.4 705.3 L1108.4 705.6 L1114.4 706.1 L1120.4 706.6 L1126.4 706.8 L1132.4 706.9 L1138.4 706.9 L1144.4 706.9 L1150.4 707.0 L1156.4 706.9 L1162.4 706.6 L1168.4 706.1 L1174.4 705.8 L1180.4 705.7 L1186.4 705.8 L1192.4 705.9 L1198.4 705.8 L1204.4 705.5 L1210.4 705.1 L1216.4 704.9 L1222.4 704.8 L1228.4 704.8 L1234.4 704.7 L1240.4 704.5 L1246.4 704.4 L1252.4 704.6 L1258.4 705.1 L1264.4 705.6 L1270.4 705.8 L1276.4 705.7 L1279.0 705.6 L1279.0 709.6 L1276.4 709.7 L1270.4 709.8 L1264.4 709.6 L1258.4 709.1 L1252.4 708.6 L1246.4 708.4 L1240.4 708.5 L1234.4 708.7 L1228.4 708.8 L1222.4 708.8 L1216.4 708.9 L1210.4 709.1 L1204.4 709.5 L1198.4 709.8 L1192.4 709.9 L1186.4 709.8 L1180.4 709.7 L1174.4 709.8 L1168.4 710.1 L1162.4 710.6 L1156.4 710.9 L1150.4 711.0 L1144.4 710.9 L1138.4 710.9 L1132.4 710.9 L1126.4 710.8 L1120.4 710.6 L1114.4 710.1 L1108.4 709.6 L1102.4 709.3 L1096.4 709.4 L1090.4 709.6 L1084.4 709.8 L1078.4 709.8 L1072.4 709.7 L1066.4 709.5 Z" fill="#f4ecdc"/><path d="M1282.2 689.6 L1288.2 689.7 L1294.2 689.9 L1300.2 690.0 L1306.2 689.9 L1312.2 689.9 L1318.2 690.0 L1324.2 690.1 L1330.2 690.2 L1336.2 690.1 L1342.2 689.9 L1348.2 689.7 L1354.2 689.6 L1360.2 689.8 L1366.2 690.1 L1372.2 690.2 L1378.2 690.1 L1384.2 689.8 L1390.2 689.6 L1396.2 689.4 L1402.2 689.3 L1408.2 689.1 L1414.2 688.7 L1420.2 688.4 L1426.2 688.3 L1432.2 688.4 L1438.2 688.8 L1444.2 689.1 L1450.2 689.2 L1456.2 689.1 L1462.2 689.1 L1468.2 689.2 L1474.2 689.4 L1480.2 689.6 L1486.2 689.6 L1492.2 689.6 L1495.0 689.7 L1495.0 693.5 L1492.2 693.4 L1486.2 693.4 L1480.2 693.4 L1474.2 693.2 L1468.2 693.0 L1462.2 692.9 L1456.2 692.9 L1450.2 693.0 L1444.2 692.9 L1438.2 692.6 L1432.2 692.2 L1426.2 692.1 L1420.2 692.2 L1414.2 692.5 L1408.2 692.9 L1402.2 693.1 L1396.2 693.2 L1390.2 693.4 L1384.2 693.6 L1378.2 693.9 L1372.2 694.0 L1366.2 693.9 L1360.2 693.6 L1354.2 693.4 L1348.2 693.5 L1342.2 693.7 L1336.2 693.9 L1330.2 694.0 L1324.2 693.9 L1318.2 693.8 L1312.2 693.7 L1306.2 693.7 L1300.2 693.8 L1294.2 693.7 L1288.2 693.5 L1282.2 693.4 Z" fill="#f4ecdc"/><path d="M1282.2 703.7 L1288.2 703.9 L1294.2 704.0 L1300.2 704.1 L1306.2 704.3 L1312.2 704.6 L1318.2 704.8 L1324.2 704.9 L1330.2 704.7 L1336.2 704.4 L1342.2 704.3 L1348.2 704.4 L1354.2 704.6 L1360.2 704.8 L1366.2 704.8 L1372.2 704.7 L1378.2 704.6 L1384.2 704.6 L1390.2 704.7 L1396.2 704.7 L1402.2 704.6 L1408.2 704.4 L1414.2 704.4 L1420.2 704.7 L1426.2 705.1 L1432.2 705.5 L1438.2 705.8 L1444.2 705.8 L1450.2 705.7 L1456.2 705.7 L1462.2 705.8 L1468.2 705.7 L1474.2 705.5 L1480.2 705.2 L1486.2 705.0 L1492.2 704.9 L1495.0 704.7 L1495.0 708.5 L1492.2 708.7 L1486.2 708.8 L1480.2 709.0 L1474.2 709.3 L1468.2 709.5 L1462.2 709.6 L1456.2 709.5 L1450.2 709.5 L1444.2 709.6 L1438.2 709.6 L1432.2 709.3 L1426.2 708.9 L1420.2 708.5 L1414.2 708.2 L1408.2 708.2 L1402.2 708.4 L1396.2 708.5 L1390.2 708.5 L1384.2 708.4 L1378.2 708.4 L1372.2 708.5 L1366.2 708.6 L1360.2 708.6 L1354.2 708.4 L1348.2 708.2 L1342.2 708.1 L1336.2 708.2 L1330.2 708.5 L1324.2 708.7 L1318.2 708.6 L1312.2 708.4 L1306.2 708.1 L1300.2 707.9 L1294.2 707.8 L1288.2 707.7 L1282.2 707.5 Z" fill="#f4ecdc"/></g>
</g>
<g clip-path="url(#clipBig)"><rect x="0.0" y="500.0" width="350.0" height="169.3" fill="#2d2d2f"/>
<rect x="0.0" y="692.0" width="350.0" height="168.0" fill="#2b2b2d"/>
<g clip-path="url(#clipZ)"><g filter="url(#grainZ)"><path d="M0.0 530.8 L8.0 531.6 L16.0 532.3 L24.0 532.6 L32.0 532.4 L40.0 531.7 L48.0 530.8 L56.0 529.9 L64.0 529.1 L72.0 528.6 L80.0 528.3 L88.0 528.0 L96.0 527.7 L104.0 527.2 L112.0 526.6 L120.0 526.1 L128.0 525.8 L136.0 526.0 L144.0 526.7 L152.0 527.6 L160.0 528.6 L168.0 529.3 L176.0 529.7 L184.0 529.6 L192.0 529.3 L200.0 528.9 L208.0 528.8 L216.0 529.1 L224.0 529.7 L232.0 530.4 L240.0 531.2 L248.0 531.8 L256.0 532.2 L264.0 532.4 L272.0 532.6 L280.0 533.0 L288.0 533.6 L296.0 534.4 L304.0 535.1 L312.0 535.5 L320.0 535.5 L328.0 534.9 L336.0 534.0 L344.0 532.9 L350.0 531.0 L350.0 631.5 L344.0 636.0 L336.0 636.1 L328.0 635.9 L320.0 635.3 L312.0 634.6 L304.0 634.1 L296.0 633.7 L288.0 633.4 L280.0 633.1 L272.0 632.7 L264.0 632.1 L256.0 631.2 L248.0 630.3 L240.0 629.7 L232.0 629.5 L224.0 629.8 L216.0 630.5 L208.0 631.4 L200.0 632.3 L192.0 632.8 L184.0 632.9 L176.0 632.7 L168.0 632.2 L160.0 631.8 L152.0 631.6 L144.0 631.6 L136.0 631.7 L128.0 631.8 L120.0 631.6 L112.0 631.2 L104.0 630.6 L96.0 630.1 L88.0 629.7 L80.0 629.7 L72.0 630.1 L64.0 630.6 L56.0 631.0 L48.0 631.1 L40.0 630.8 L32.0 630.0 L24.0 628.9 L16.0 627.9 L8.0 627.1 L0.0 626.7 Z" fill="#424242"/><path d="M0.0 735.9 L8.0 735.4 L16.0 734.6 L24.0 733.7 L32.0 733.0 L40.0 732.8 L48.0 733.1 L56.0 733.9 L64.0 735.1 L72.0 736.2 L80.0 737.1 L88.0 737.8 L96.0 738.2 L104.0 738.5 L112.0 738.8 L120.0 739.3 L128.0 739.9 L136.0 740.5 L144.0 740.9 L152.0 741.0 L160.0 740.7 L168.0 740.1 L176.0 739.6 L184.0 739.3 L192.0 739.4 L200.0 739.9 L208.0 740.6 L216.0 741.3 L224.0 741.8 L232.0 741.8 L240.0 741.5 L248.0 740.9 L256.0 740.2 L264.0 739.7 L272.0 739.5 L280.0 739.4 L288.0 739.4 L296.0 739.3 L304.0 739.0 L312.0 738.6 L320.0 738.2 L328.0 738.0 L336.0 738.3 L344.0 739.0 L350.0 738.5 L350.0 824.5 L344.0 830.0 L336.0 829.7 L328.0 829.1 L320.0 828.3 L312.0 827.7 L304.0 827.3 L296.0 827.2 L288.0 827.2 L280.0 827.2 L272.0 827.0 L264.0 826.6 L256.0 826.1 L248.0 825.6 L240.0 825.4 L232.0 825.4 L224.0 825.8 L216.0 826.1 L208.0 826.3 L200.0 826.1 L192.0 825.5 L184.0 824.6 L176.0 823.6 L168.0 822.8 L160.0 822.5 L152.0 822.6 L144.0 823.1 L136.0 823.7 L128.0 824.3 L120.0 824.7 L112.0 824.8 L104.0 824.8 L96.0 824.8 L88.0 825.0 L80.0 825.4 L72.0 825.7 L64.0 825.9 L56.0 825.8 L48.0 825.2 L40.0 824.2 L32.0 823.0 L24.0 821.9 L16.0 821.1 L8.0 820.9 L0.0 821.0 Z" fill="#424242"/></g>
<g filter="url(#bl4)" opacity="0.55"><path d="M0.0 516.8 L8.0 517.6 L16.0 518.3 L24.0 518.6 L32.0 518.4 L40.0 517.7 L48.0 516.8 L56.0 515.9 L64.0 515.1 L72.0 514.6 L80.0 514.3 L88.0 514.0 L96.0 513.7 L104.0 513.2 L112.0 512.6 L120.0 512.1 L128.0 511.8 L136.0 512.0 L144.0 512.7 L152.0 513.6 L160.0 514.6 L168.0 515.3 L176.0 515.7 L184.0 515.6 L192.0 515.3 L200.0 514.9 L208.0 514.8 L216.0 515.1 L224.0 515.7 L232.0 516.4 L240.0 517.2 L248.0 517.8 L256.0 518.2 L264.0 518.4 L272.0 518.6 L280.0 519.0 L288.0 519.6 L296.0 520.4 L304.0 521.1 L312.0 521.5 L320.0 521.5 L328.0 520.9 L336.0 520.0 L344.0 518.9 L350.0 517.0 L350.0 535.5 L344.0 537.4 L336.0 538.5 L328.0 539.4 L320.0 540.0 L312.0 540.0 L304.0 539.6 L296.0 538.9 L288.0 538.1 L280.0 537.5 L272.0 537.1 L264.0 536.9 L256.0 536.7 L248.0 536.3 L240.0 535.7 L232.0 534.9 L224.0 534.2 L216.0 533.6 L208.0 533.3 L200.0 533.4 L192.0 533.8 L184.0 534.1 L176.0 534.2 L168.0 533.8 L160.0 533.1 L152.0 532.1 L144.0 531.2 L136.0 530.5 L128.0 530.3 L120.0 530.6 L112.0 531.1 L104.0 531.7 L96.0 532.2 L88.0 532.5 L80.0 532.8 L72.0 533.1 L64.0 533.6 L56.0 534.4 L48.0 535.3 L40.0 536.2 L32.0 536.9 L24.0 537.1 L16.0 536.8 L8.0 536.1 L0.0 535.3 Z" fill="#6a625a"/><path d="M0.0 619.0 L8.0 619.4 L16.0 620.1 L24.0 621.2 L32.0 622.2 L40.0 623.0 L48.0 623.4 L56.0 623.3 L64.0 622.9 L72.0 622.3 L80.0 622.0 L88.0 622.0 L96.0 622.3 L104.0 622.9 L112.0 623.4 L120.0 623.8 L128.0 624.0 L136.0 624.0 L144.0 623.8 L152.0 623.8 L160.0 624.1 L168.0 624.5 L176.0 624.9 L184.0 625.2 L192.0 625.0 L200.0 624.5 L208.0 623.7 L216.0 622.7 L224.0 622.0 L232.0 621.7 L240.0 621.9 L248.0 622.6 L256.0 623.5 L264.0 624.3 L272.0 625.0 L280.0 625.4 L288.0 625.7 L296.0 625.9 L304.0 626.3 L312.0 626.9 L320.0 627.5 L328.0 628.1 L336.0 628.4 L344.0 628.3 L350.0 623.8 L350.0 652.0 L344.0 656.5 L336.0 656.6 L328.0 656.4 L320.0 655.8 L312.0 655.1 L304.0 654.6 L296.0 654.2 L288.0 653.9 L280.0 653.6 L272.0 653.2 L264.0 652.6 L256.0 651.7 L248.0 650.8 L240.0 650.2 L232.0 650.0 L224.0 650.3 L216.0 651.0 L208.0 651.9 L200.0 652.8 L192.0 653.3 L184.0 653.4 L176.0 653.2 L168.0 652.7 L160.0 652.3 L152.0 652.1 L144.0 652.1 L136.0 652.2 L128.0 652.3 L120.0 652.1 L112.0 651.7 L104.0 651.1 L96.0 650.6 L88.0 650.2 L80.0 650.2 L72.0 650.6 L64.0 651.1 L56.0 651.5 L48.0 651.6 L40.0 651.3 L32.0 650.5 L24.0 649.4 L16.0 648.4 L8.0 647.6 L0.0 647.2 Z" fill="#6a625a"/><path d="M0.0 718.4 L8.0 717.9 L16.0 717.1 L24.0 716.2 L32.0 715.5 L40.0 715.3 L48.0 715.6 L56.0 716.4 L64.0 717.6 L72.0 718.7 L80.0 719.6 L88.0 720.3 L96.0 720.7 L104.0 721.0 L112.0 721.3 L120.0 721.8 L128.0 722.4 L136.0 723.0 L144.0 723.4 L152.0 723.5 L160.0 723.2 L168.0 722.6 L176.0 722.1 L184.0 721.8 L192.0 721.9 L200.0 722.4 L208.0 723.1 L216.0 723.8 L224.0 724.3 L232.0 724.3 L240.0 724.0 L248.0 723.4 L256.0 722.7 L264.0 722.2 L272.0 722.0 L280.0 721.9 L288.0 721.9 L296.0 721.8 L304.0 721.5 L312.0 721.1 L320.0 720.7 L328.0 720.5 L336.0 720.8 L344.0 721.5 L350.0 721.0 L350.0 744.8 L344.0 745.2 L336.0 744.5 L328.0 744.3 L320.0 744.4 L312.0 744.8 L304.0 745.3 L296.0 745.6 L288.0 745.7 L280.0 745.7 L272.0 745.7 L264.0 746.0 L256.0 746.5 L248.0 747.1 L240.0 747.7 L232.0 748.1 L224.0 748.1 L216.0 747.6 L208.0 746.9 L200.0 746.1 L192.0 745.6 L184.0 745.5 L176.0 745.8 L168.0 746.4 L160.0 746.9 L152.0 747.2 L144.0 747.2 L136.0 746.8 L128.0 746.2 L120.0 745.6 L112.0 745.1 L104.0 744.7 L96.0 744.4 L88.0 744.0 L80.0 743.4 L72.0 742.4 L64.0 741.3 L56.0 740.2 L48.0 739.4 L40.0 739.0 L32.0 739.3 L24.0 740.0 L16.0 740.8 L8.0 741.7 L0.0 742.2 Z" fill="#6a625a"/><path d="M0.0 816.2 L8.0 816.1 L16.0 816.4 L24.0 817.1 L32.0 818.2 L40.0 819.4 L48.0 820.4 L56.0 821.0 L64.0 821.2 L72.0 821.0 L80.0 820.6 L88.0 820.3 L96.0 820.1 L104.0 820.0 L112.0 820.0 L120.0 819.9 L128.0 819.6 L136.0 819.0 L144.0 818.4 L152.0 817.9 L160.0 817.7 L168.0 818.1 L176.0 818.8 L184.0 819.8 L192.0 820.7 L200.0 821.3 L208.0 821.5 L216.0 821.4 L224.0 821.0 L232.0 820.7 L240.0 820.6 L248.0 820.9 L256.0 821.3 L264.0 821.9 L272.0 822.3 L280.0 822.5 L288.0 822.5 L296.0 822.5 L304.0 822.6 L312.0 823.0 L320.0 823.6 L328.0 824.4 L336.0 825.0 L344.0 825.2 L350.0 819.8 L350.0 839.0 L344.0 844.5 L336.0 844.2 L328.0 843.6 L320.0 842.8 L312.0 842.2 L304.0 841.8 L296.0 841.7 L288.0 841.7 L280.0 841.7 L272.0 841.5 L264.0 841.1 L256.0 840.6 L248.0 840.1 L240.0 839.9 L232.0 839.9 L224.0 840.3 L216.0 840.6 L208.0 840.8 L200.0 840.6 L192.0 840.0 L184.0 839.1 L176.0 838.1 L168.0 837.3 L160.0 837.0 L152.0 837.1 L144.0 837.6 L136.0 838.2 L128.0 838.8 L120.0 839.2 L112.0 839.3 L104.0 839.3 L96.0 839.3 L88.0 839.5 L80.0 839.9 L72.0 840.2 L64.0 840.4 L56.0 840.3 L48.0 839.7 L40.0 838.7 L32.0 837.5 L24.0 836.4 L16.0 835.6 L8.0 835.4 L0.0 835.5 Z" fill="#6a625a"/></g>
<g filter="url(#speckZ)"><path d="M0.0 521.8 L8.0 522.6 L16.0 523.3 L24.0 523.6 L32.0 523.4 L40.0 522.7 L48.0 521.8 L56.0 520.9 L64.0 520.1 L72.0 519.6 L80.0 519.3 L88.0 519.0 L96.0 518.7 L104.0 518.2 L112.0 517.6 L120.0 517.1 L128.0 516.8 L136.0 517.0 L144.0 517.7 L152.0 518.6 L160.0 519.6 L168.0 520.3 L176.0 520.7 L184.0 520.6 L192.0 520.3 L200.0 519.9 L208.0 519.8 L216.0 520.1 L224.0 520.7 L232.0 521.4 L240.0 522.2 L248.0 522.8 L256.0 523.2 L264.0 523.4 L272.0 523.6 L280.0 524.0 L288.0 524.6 L296.0 525.4 L304.0 526.1 L312.0 526.5 L320.0 526.5 L328.0 525.9 L336.0 525.0 L344.0 523.9 L350.0 522.0 L350.0 540.0 L344.0 541.9 L336.0 543.0 L328.0 543.9 L320.0 544.5 L312.0 544.5 L304.0 544.1 L296.0 543.4 L288.0 542.6 L280.0 542.0 L272.0 541.6 L264.0 541.4 L256.0 541.2 L248.0 540.8 L240.0 540.2 L232.0 539.4 L224.0 538.7 L216.0 538.1 L208.0 537.8 L200.0 537.9 L192.0 538.3 L184.0 538.6 L176.0 538.7 L168.0 538.3 L160.0 537.6 L152.0 536.6 L144.0 535.7 L136.0 535.0 L128.0 534.8 L120.0 535.1 L112.0 535.6 L104.0 536.2 L96.0 536.7 L88.0 537.0 L80.0 537.3 L72.0 537.6 L64.0 538.1 L56.0 538.9 L48.0 539.8 L40.0 540.7 L32.0 541.4 L24.0 541.6 L16.0 541.3 L8.0 540.6 L0.0 539.8 Z" fill="#f4ecdc"/><path d="M0.0 611.2 L8.0 611.6 L16.0 612.4 L24.0 613.4 L32.0 614.5 L40.0 615.3 L48.0 615.6 L56.0 615.5 L64.0 615.1 L72.0 614.6 L80.0 614.2 L88.0 614.2 L96.0 614.6 L104.0 615.1 L112.0 615.7 L120.0 616.1 L128.0 616.3 L136.0 616.2 L144.0 616.1 L152.0 616.1 L160.0 616.3 L168.0 616.7 L176.0 617.2 L184.0 617.4 L192.0 617.3 L200.0 616.8 L208.0 615.9 L216.0 615.0 L224.0 614.3 L232.0 614.0 L240.0 614.2 L248.0 614.8 L256.0 615.7 L264.0 616.6 L272.0 617.2 L280.0 617.6 L288.0 617.9 L296.0 618.2 L304.0 618.6 L312.0 619.1 L320.0 619.8 L328.0 620.4 L336.0 620.6 L344.0 620.5 L350.0 616.0 L350.0 647.0 L344.0 651.5 L336.0 651.6 L328.0 651.4 L320.0 650.8 L312.0 650.1 L304.0 649.6 L296.0 649.2 L288.0 648.9 L280.0 648.6 L272.0 648.2 L264.0 647.6 L256.0 646.7 L248.0 645.8 L240.0 645.2 L232.0 645.0 L224.0 645.3 L216.0 646.0 L208.0 646.9 L200.0 647.8 L192.0 648.3 L184.0 648.4 L176.0 648.2 L168.0 647.7 L160.0 647.3 L152.0 647.1 L144.0 647.1 L136.0 647.2 L128.0 647.3 L120.0 647.1 L112.0 646.7 L104.0 646.1 L96.0 645.6 L88.0 645.2 L80.0 645.2 L72.0 645.6 L64.0 646.1 L56.0 646.5 L48.0 646.6 L40.0 646.3 L32.0 645.5 L24.0 644.4 L16.0 643.4 L8.0 642.6 L0.0 642.2 Z" fill="#f4ecdc"/><path d="M0.0 723.4 L8.0 722.9 L16.0 722.1 L24.0 721.2 L32.0 720.5 L40.0 720.3 L48.0 720.6 L56.0 721.4 L64.0 722.6 L72.0 723.7 L80.0 724.6 L88.0 725.3 L96.0 725.7 L104.0 726.0 L112.0 726.3 L120.0 726.8 L128.0 727.4 L136.0 728.0 L144.0 728.4 L152.0 728.5 L160.0 728.2 L168.0 727.6 L176.0 727.1 L184.0 726.8 L192.0 726.9 L200.0 727.4 L208.0 728.1 L216.0 728.8 L224.0 729.3 L232.0 729.3 L240.0 729.0 L248.0 728.4 L256.0 727.7 L264.0 727.2 L272.0 727.0 L280.0 726.9 L288.0 726.9 L296.0 726.8 L304.0 726.5 L312.0 726.1 L320.0 725.7 L328.0 725.5 L336.0 725.8 L344.0 726.5 L350.0 726.0 L350.0 751.0 L344.0 751.5 L336.0 750.8 L328.0 750.5 L320.0 750.7 L312.0 751.1 L304.0 751.5 L296.0 751.8 L288.0 751.9 L280.0 751.9 L272.0 752.0 L264.0 752.2 L256.0 752.7 L248.0 753.4 L240.0 754.0 L232.0 754.3 L224.0 754.3 L216.0 753.8 L208.0 753.1 L200.0 752.4 L192.0 751.9 L184.0 751.8 L176.0 752.1 L168.0 752.6 L160.0 753.2 L152.0 753.5 L144.0 753.4 L136.0 753.0 L128.0 752.4 L120.0 751.8 L112.0 751.3 L104.0 751.0 L96.0 750.7 L88.0 750.3 L80.0 749.6 L72.0 748.7 L64.0 747.6 L56.0 746.4 L48.0 745.6 L40.0 745.3 L32.0 745.5 L24.0 746.2 L16.0 747.1 L8.0 747.9 L0.0 748.4 Z" fill="#f4ecdc"/><path d="M0.0 811.5 L8.0 811.4 L16.0 811.6 L24.0 812.4 L32.0 813.5 L40.0 814.7 L48.0 815.7 L56.0 816.3 L64.0 816.4 L72.0 816.2 L80.0 815.9 L88.0 815.5 L96.0 815.3 L104.0 815.3 L112.0 815.3 L120.0 815.2 L128.0 814.8 L136.0 814.2 L144.0 813.6 L152.0 813.1 L160.0 813.0 L168.0 813.3 L176.0 814.1 L184.0 815.1 L192.0 816.0 L200.0 816.6 L208.0 816.8 L216.0 816.6 L224.0 816.3 L232.0 815.9 L240.0 815.9 L248.0 816.1 L256.0 816.6 L264.0 817.1 L272.0 817.5 L280.0 817.7 L288.0 817.7 L296.0 817.7 L304.0 817.8 L312.0 818.2 L320.0 818.8 L328.0 819.6 L336.0 820.2 L344.0 820.5 L350.0 815.0 L350.0 834.0 L344.0 839.5 L336.0 839.2 L328.0 838.6 L320.0 837.8 L312.0 837.2 L304.0 836.8 L296.0 836.7 L288.0 836.7 L280.0 836.7 L272.0 836.5 L264.0 836.1 L256.0 835.6 L248.0 835.1 L240.0 834.9 L232.0 834.9 L224.0 835.3 L216.0 835.6 L208.0 835.8 L200.0 835.6 L192.0 835.0 L184.0 834.1 L176.0 833.1 L168.0 832.3 L160.0 832.0 L152.0 832.1 L144.0 832.6 L136.0 833.2 L128.0 833.8 L120.0 834.2 L112.0 834.3 L104.0 834.3 L96.0 834.3 L88.0 834.5 L80.0 834.9 L72.0 835.2 L64.0 835.4 L56.0 835.3 L48.0 834.7 L40.0 833.7 L32.0 832.5 L24.0 831.4 L16.0 830.6 L8.0 830.4 L0.0 830.5 Z" fill="#f4ecdc"/></g>
</g><path d="M88.0 546.0 L86.0 556.0 L89.0 566.0 L86.0 574.0" fill="none" stroke="#b8b0a0" stroke-width="1.2" stroke-linejoin="round" stroke-linecap="round" opacity="0.8"/>
<path d="M112.0 590.0 L110.0 604.0 L108.0 616.0" fill="none" stroke="#b8b0a0" stroke-width="1.2" stroke-linejoin="round" stroke-linecap="round" opacity="0.8"/>
<path d="M178.0 598.0 L177.0 610.0 L179.0 620.0" fill="none" stroke="#b8b0a0" stroke-width="1.2" stroke-linejoin="round" stroke-linecap="round" opacity="0.8"/>
<path d="M233.0 566.0 L234.0 580.0 L236.0 596.0 L234.0 612.0" fill="none" stroke="#b8b0a0" stroke-width="1.2" stroke-linejoin="round" stroke-linecap="round" opacity="0.8"/>
<path d="M100.0 535.0 L92.0 545.0" fill="none" stroke="#b8b0a0" stroke-width="1.2" stroke-linejoin="round" stroke-linecap="round" opacity="0.8"/>
</g>
<circle cx="175" cy="679" r="171.5" fill="none" stroke="#000" stroke-width="4.1" stroke-dasharray="8.5 4.5"/>
<rect x="335.3" y="503.0" width="55.3" height="47.0" fill="#fff" stroke="#8a8a8a" stroke-width="1"/>
<text x="340.0" y="534.7" font-size="28.34" font-weight="bold" fill="#000" textLength="40.0" lengthAdjust="spacingAndGlyphs">(d)</text>
<text x="728.0" y="535.4" font-size="29.36" font-weight="bold" fill="#fff" textLength="385.5" lengthAdjust="spacingAndGlyphs" xml:space="preserve">Power (<tspan font-style="italic">P</tspan>)  &amp;  Scan Speed (<tspan font-style="italic">v</tspan>)</text>
<text x="0" y="0" font-size="31.98" font-weight="bold" fill="#fff" textLength="74.0" lengthAdjust="spacingAndGlyphs" transform="translate(384.5 569.0) rotate(90)">120W</text>
<text x="0" y="0" font-size="31.98" font-weight="bold" fill="#fff" textLength="73.9" lengthAdjust="spacingAndGlyphs" transform="translate(384.7 662.7) rotate(90)">100W</text>
<line x1="229.0" y1="514.0" x2="511.0" y2="570.6" stroke="#000" stroke-width="4" stroke-dasharray="9 4.5"/>
<line x1="252.0" y1="829.0" x2="514.0" y2="739.3" stroke="#000" stroke-width="4" stroke-dasharray="9 4.5"/>
<circle cx="528.1" cy="655" r="84" fill="none" stroke="#fff" stroke-width="4" stroke-dasharray="8.5 5"/>
<text x="1376.0" y="726.7" font-size="29.07" font-weight="bold" fill="#fff" textLength="99.0" lengthAdjust="spacingAndGlyphs">800 µm</text>
<line x1="1382.7" y1="734.4" x2="1484.0" y2="734.4" stroke="#fff" stroke-width="3"/>
<line x1="519.5" y1="770.8" x2="1465.0" y2="770.8" stroke="#000" stroke-width="4"/>
<line x1="521.0" y1="760.5" x2="521.0" y2="781.0" stroke="#000" stroke-width="4"/>
<line x1="738.0" y1="760.5" x2="738.0" y2="781.0" stroke="#000" stroke-width="4"/>
<line x1="955.5" y1="760.5" x2="955.5" y2="781.0" stroke="#000" stroke-width="4"/>
<line x1="1173.3" y1="760.5" x2="1173.3" y2="781.0" stroke="#000" stroke-width="4"/>
<line x1="1389.8" y1="760.5" x2="1389.8" y2="781.0" stroke="#000" stroke-width="4"/>
<polygon points="1461.5,759.5 1488.5,770.8 1461.5,782.6" fill="#000"/>
<text x="499.4" y="808.6" font-size="31.40" font-weight="bold" fill="#000" textLength="49.4" lengthAdjust="spacingAndGlyphs">400</text>
<text x="712.7" y="808.6" font-size="31.40" font-weight="bold" fill="#000" textLength="50.3" lengthAdjust="spacingAndGlyphs">800</text>
<text x="920.7" y="808.6" font-size="31.40" font-weight="bold" fill="#000" textLength="65.8" lengthAdjust="spacingAndGlyphs">1200</text>
<text x="1137.3" y="808.6" font-size="31.40" font-weight="bold" fill="#000" textLength="66.2" lengthAdjust="spacingAndGlyphs">1600</text>
<text x="1353.4" y="808.6" font-size="31.40" font-weight="bold" fill="#000" textLength="66.2" lengthAdjust="spacingAndGlyphs">2000</text>
<text x="774.8" y="857.3" font-size="28.20" font-weight="bold" fill="#000" textLength="281.2" lengthAdjust="spacingAndGlyphs" letter-spacing="2">Scan speed (mm/s)</text>
<line x1="123.7" y1="554.0" x2="106.7" y2="558.4" stroke="#3a3a00" stroke-width="4.0"/>
<polygon points="98.0,560.6 107.3,552.5 110.0,563.2" fill="#ffff00" stroke="#3a3a00" stroke-width="0.8"/>
<line x1="123.7" y1="554.0" x2="106.7" y2="558.4" stroke="#ffff00" stroke-width="2.6"/>
<line x1="158.0" y1="561.5" x2="122.1" y2="583.8" stroke="#3a3a00" stroke-width="4.0"/>
<polygon points="114.5,588.5 120.9,578.0 126.7,587.4" fill="#ffff00" stroke="#3a3a00" stroke-width="0.8"/>
<line x1="158.0" y1="561.5" x2="122.1" y2="583.8" stroke="#ffff00" stroke-width="2.6"/>
<line x1="175.3" y1="563.3" x2="177.4" y2="587.5" stroke="#3a3a00" stroke-width="4.0"/>
<polygon points="178.2,596.5 171.8,586.0 182.7,585.1" fill="#ffff00" stroke="#3a3a00" stroke-width="0.8"/>
<line x1="175.3" y1="563.3" x2="177.4" y2="587.5" stroke="#ffff00" stroke-width="2.6"/>
<line x1="189.7" y1="562.2" x2="223.4" y2="591.3" stroke="#3a3a00" stroke-width="4.0"/>
<polygon points="230.2,597.2 218.3,594.2 225.5,585.8" fill="#ffff00" stroke="#3a3a00" stroke-width="0.8"/>
<line x1="189.7" y1="562.2" x2="223.4" y2="591.3" stroke="#ffff00" stroke-width="2.6"/>
<line x1="214.9" y1="559.9" x2="225.3" y2="562.4" stroke="#3a3a00" stroke-width="4.0"/>
<polygon points="234.1,564.5 222.1,567.3 224.7,556.6" fill="#ffff00" stroke="#3a3a00" stroke-width="0.8"/>
<line x1="214.9" y1="559.9" x2="225.3" y2="562.4" stroke="#ffff00" stroke-width="2.6"/>
<text x="127.0" y="553.7" font-size="26.89" font-weight="bold" fill="#ffff00" textLength="79.2" lengthAdjust="spacingAndGlyphs" stroke="#222" stroke-width="2.5" paint-order="stroke" stroke-linejoin="round">Cracks</text>
<rect x="1515.6" y="502.0" width="488.0" height="366.9" fill="#686868"/>
<defs><clipPath id="clipE"><rect x="1515.6" y="502" width="488.0" height="366.9"/></clipPath><linearGradient id="semMaskG" gradientUnits="userSpaceOnUse" x1="1700" y1="0" x2="1790" y2="0"><stop offset="0" stop-color="#000"/><stop offset="1" stop-color="#fff"/></linearGradient><mask id="semMask" maskUnits="userSpaceOnUse" x="1500" y="490" width="520" height="390"><rect x="1500" y="490" width="520" height="390" fill="url(#semMaskG)"/></mask><clipPath id="clipPore"><ellipse cx="1757.8" cy="679" rx="107" ry="94.5"/></clipPath></defs>
<g clip-path="url(#clipE)"><g transform="rotate(-58 1760 685)"><rect x="1400" y="330" width="720" height="720" fill="#777" filter="url(#sem)"/></g><g mask="url(#semMask)"><g transform="rotate(-38 1760 685)"><rect x="1400" y="330" width="720" height="720" fill="#777" filter="url(#sem2)"/></g></g></g>
<ellipse cx="1757.8" cy="679" rx="109" ry="96.5" fill="#1a1a1a" filter="url(#bl2)"/>
<g clip-path="url(#clipPore)"><ellipse cx="1757.8" cy="679" rx="108" ry="95.5" fill="url(#poreG)"/>
<ellipse cx="1765" cy="760" rx="80" ry="22" fill="#565656" filter="url(#bl6)" opacity="0.9"/>
<ellipse cx="1750" cy="700" rx="92" ry="62" fill="#121212" filter="url(#bl6)" opacity="0.85"/>
<g filter="url(#semP)"><polygon points="1663.9,624.2 1685.4,616.6 1703.0,607.8 1715.6,600.2 1725.7,593.9 1745.9,595.2 1753.4,607.8 1745.9,620.4 1723.2,628.0 1713.1,645.6 1690.4,650.7 1672.8,638.1" fill="#363636"/>
<polygon points="1728.2,630.5 1748.4,617.9 1758.5,633.0 1753.4,653.2 1735.8,655.7" fill="#4c4c4c"/>
<polygon points="1761.0,595.2 1781.2,588.9 1796.3,597.7 1801.3,615.4 1816.5,628.0 1829.1,653.2 1831.6,675.9 1821.5,696.0 1801.3,711.2 1796.3,721.2 1771.1,716.2 1753.4,701.1 1745.9,678.4 1756.0,665.8 1761.0,645.6 1758.5,625.5" fill="#585858"/>
<polygon points="1766.0,600.2 1788.7,597.7 1793.8,620.4 1776.1,630.5 1763.5,620.4" fill="#727272"/>
<polygon points="1758.5,670.8 1791.2,665.8 1801.3,688.5 1781.2,706.1 1758.5,691.0" fill="#686868"/>
<polygon points="1788.7,628.0 1811.4,633.0 1819.0,655.7 1801.3,663.3 1791.2,650.7" fill="#202020"/>
<polygon points="1781.2,645.6 1791.2,653.2 1788.7,665.8 1778.6,660.7" fill="#1c1c1c"/>
<polygon points="1819.0,620.4 1831.6,616.6 1845.4,635.5 1853.0,665.8 1853.0,701.1 1841.7,708.6 1825.3,697.3 1820.2,683.4 1832.8,665.8 1827.8,640.6" fill="#6a6a6a"/>
<polygon points="1667.7,680.9 1690.4,660.7 1713.1,663.3 1745.9,691.0 1748.4,701.1 1728.2,721.2 1713.1,731.3 1687.9,718.7 1670.2,701.1" fill="#3c3c3c"/>
<polygon points="1690.4,661.3 1713.1,663.8 1745.9,691.5 1723.2,688.5 1700.5,675.9" fill="#4a4a4a"/>
<polygon points="1723.2,723.8 1740.8,706.1 1766.0,726.3 1769.8,749.0 1753.4,766.6 1725.7,756.5" fill="#2a2a2a"/>
<polygon points="1781.2,731.3 1793.8,721.2 1796.3,746.5 1791.2,766.6 1783.7,761.6" fill="#4c4c4c"/>
</g></g>
<rect x="1517.0" y="503.3" width="46.7" height="39.4" fill="#fff"/>
<text x="1521.5" y="531.5" font-size="28.34" font-weight="bold" fill="#000" textLength="37.5" lengthAdjust="spacingAndGlyphs">(e)</text>
<rect x="1516.6" y="503" width="486.0" height="364.9" fill="none" stroke="#000" stroke-width="2.4"/>
<line x1="1890.8" y1="578.2" x2="1848.0" y2="607.4" stroke="#ffff00" stroke-width="2.6"/>
<polygon points="1840.0,612.8 1846.5,601.5 1853.5,611.5" fill="#ffff00"/>
<text x="1891.7" y="568.7" font-size="27.62" font-weight="bold" fill="#ffff00" textLength="58.5" lengthAdjust="spacingAndGlyphs" stroke="#333" stroke-width="2.2" paint-order="stroke" stroke-linejoin="round">Pore</text>
<text x="1520.0" y="862.5" font-size="13.95" font-weight="normal" fill="#d8d8d8" textLength="248.0" lengthAdjust="spacingAndGlyphs">SU8000 10.0kV 10.0mm x3.00k SE(U)</text>
<path d="M1875.3 836.8 H1880.6 V849.4 H1990.4 V836.8 H1995.6 V856.3 H1875.3 Z" fill="#fff" stroke="#111" stroke-width="2.2" stroke-linejoin="miter" paint-order="stroke"/>
<line x1="1884.0" y1="842.0" x2="1884.0" y2="846.0" stroke="#ddd" stroke-width="1.2"/>
<line x1="1894.3" y1="842.0" x2="1894.3" y2="846.0" stroke="#ddd" stroke-width="1.2"/>
<line x1="1904.6" y1="842.0" x2="1904.6" y2="846.0" stroke="#ddd" stroke-width="1.2"/>
<line x1="1914.9" y1="842.0" x2="1914.9" y2="846.0" stroke="#ddd" stroke-width="1.2"/>
<line x1="1925.2" y1="842.0" x2="1925.2" y2="846.0" stroke="#ddd" stroke-width="1.2"/>
<line x1="1935.5" y1="842.0" x2="1935.5" y2="846.0" stroke="#ddd" stroke-width="1.2"/>
<line x1="1945.8" y1="842.0" x2="1945.8" y2="846.0" stroke="#ddd" stroke-width="1.2"/>
<line x1="1956.1" y1="842.0" x2="1956.1" y2="846.0" stroke="#ddd" stroke-width="1.2"/>
<line x1="1966.4" y1="842.0" x2="1966.4" y2="846.0" stroke="#ddd" stroke-width="1.2"/>
<line x1="1976.7" y1="842.0" x2="1976.7" y2="846.0" stroke="#ddd" stroke-width="1.2"/>
<line x1="1987.0" y1="842.0" x2="1987.0" y2="846.0" stroke="#ddd" stroke-width="1.2"/>
<text x="1883.3" y="827.0" font-size="27.03" font-weight="bold" fill="#fff" textLength="104.2" lengthAdjust="spacingAndGlyphs" stroke="#222" stroke-width="3" paint-order="stroke" stroke-linejoin="round">10.0 µm</text>

</svg>
</body></html>
